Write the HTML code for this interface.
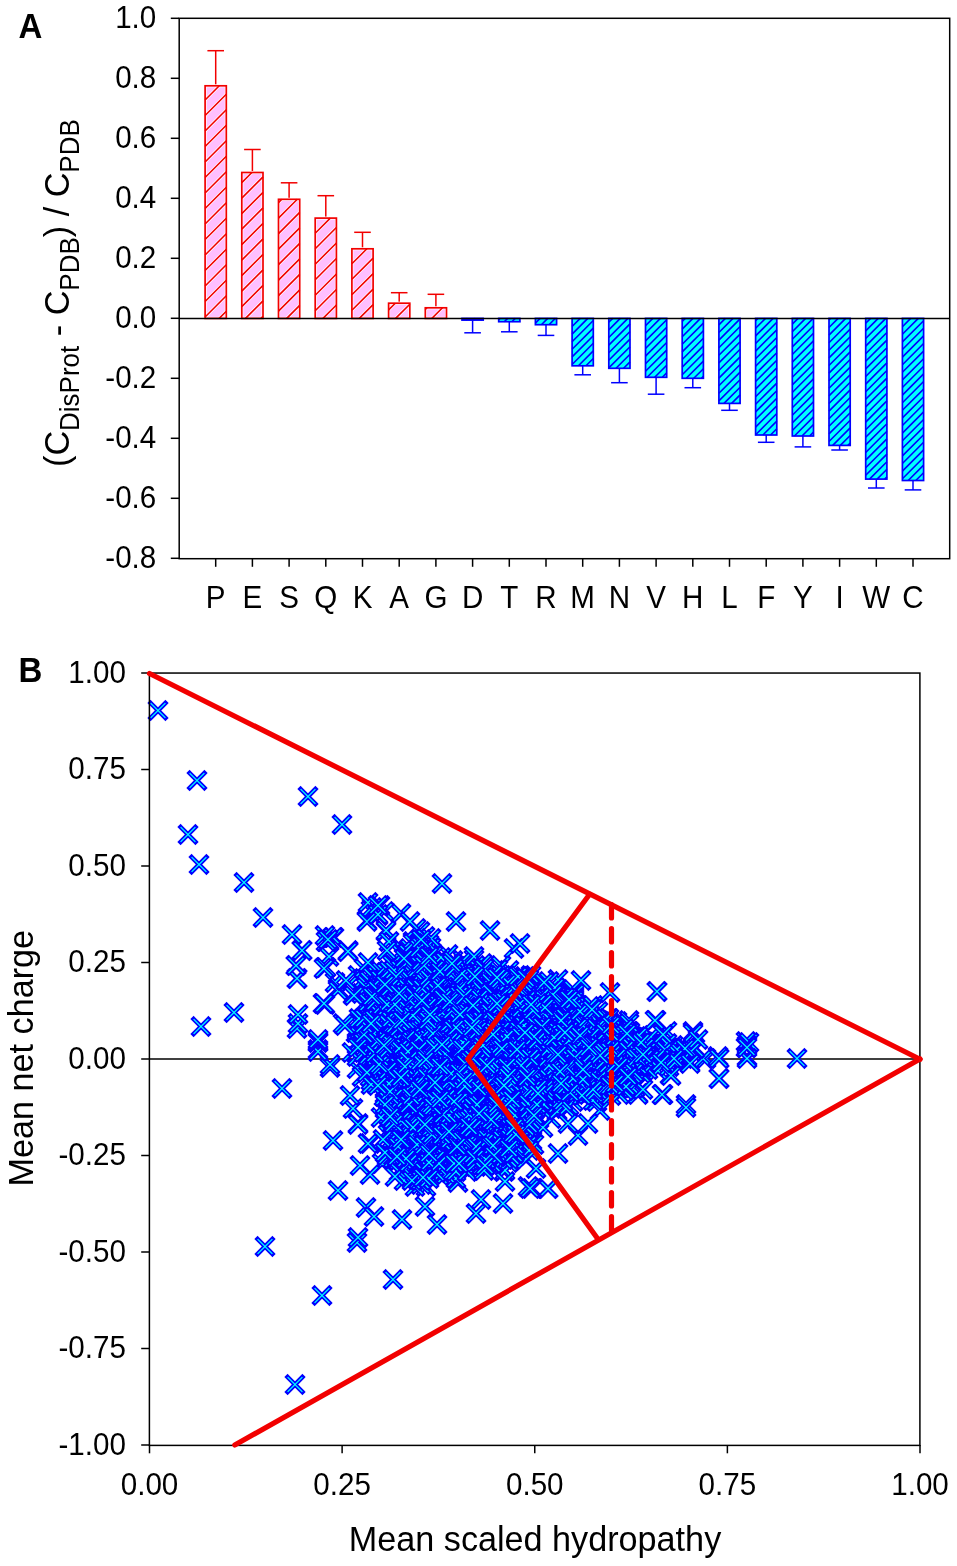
<!DOCTYPE html>
<html><head><meta charset="utf-8"><style>
html,body{margin:0;padding:0;background:#fff;}
body{width:957px;height:1566px;overflow:hidden;}
svg{display:block;will-change:transform;}
</style></head><body>
<svg width="957" height="1566" viewBox="0 0 957 1566">
<rect width="957" height="1566" fill="#fff"/>
<line x1="215.70" y1="85.80" x2="215.70" y2="50.70" stroke="#F20000" stroke-width="1.5"/>
<line x1="207.40" y1="50.70" x2="224.00" y2="50.70" stroke="#F20000" stroke-width="1.5"/>
<rect x="205.10" y="85.80" width="21.20" height="232.60" fill="#FFBFFF" stroke="#FFFFFF" stroke-width="3.0"/>
<path d="M205.10,100.00L219.30,85.80M205.10,115.50L226.30,94.30M205.10,131.00L226.30,109.80M205.10,146.50L226.30,125.30M205.10,162.00L226.30,140.80M205.10,177.50L226.30,156.30M205.10,193.00L226.30,171.80M205.10,208.50L226.30,187.30M205.10,224.00L226.30,202.80M205.10,239.50L226.30,218.30M205.10,255.00L226.30,233.80M205.10,270.50L226.30,249.30M205.10,286.00L226.30,264.80M205.10,301.50L226.30,280.30M205.10,317.00L226.30,295.80M219.20,318.40L226.30,311.30" stroke="#FFFFFF" stroke-width="3.0"/>
<path d="M205.10,100.00L219.30,85.80M205.10,115.50L226.30,94.30M205.10,131.00L226.30,109.80M205.10,146.50L226.30,125.30M205.10,162.00L226.30,140.80M205.10,177.50L226.30,156.30M205.10,193.00L226.30,171.80M205.10,208.50L226.30,187.30M205.10,224.00L226.30,202.80M205.10,239.50L226.30,218.30M205.10,255.00L226.30,233.80M205.10,270.50L226.30,249.30M205.10,286.00L226.30,264.80M205.10,301.50L226.30,280.30M205.10,317.00L226.30,295.80M219.20,318.40L226.30,311.30" stroke="#F20000" stroke-width="1.6"/>
<rect x="205.10" y="85.80" width="21.20" height="232.60" fill="none" stroke="#F20000" stroke-width="1.7"/>
<line x1="252.40" y1="172.50" x2="252.40" y2="149.50" stroke="#F20000" stroke-width="1.5"/>
<line x1="244.10" y1="149.50" x2="260.70" y2="149.50" stroke="#F20000" stroke-width="1.5"/>
<rect x="241.80" y="172.50" width="21.20" height="145.90" fill="#FFBFFF" stroke="#FFFFFF" stroke-width="3.0"/>
<path d="M241.80,182.60L251.90,172.50M241.80,198.10L263.00,176.90M241.80,213.60L263.00,192.40M241.80,229.10L263.00,207.90M241.80,244.60L263.00,223.40M241.80,260.10L263.00,238.90M241.80,275.60L263.00,254.40M241.80,291.10L263.00,269.90M241.80,306.60L263.00,285.40M245.50,318.40L263.00,300.90M261.00,318.40L263.00,316.40" stroke="#FFFFFF" stroke-width="3.0"/>
<path d="M241.80,182.60L251.90,172.50M241.80,198.10L263.00,176.90M241.80,213.60L263.00,192.40M241.80,229.10L263.00,207.90M241.80,244.60L263.00,223.40M241.80,260.10L263.00,238.90M241.80,275.60L263.00,254.40M241.80,291.10L263.00,269.90M241.80,306.60L263.00,285.40M245.50,318.40L263.00,300.90M261.00,318.40L263.00,316.40" stroke="#F20000" stroke-width="1.6"/>
<rect x="241.80" y="172.50" width="21.20" height="145.90" fill="none" stroke="#F20000" stroke-width="1.7"/>
<line x1="289.10" y1="199.30" x2="289.10" y2="182.80" stroke="#F20000" stroke-width="1.5"/>
<line x1="280.80" y1="182.80" x2="297.40" y2="182.80" stroke="#F20000" stroke-width="1.5"/>
<rect x="278.50" y="199.30" width="21.20" height="119.10" fill="#FFBFFF" stroke="#FFFFFF" stroke-width="3.0"/>
<path d="M278.50,202.60L281.80,199.30M278.50,218.10L297.30,199.30M278.50,233.60L299.70,212.40M278.50,249.10L299.70,227.90M278.50,264.60L299.70,243.40M278.50,280.10L299.70,258.90M278.50,295.60L299.70,274.40M278.50,311.10L299.70,289.90M286.70,318.40L299.70,305.40" stroke="#FFFFFF" stroke-width="3.0"/>
<path d="M278.50,202.60L281.80,199.30M278.50,218.10L297.30,199.30M278.50,233.60L299.70,212.40M278.50,249.10L299.70,227.90M278.50,264.60L299.70,243.40M278.50,280.10L299.70,258.90M278.50,295.60L299.70,274.40M278.50,311.10L299.70,289.90M286.70,318.40L299.70,305.40" stroke="#F20000" stroke-width="1.6"/>
<rect x="278.50" y="199.30" width="21.20" height="119.10" fill="none" stroke="#F20000" stroke-width="1.7"/>
<line x1="325.80" y1="218.10" x2="325.80" y2="195.70" stroke="#F20000" stroke-width="1.5"/>
<line x1="317.50" y1="195.70" x2="334.10" y2="195.70" stroke="#F20000" stroke-width="1.5"/>
<rect x="315.20" y="218.10" width="21.20" height="100.30" fill="#FFBFFF" stroke="#FFFFFF" stroke-width="3.0"/>
<path d="M315.20,233.20L330.30,218.10M315.20,248.70L336.40,227.50M315.20,264.20L336.40,243.00M315.20,279.70L336.40,258.50M315.20,295.20L336.40,274.00M315.20,310.70L336.40,289.50M323.00,318.40L336.40,305.00" stroke="#FFFFFF" stroke-width="3.0"/>
<path d="M315.20,233.20L330.30,218.10M315.20,248.70L336.40,227.50M315.20,264.20L336.40,243.00M315.20,279.70L336.40,258.50M315.20,295.20L336.40,274.00M315.20,310.70L336.40,289.50M323.00,318.40L336.40,305.00" stroke="#F20000" stroke-width="1.6"/>
<rect x="315.20" y="218.10" width="21.20" height="100.30" fill="none" stroke="#F20000" stroke-width="1.7"/>
<line x1="362.50" y1="248.80" x2="362.50" y2="232.30" stroke="#F20000" stroke-width="1.5"/>
<line x1="354.20" y1="232.30" x2="370.80" y2="232.30" stroke="#F20000" stroke-width="1.5"/>
<rect x="351.90" y="248.80" width="21.20" height="69.60" fill="#FFBFFF" stroke="#FFFFFF" stroke-width="3.0"/>
<path d="M351.90,263.80L366.90,248.80M351.90,279.30L373.10,258.10M351.90,294.80L373.10,273.60M351.90,310.30L373.10,289.10M359.30,318.40L373.10,304.60" stroke="#FFFFFF" stroke-width="3.0"/>
<path d="M351.90,263.80L366.90,248.80M351.90,279.30L373.10,258.10M351.90,294.80L373.10,273.60M351.90,310.30L373.10,289.10M359.30,318.40L373.10,304.60" stroke="#F20000" stroke-width="1.6"/>
<rect x="351.90" y="248.80" width="21.20" height="69.60" fill="none" stroke="#F20000" stroke-width="1.7"/>
<line x1="399.20" y1="303.20" x2="399.20" y2="292.70" stroke="#F20000" stroke-width="1.5"/>
<line x1="390.90" y1="292.70" x2="407.50" y2="292.70" stroke="#F20000" stroke-width="1.5"/>
<rect x="388.60" y="303.20" width="21.20" height="15.20" fill="#FFBFFF" stroke="#FFFFFF" stroke-width="3.0"/>
<path d="M388.60,309.90L395.30,303.20M395.60,318.40L409.80,304.20" stroke="#FFFFFF" stroke-width="3.0"/>
<path d="M388.60,309.90L395.30,303.20M395.60,318.40L409.80,304.20" stroke="#F20000" stroke-width="1.6"/>
<rect x="388.60" y="303.20" width="21.20" height="15.20" fill="none" stroke="#F20000" stroke-width="1.7"/>
<line x1="435.90" y1="307.80" x2="435.90" y2="294.30" stroke="#F20000" stroke-width="1.5"/>
<line x1="427.60" y1="294.30" x2="444.20" y2="294.30" stroke="#F20000" stroke-width="1.5"/>
<rect x="425.30" y="307.80" width="21.20" height="10.60" fill="#FFBFFF" stroke="#FFFFFF" stroke-width="3.0"/>
<path d="M425.30,309.50L427.00,307.80M431.90,318.40L442.50,307.80" stroke="#FFFFFF" stroke-width="3.0"/>
<path d="M425.30,309.50L427.00,307.80M431.90,318.40L442.50,307.80" stroke="#F20000" stroke-width="1.6"/>
<rect x="425.30" y="307.80" width="21.20" height="10.60" fill="none" stroke="#F20000" stroke-width="1.7"/>
<line x1="472.60" y1="320.10" x2="472.60" y2="332.80" stroke="#0000FF" stroke-width="1.5"/>
<line x1="464.30" y1="332.80" x2="480.90" y2="332.80" stroke="#0000FF" stroke-width="1.5"/>
<rect x="462.00" y="318.40" width="21.20" height="1.70" fill="#00FFFF"/>
<path d="M465.80,320.10L467.50,318.40M473.40,320.10L475.10,318.40M481.00,320.10L482.70,318.40" stroke="#0000FF" stroke-width="1.6"/>
<rect x="462.00" y="318.40" width="21.20" height="1.70" fill="none" stroke="#0000FF" stroke-width="1.7"/>
<line x1="509.30" y1="321.70" x2="509.30" y2="331.80" stroke="#0000FF" stroke-width="1.5"/>
<line x1="501.00" y1="331.80" x2="517.60" y2="331.80" stroke="#0000FF" stroke-width="1.5"/>
<rect x="498.70" y="318.40" width="21.20" height="3.30" fill="#00FFFF"/>
<path d="M498.70,319.70L500.00,318.40M504.30,321.70L507.60,318.40M511.90,321.70L515.20,318.40M519.50,321.70L519.90,321.30" stroke="#0000FF" stroke-width="1.6"/>
<rect x="498.70" y="318.40" width="21.20" height="3.30" fill="none" stroke="#0000FF" stroke-width="1.7"/>
<line x1="546.00" y1="324.70" x2="546.00" y2="335.40" stroke="#0000FF" stroke-width="1.5"/>
<line x1="537.70" y1="335.40" x2="554.30" y2="335.40" stroke="#0000FF" stroke-width="1.5"/>
<rect x="535.40" y="318.40" width="21.20" height="6.30" fill="#00FFFF"/>
<path d="M535.40,323.10L540.10,318.40M541.40,324.70L547.70,318.40M549.00,324.70L555.30,318.40" stroke="#0000FF" stroke-width="1.6"/>
<rect x="535.40" y="318.40" width="21.20" height="6.30" fill="none" stroke="#0000FF" stroke-width="1.7"/>
<line x1="582.70" y1="365.80" x2="582.70" y2="374.80" stroke="#0000FF" stroke-width="1.5"/>
<line x1="574.40" y1="374.80" x2="591.00" y2="374.80" stroke="#0000FF" stroke-width="1.5"/>
<rect x="572.10" y="318.40" width="21.20" height="47.40" fill="#00FFFF"/>
<path d="M572.10,318.90L572.60,318.40M572.10,326.50L580.20,318.40M572.10,334.10L587.80,318.40M572.10,341.70L593.30,320.50M572.10,349.30L593.30,328.10M572.10,356.90L593.30,335.70M572.10,364.50L593.30,343.30M578.40,365.80L593.30,350.90M586.00,365.80L593.30,358.50" stroke="#0000FF" stroke-width="1.6"/>
<rect x="572.10" y="318.40" width="21.20" height="47.40" fill="none" stroke="#0000FF" stroke-width="1.7"/>
<line x1="619.40" y1="368.30" x2="619.40" y2="382.70" stroke="#0000FF" stroke-width="1.5"/>
<line x1="611.10" y1="382.70" x2="627.70" y2="382.70" stroke="#0000FF" stroke-width="1.5"/>
<rect x="608.80" y="318.40" width="21.20" height="49.90" fill="#00FFFF"/>
<path d="M608.80,322.30L612.70,318.40M608.80,329.90L620.30,318.40M608.80,337.50L627.90,318.40M608.80,345.10L630.00,323.90M608.80,352.70L630.00,331.50M608.80,360.30L630.00,339.10M608.80,367.90L630.00,346.70M616.00,368.30L630.00,354.30M623.60,368.30L630.00,361.90" stroke="#0000FF" stroke-width="1.6"/>
<rect x="608.80" y="318.40" width="21.20" height="49.90" fill="none" stroke="#0000FF" stroke-width="1.7"/>
<line x1="656.10" y1="377.30" x2="656.10" y2="394.20" stroke="#0000FF" stroke-width="1.5"/>
<line x1="647.80" y1="394.20" x2="664.40" y2="394.20" stroke="#0000FF" stroke-width="1.5"/>
<rect x="645.50" y="318.40" width="21.20" height="58.90" fill="#00FFFF"/>
<path d="M645.50,325.70L652.80,318.40M645.50,333.30L660.40,318.40M645.50,340.90L666.70,319.70M645.50,348.50L666.70,327.30M645.50,356.10L666.70,334.90M645.50,363.70L666.70,342.50M645.50,371.30L666.70,350.10M647.10,377.30L666.70,357.70M654.70,377.30L666.70,365.30M662.30,377.30L666.70,372.90" stroke="#0000FF" stroke-width="1.6"/>
<rect x="645.50" y="318.40" width="21.20" height="58.90" fill="none" stroke="#0000FF" stroke-width="1.7"/>
<line x1="692.80" y1="378.30" x2="692.80" y2="387.70" stroke="#0000FF" stroke-width="1.5"/>
<line x1="684.50" y1="387.70" x2="701.10" y2="387.70" stroke="#0000FF" stroke-width="1.5"/>
<rect x="682.20" y="318.40" width="21.20" height="59.90" fill="#00FFFF"/>
<path d="M682.20,321.50L685.30,318.40M682.20,329.10L692.90,318.40M682.20,336.70L700.50,318.40M682.20,344.30L703.40,323.10M682.20,351.90L703.40,330.70M682.20,359.50L703.40,338.30M682.20,367.10L703.40,345.90M682.20,374.70L703.40,353.50M686.20,378.30L703.40,361.10M693.80,378.30L703.40,368.70M701.40,378.30L703.40,376.30" stroke="#0000FF" stroke-width="1.6"/>
<rect x="682.20" y="318.40" width="21.20" height="59.90" fill="none" stroke="#0000FF" stroke-width="1.7"/>
<line x1="729.50" y1="403.40" x2="729.50" y2="410.30" stroke="#0000FF" stroke-width="1.5"/>
<line x1="721.20" y1="410.30" x2="737.80" y2="410.30" stroke="#0000FF" stroke-width="1.5"/>
<rect x="718.90" y="318.40" width="21.20" height="85.00" fill="#00FFFF"/>
<path d="M718.90,324.90L725.40,318.40M718.90,332.50L733.00,318.40M718.90,340.10L740.10,318.90M718.90,347.70L740.10,326.50M718.90,355.30L740.10,334.10M718.90,362.90L740.10,341.70M718.90,370.50L740.10,349.30M718.90,378.10L740.10,356.90M718.90,385.70L740.10,364.50M718.90,393.30L740.10,372.10M718.90,400.90L740.10,379.70M724.00,403.40L740.10,387.30M731.60,403.40L740.10,394.90M739.20,403.40L740.10,402.50" stroke="#0000FF" stroke-width="1.6"/>
<rect x="718.90" y="318.40" width="21.20" height="85.00" fill="none" stroke="#0000FF" stroke-width="1.7"/>
<line x1="766.20" y1="435.00" x2="766.20" y2="442.30" stroke="#0000FF" stroke-width="1.5"/>
<line x1="757.90" y1="442.30" x2="774.50" y2="442.30" stroke="#0000FF" stroke-width="1.5"/>
<rect x="755.60" y="318.40" width="21.20" height="116.60" fill="#00FFFF"/>
<path d="M755.60,320.70L757.90,318.40M755.60,328.30L765.50,318.40M755.60,335.90L773.10,318.40M755.60,343.50L776.80,322.30M755.60,351.10L776.80,329.90M755.60,358.70L776.80,337.50M755.60,366.30L776.80,345.10M755.60,373.90L776.80,352.70M755.60,381.50L776.80,360.30M755.60,389.10L776.80,367.90M755.60,396.70L776.80,375.50M755.60,404.30L776.80,383.10M755.60,411.90L776.80,390.70M755.60,419.50L776.80,398.30M755.60,427.10L776.80,405.90M755.60,434.70L776.80,413.50M762.90,435.00L776.80,421.10M770.50,435.00L776.80,428.70" stroke="#0000FF" stroke-width="1.6"/>
<rect x="755.60" y="318.40" width="21.20" height="116.60" fill="none" stroke="#0000FF" stroke-width="1.7"/>
<line x1="802.90" y1="436.00" x2="802.90" y2="446.90" stroke="#0000FF" stroke-width="1.5"/>
<line x1="794.60" y1="446.90" x2="811.20" y2="446.90" stroke="#0000FF" stroke-width="1.5"/>
<rect x="792.30" y="318.40" width="21.20" height="117.60" fill="#00FFFF"/>
<path d="M792.30,324.10L798.00,318.40M792.30,331.70L805.60,318.40M792.30,339.30L813.20,318.40M792.30,346.90L813.50,325.70M792.30,354.50L813.50,333.30M792.30,362.10L813.50,340.90M792.30,369.70L813.50,348.50M792.30,377.30L813.50,356.10M792.30,384.90L813.50,363.70M792.30,392.50L813.50,371.30M792.30,400.10L813.50,378.90M792.30,407.70L813.50,386.50M792.30,415.30L813.50,394.10M792.30,422.90L813.50,401.70M792.30,430.50L813.50,409.30M794.40,436.00L813.50,416.90M802.00,436.00L813.50,424.50M809.60,436.00L813.50,432.10" stroke="#0000FF" stroke-width="1.6"/>
<rect x="792.30" y="318.40" width="21.20" height="117.60" fill="none" stroke="#0000FF" stroke-width="1.7"/>
<line x1="839.60" y1="445.40" x2="839.60" y2="450.00" stroke="#0000FF" stroke-width="1.5"/>
<line x1="831.30" y1="450.00" x2="847.90" y2="450.00" stroke="#0000FF" stroke-width="1.5"/>
<rect x="829.00" y="318.40" width="21.20" height="127.00" fill="#00FFFF"/>
<path d="M829.00,319.90L830.50,318.40M829.00,327.50L838.10,318.40M829.00,335.10L845.70,318.40M829.00,342.70L850.20,321.50M829.00,350.30L850.20,329.10M829.00,357.90L850.20,336.70M829.00,365.50L850.20,344.30M829.00,373.10L850.20,351.90M829.00,380.70L850.20,359.50M829.00,388.30L850.20,367.10M829.00,395.90L850.20,374.70M829.00,403.50L850.20,382.30M829.00,411.10L850.20,389.90M829.00,418.70L850.20,397.50M829.00,426.30L850.20,405.10M829.00,433.90L850.20,412.70M829.00,441.50L850.20,420.30M832.70,445.40L850.20,427.90M840.30,445.40L850.20,435.50M847.90,445.40L850.20,443.10" stroke="#0000FF" stroke-width="1.6"/>
<rect x="829.00" y="318.40" width="21.20" height="127.00" fill="none" stroke="#0000FF" stroke-width="1.7"/>
<line x1="876.30" y1="479.10" x2="876.30" y2="488.00" stroke="#0000FF" stroke-width="1.5"/>
<line x1="868.00" y1="488.00" x2="884.60" y2="488.00" stroke="#0000FF" stroke-width="1.5"/>
<rect x="865.70" y="318.40" width="21.20" height="160.70" fill="#00FFFF"/>
<path d="M865.70,323.30L870.60,318.40M865.70,330.90L878.20,318.40M865.70,338.50L885.80,318.40M865.70,346.10L886.90,324.90M865.70,353.70L886.90,332.50M865.70,361.30L886.90,340.10M865.70,368.90L886.90,347.70M865.70,376.50L886.90,355.30M865.70,384.10L886.90,362.90M865.70,391.70L886.90,370.50M865.70,399.30L886.90,378.10M865.70,406.90L886.90,385.70M865.70,414.50L886.90,393.30M865.70,422.10L886.90,400.90M865.70,429.70L886.90,408.50M865.70,437.30L886.90,416.10M865.70,444.90L886.90,423.70M865.70,452.50L886.90,431.30M865.70,460.10L886.90,438.90M865.70,467.70L886.90,446.50M865.70,475.30L886.90,454.10M869.50,479.10L886.90,461.70M877.10,479.10L886.90,469.30M884.70,479.10L886.90,476.90" stroke="#0000FF" stroke-width="1.6"/>
<rect x="865.70" y="318.40" width="21.20" height="160.70" fill="none" stroke="#0000FF" stroke-width="1.7"/>
<line x1="913.00" y1="480.50" x2="913.00" y2="489.90" stroke="#0000FF" stroke-width="1.5"/>
<line x1="904.70" y1="489.90" x2="921.30" y2="489.90" stroke="#0000FF" stroke-width="1.5"/>
<rect x="902.40" y="318.40" width="21.20" height="162.10" fill="#00FFFF"/>
<path d="M902.40,319.10L903.10,318.40M902.40,326.70L910.70,318.40M902.40,334.30L918.30,318.40M902.40,341.90L923.60,320.70M902.40,349.50L923.60,328.30M902.40,357.10L923.60,335.90M902.40,364.70L923.60,343.50M902.40,372.30L923.60,351.10M902.40,379.90L923.60,358.70M902.40,387.50L923.60,366.30M902.40,395.10L923.60,373.90M902.40,402.70L923.60,381.50M902.40,410.30L923.60,389.10M902.40,417.90L923.60,396.70M902.40,425.50L923.60,404.30M902.40,433.10L923.60,411.90M902.40,440.70L923.60,419.50M902.40,448.30L923.60,427.10M902.40,455.90L923.60,434.70M902.40,463.50L923.60,442.30M902.40,471.10L923.60,449.90M902.40,478.70L923.60,457.50M908.20,480.50L923.60,465.10M915.80,480.50L923.60,472.70M923.40,480.50L923.60,480.30" stroke="#0000FF" stroke-width="1.6"/>
<rect x="902.40" y="318.40" width="21.20" height="162.10" fill="none" stroke="#0000FF" stroke-width="1.7"/>
<line x1="179.0" y1="318.4" x2="949.7" y2="318.4" stroke="#000" stroke-width="1.5"/>
<rect x="179.2" y="18.3" width="770.5" height="540.4" fill="none" stroke="#000" stroke-width="1.5"/>
<line x1="170.8" y1="18.30" x2="179.0" y2="18.30" stroke="#000" stroke-width="1.5"/>
<text transform="translate(156.30,28.20) scale(1,1.075)" text-anchor="end" font-size="29.6" font-family='"Liberation Sans", sans-serif'>1.0</text>
<line x1="170.8" y1="78.30" x2="179.0" y2="78.30" stroke="#000" stroke-width="1.5"/>
<text transform="translate(156.30,88.20) scale(1,1.075)" text-anchor="end" font-size="29.6" font-family='"Liberation Sans", sans-serif'>0.8</text>
<line x1="170.8" y1="138.30" x2="179.0" y2="138.30" stroke="#000" stroke-width="1.5"/>
<text transform="translate(156.30,148.20) scale(1,1.075)" text-anchor="end" font-size="29.6" font-family='"Liberation Sans", sans-serif'>0.6</text>
<line x1="170.8" y1="198.30" x2="179.0" y2="198.30" stroke="#000" stroke-width="1.5"/>
<text transform="translate(156.30,208.20) scale(1,1.075)" text-anchor="end" font-size="29.6" font-family='"Liberation Sans", sans-serif'>0.4</text>
<line x1="170.8" y1="258.30" x2="179.0" y2="258.30" stroke="#000" stroke-width="1.5"/>
<text transform="translate(156.30,268.20) scale(1,1.075)" text-anchor="end" font-size="29.6" font-family='"Liberation Sans", sans-serif'>0.2</text>
<line x1="170.8" y1="318.30" x2="179.0" y2="318.30" stroke="#000" stroke-width="1.5"/>
<text transform="translate(156.30,328.20) scale(1,1.075)" text-anchor="end" font-size="29.6" font-family='"Liberation Sans", sans-serif'>0.0</text>
<line x1="170.8" y1="378.30" x2="179.0" y2="378.30" stroke="#000" stroke-width="1.5"/>
<text transform="translate(156.30,388.20) scale(1,1.075)" text-anchor="end" font-size="29.6" font-family='"Liberation Sans", sans-serif'>-0.2</text>
<line x1="170.8" y1="438.30" x2="179.0" y2="438.30" stroke="#000" stroke-width="1.5"/>
<text transform="translate(156.30,448.20) scale(1,1.075)" text-anchor="end" font-size="29.6" font-family='"Liberation Sans", sans-serif'>-0.4</text>
<line x1="170.8" y1="498.30" x2="179.0" y2="498.30" stroke="#000" stroke-width="1.5"/>
<text transform="translate(156.30,508.20) scale(1,1.075)" text-anchor="end" font-size="29.6" font-family='"Liberation Sans", sans-serif'>-0.6</text>
<line x1="170.8" y1="558.30" x2="179.0" y2="558.30" stroke="#000" stroke-width="1.5"/>
<text transform="translate(156.30,568.20) scale(1,1.075)" text-anchor="end" font-size="29.6" font-family='"Liberation Sans", sans-serif'>-0.8</text>
<line x1="215.70" y1="558.5" x2="215.70" y2="566.8" stroke="#000" stroke-width="1.5"/>
<text transform="translate(215.70,607.90) scale(1,1.075)" text-anchor="middle" font-size="29.6" font-family='"Liberation Sans", sans-serif'>P</text>
<line x1="252.40" y1="558.5" x2="252.40" y2="566.8" stroke="#000" stroke-width="1.5"/>
<text transform="translate(252.40,607.90) scale(1,1.075)" text-anchor="middle" font-size="29.6" font-family='"Liberation Sans", sans-serif'>E</text>
<line x1="289.10" y1="558.5" x2="289.10" y2="566.8" stroke="#000" stroke-width="1.5"/>
<text transform="translate(289.10,607.90) scale(1,1.075)" text-anchor="middle" font-size="29.6" font-family='"Liberation Sans", sans-serif'>S</text>
<line x1="325.80" y1="558.5" x2="325.80" y2="566.8" stroke="#000" stroke-width="1.5"/>
<text transform="translate(325.80,607.90) scale(1,1.075)" text-anchor="middle" font-size="29.6" font-family='"Liberation Sans", sans-serif'>Q</text>
<line x1="362.50" y1="558.5" x2="362.50" y2="566.8" stroke="#000" stroke-width="1.5"/>
<text transform="translate(362.50,607.90) scale(1,1.075)" text-anchor="middle" font-size="29.6" font-family='"Liberation Sans", sans-serif'>K</text>
<line x1="399.20" y1="558.5" x2="399.20" y2="566.8" stroke="#000" stroke-width="1.5"/>
<text transform="translate(399.20,607.90) scale(1,1.075)" text-anchor="middle" font-size="29.6" font-family='"Liberation Sans", sans-serif'>A</text>
<line x1="435.90" y1="558.5" x2="435.90" y2="566.8" stroke="#000" stroke-width="1.5"/>
<text transform="translate(435.90,607.90) scale(1,1.075)" text-anchor="middle" font-size="29.6" font-family='"Liberation Sans", sans-serif'>G</text>
<line x1="472.60" y1="558.5" x2="472.60" y2="566.8" stroke="#000" stroke-width="1.5"/>
<text transform="translate(472.60,607.90) scale(1,1.075)" text-anchor="middle" font-size="29.6" font-family='"Liberation Sans", sans-serif'>D</text>
<line x1="509.30" y1="558.5" x2="509.30" y2="566.8" stroke="#000" stroke-width="1.5"/>
<text transform="translate(509.30,607.90) scale(1,1.075)" text-anchor="middle" font-size="29.6" font-family='"Liberation Sans", sans-serif'>T</text>
<line x1="546.00" y1="558.5" x2="546.00" y2="566.8" stroke="#000" stroke-width="1.5"/>
<text transform="translate(546.00,607.90) scale(1,1.075)" text-anchor="middle" font-size="29.6" font-family='"Liberation Sans", sans-serif'>R</text>
<line x1="582.70" y1="558.5" x2="582.70" y2="566.8" stroke="#000" stroke-width="1.5"/>
<text transform="translate(582.70,607.90) scale(1,1.075)" text-anchor="middle" font-size="29.6" font-family='"Liberation Sans", sans-serif'>M</text>
<line x1="619.40" y1="558.5" x2="619.40" y2="566.8" stroke="#000" stroke-width="1.5"/>
<text transform="translate(619.40,607.90) scale(1,1.075)" text-anchor="middle" font-size="29.6" font-family='"Liberation Sans", sans-serif'>N</text>
<line x1="656.10" y1="558.5" x2="656.10" y2="566.8" stroke="#000" stroke-width="1.5"/>
<text transform="translate(656.10,607.90) scale(1,1.075)" text-anchor="middle" font-size="29.6" font-family='"Liberation Sans", sans-serif'>V</text>
<line x1="692.80" y1="558.5" x2="692.80" y2="566.8" stroke="#000" stroke-width="1.5"/>
<text transform="translate(692.80,607.90) scale(1,1.075)" text-anchor="middle" font-size="29.6" font-family='"Liberation Sans", sans-serif'>H</text>
<line x1="729.50" y1="558.5" x2="729.50" y2="566.8" stroke="#000" stroke-width="1.5"/>
<text transform="translate(729.50,607.90) scale(1,1.075)" text-anchor="middle" font-size="29.6" font-family='"Liberation Sans", sans-serif'>L</text>
<line x1="766.20" y1="558.5" x2="766.20" y2="566.8" stroke="#000" stroke-width="1.5"/>
<text transform="translate(766.20,607.90) scale(1,1.075)" text-anchor="middle" font-size="29.6" font-family='"Liberation Sans", sans-serif'>F</text>
<line x1="802.90" y1="558.5" x2="802.90" y2="566.8" stroke="#000" stroke-width="1.5"/>
<text transform="translate(802.90,607.90) scale(1,1.075)" text-anchor="middle" font-size="29.6" font-family='"Liberation Sans", sans-serif'>Y</text>
<line x1="839.60" y1="558.5" x2="839.60" y2="566.8" stroke="#000" stroke-width="1.5"/>
<text transform="translate(839.60,607.90) scale(1,1.075)" text-anchor="middle" font-size="29.6" font-family='"Liberation Sans", sans-serif'>I</text>
<line x1="876.30" y1="558.5" x2="876.30" y2="566.8" stroke="#000" stroke-width="1.5"/>
<text transform="translate(876.30,607.90) scale(1,1.075)" text-anchor="middle" font-size="29.6" font-family='"Liberation Sans", sans-serif'>W</text>
<line x1="913.00" y1="558.5" x2="913.00" y2="566.8" stroke="#000" stroke-width="1.5"/>
<text transform="translate(913.00,607.90) scale(1,1.075)" text-anchor="middle" font-size="29.6" font-family='"Liberation Sans", sans-serif'>C</text>
<text transform="translate(18.50,37.90) scale(1,1.04)" text-anchor="start" font-size="33" font-weight="bold" font-family='"Liberation Sans", sans-serif'>A</text>
<text transform="translate(69.30,467.00) rotate(-90) scale(1,1.05)" text-anchor="start" font-size="34.2" font-family='"Liberation Sans", sans-serif'>(C<tspan font-size="26" dy="9.3">DisProt</tspan><tspan dy="-9.3"> - C</tspan><tspan font-size="26" dy="9.3">PDB</tspan><tspan dy="-9.3">) / C</tspan><tspan font-size="26" dy="9.3">PDB</tspan></text>
<line x1="149.5" y1="1059.00" x2="920.0" y2="1059.00" stroke="#000" stroke-width="1.5"/>
<style>.b{stroke:#0000FF;stroke-width:4.6px;stroke-linecap:square;fill:none}.c{stroke:#00FFFF;stroke-width:1.3px;fill:none}</style>
<polygon points="364.0,989.0 375.5,974.9 391.8,963.8 401.2,950.5 413.5,943.1 428.9,943.6 443.6,956.8 458.7,959.2 478.3,962.7 497.6,967.0 516.7,972.9 532.1,974.5 545.9,978.0 564.1,989.8 587.6,1000.2 611.7,1013.5 631.4,1022.5 651.2,1031.7 671.1,1037.2 683.0,1042.8 695.0,1052.3 689.0,1064.7 671.0,1065.7 661.0,1069.4 641.1,1081.6 631.3,1095.5 611.5,1095.2 599.6,1094.9 587.0,1101.9 563.0,1107.3 547.4,1114.0 536.2,1128.8 525.9,1149.3 515.0,1163.1 496.6,1169.0 479.9,1171.2 458.4,1171.7 444.1,1174.0 429.5,1187.2 410.3,1187.7 396.2,1171.5 387.0,1154.3 385.6,1135.1 386.1,1116.1 378.6,1095.5 363.9,1076.9 359.0,1053.4 353.8,1026.9 364.5,1012.8 358.3,998.5" fill="#0000FF"/>
<path class="b" d="M500.6,974.1l14.8,14.8m0-14.8l-14.8,14.8"/><path class="c" d="M500.6,974.1l14.8,14.8m0-14.8l-14.8,14.8"/>
<path class="b" d="M738.6,1040.1l14.8,14.8m0-14.8l-14.8,14.8"/><path class="c" d="M738.6,1040.1l14.8,14.8m0-14.8l-14.8,14.8"/>
<path class="b" d="M468.6,1081.1l14.8,14.8m0-14.8l-14.8,14.8"/><path class="c" d="M468.6,1081.1l14.8,14.8m0-14.8l-14.8,14.8"/>
<path class="b" d="M410.6,1026.1l14.8,14.8m0-14.8l-14.8,14.8"/><path class="c" d="M410.6,1026.1l14.8,14.8m0-14.8l-14.8,14.8"/>
<path class="b" d="M545.6,1070.1l14.8,14.8m0-14.8l-14.8,14.8"/><path class="c" d="M545.6,1070.1l14.8,14.8m0-14.8l-14.8,14.8"/>
<path class="b" d="M576.6,1054.1l14.8,14.8m0-14.8l-14.8,14.8"/><path class="c" d="M576.6,1054.1l14.8,14.8m0-14.8l-14.8,14.8"/>
<path class="b" d="M536.6,1097.1l14.8,14.8m0-14.8l-14.8,14.8"/><path class="c" d="M536.6,1097.1l14.8,14.8m0-14.8l-14.8,14.8"/>
<path class="b" d="M475.6,1074.1l14.8,14.8m0-14.8l-14.8,14.8"/><path class="c" d="M475.6,1074.1l14.8,14.8m0-14.8l-14.8,14.8"/>
<path class="b" d="M447.6,960.1l14.8,14.8m0-14.8l-14.8,14.8"/><path class="c" d="M447.6,960.1l14.8,14.8m0-14.8l-14.8,14.8"/>
<path class="b" d="M340.6,944.1l14.8,14.8m0-14.8l-14.8,14.8"/><path class="c" d="M340.6,944.1l14.8,14.8m0-14.8l-14.8,14.8"/>
<path class="b" d="M561.6,1004.1l14.8,14.8m0-14.8l-14.8,14.8"/><path class="c" d="M561.6,1004.1l14.8,14.8m0-14.8l-14.8,14.8"/>
<path class="b" d="M502.6,1133.1l14.8,14.8m0-14.8l-14.8,14.8"/><path class="c" d="M502.6,1133.1l14.8,14.8m0-14.8l-14.8,14.8"/>
<path class="b" d="M327.6,975.1l14.8,14.8m0-14.8l-14.8,14.8"/><path class="c" d="M327.6,975.1l14.8,14.8m0-14.8l-14.8,14.8"/>
<path class="b" d="M467.6,994.1l14.8,14.8m0-14.8l-14.8,14.8"/><path class="c" d="M467.6,994.1l14.8,14.8m0-14.8l-14.8,14.8"/>
<path class="b" d="M515.6,991.1l14.8,14.8m0-14.8l-14.8,14.8"/><path class="c" d="M515.6,991.1l14.8,14.8m0-14.8l-14.8,14.8"/>
<path class="b" d="M433.6,953.1l14.8,14.8m0-14.8l-14.8,14.8"/><path class="c" d="M433.6,953.1l14.8,14.8m0-14.8l-14.8,14.8"/>
<path class="b" d="M529.6,981.1l14.8,14.8m0-14.8l-14.8,14.8"/><path class="c" d="M529.6,981.1l14.8,14.8m0-14.8l-14.8,14.8"/>
<path class="b" d="M436.6,1133.1l14.8,14.8m0-14.8l-14.8,14.8"/><path class="c" d="M436.6,1133.1l14.8,14.8m0-14.8l-14.8,14.8"/>
<path class="b" d="M451.6,1030.1l14.8,14.8m0-14.8l-14.8,14.8"/><path class="c" d="M451.6,1030.1l14.8,14.8m0-14.8l-14.8,14.8"/>
<path class="b" d="M633.6,1053.1l14.8,14.8m0-14.8l-14.8,14.8"/><path class="c" d="M633.6,1053.1l14.8,14.8m0-14.8l-14.8,14.8"/>
<path class="b" d="M601.6,1015.1l14.8,14.8m0-14.8l-14.8,14.8"/><path class="c" d="M601.6,1015.1l14.8,14.8m0-14.8l-14.8,14.8"/>
<path class="b" d="M468.6,1062.1l14.8,14.8m0-14.8l-14.8,14.8"/><path class="c" d="M468.6,1062.1l14.8,14.8m0-14.8l-14.8,14.8"/>
<path class="b" d="M193.6,1019.1l14.8,14.8m0-14.8l-14.8,14.8"/><path class="c" d="M193.6,1019.1l14.8,14.8m0-14.8l-14.8,14.8"/>
<path class="b" d="M523.6,1076.1l14.8,14.8m0-14.8l-14.8,14.8"/><path class="c" d="M523.6,1076.1l14.8,14.8m0-14.8l-14.8,14.8"/>
<path class="b" d="M506.6,941.1l14.8,14.8m0-14.8l-14.8,14.8"/><path class="c" d="M506.6,941.1l14.8,14.8m0-14.8l-14.8,14.8"/>
<path class="b" d="M510.6,1091.1l14.8,14.8m0-14.8l-14.8,14.8"/><path class="c" d="M510.6,1091.1l14.8,14.8m0-14.8l-14.8,14.8"/>
<path class="b" d="M464.6,995.1l14.8,14.8m0-14.8l-14.8,14.8"/><path class="c" d="M464.6,995.1l14.8,14.8m0-14.8l-14.8,14.8"/>
<path class="b" d="M402.6,1032.1l14.8,14.8m0-14.8l-14.8,14.8"/><path class="c" d="M402.6,1032.1l14.8,14.8m0-14.8l-14.8,14.8"/>
<path class="b" d="M454.6,1029.1l14.8,14.8m0-14.8l-14.8,14.8"/><path class="c" d="M454.6,1029.1l14.8,14.8m0-14.8l-14.8,14.8"/>
<path class="b" d="M390.6,973.1l14.8,14.8m0-14.8l-14.8,14.8"/><path class="c" d="M390.6,973.1l14.8,14.8m0-14.8l-14.8,14.8"/>
<path class="b" d="M662.6,1052.1l14.8,14.8m0-14.8l-14.8,14.8"/><path class="c" d="M662.6,1052.1l14.8,14.8m0-14.8l-14.8,14.8"/>
<path class="b" d="M450.6,998.1l14.8,14.8m0-14.8l-14.8,14.8"/><path class="c" d="M450.6,998.1l14.8,14.8m0-14.8l-14.8,14.8"/>
<path class="b" d="M523.6,984.1l14.8,14.8m0-14.8l-14.8,14.8"/><path class="c" d="M523.6,984.1l14.8,14.8m0-14.8l-14.8,14.8"/>
<path class="b" d="M485.6,1092.1l14.8,14.8m0-14.8l-14.8,14.8"/><path class="c" d="M485.6,1092.1l14.8,14.8m0-14.8l-14.8,14.8"/>
<path class="b" d="M500.6,1014.1l14.8,14.8m0-14.8l-14.8,14.8"/><path class="c" d="M500.6,1014.1l14.8,14.8m0-14.8l-14.8,14.8"/>
<path class="b" d="M519.6,1064.1l14.8,14.8m0-14.8l-14.8,14.8"/><path class="c" d="M519.6,1064.1l14.8,14.8m0-14.8l-14.8,14.8"/>
<path class="b" d="M385.6,1073.1l14.8,14.8m0-14.8l-14.8,14.8"/><path class="c" d="M385.6,1073.1l14.8,14.8m0-14.8l-14.8,14.8"/>
<path class="b" d="M605.6,1023.1l14.8,14.8m0-14.8l-14.8,14.8"/><path class="c" d="M605.6,1023.1l14.8,14.8m0-14.8l-14.8,14.8"/>
<path class="b" d="M621.6,1038.1l14.8,14.8m0-14.8l-14.8,14.8"/><path class="c" d="M621.6,1038.1l14.8,14.8m0-14.8l-14.8,14.8"/>
<path class="b" d="M370.6,1064.1l14.8,14.8m0-14.8l-14.8,14.8"/><path class="c" d="M370.6,1064.1l14.8,14.8m0-14.8l-14.8,14.8"/>
<path class="b" d="M538.6,1011.1l14.8,14.8m0-14.8l-14.8,14.8"/><path class="c" d="M538.6,1011.1l14.8,14.8m0-14.8l-14.8,14.8"/>
<path class="b" d="M415.6,1039.1l14.8,14.8m0-14.8l-14.8,14.8"/><path class="c" d="M415.6,1039.1l14.8,14.8m0-14.8l-14.8,14.8"/>
<path class="b" d="M479.6,1062.1l14.8,14.8m0-14.8l-14.8,14.8"/><path class="c" d="M479.6,1062.1l14.8,14.8m0-14.8l-14.8,14.8"/>
<path class="b" d="M386.6,953.1l14.8,14.8m0-14.8l-14.8,14.8"/><path class="c" d="M386.6,953.1l14.8,14.8m0-14.8l-14.8,14.8"/>
<path class="b" d="M599.6,1016.1l14.8,14.8m0-14.8l-14.8,14.8"/><path class="c" d="M599.6,1016.1l14.8,14.8m0-14.8l-14.8,14.8"/>
<path class="b" d="M392.6,1051.1l14.8,14.8m0-14.8l-14.8,14.8"/><path class="c" d="M392.6,1051.1l14.8,14.8m0-14.8l-14.8,14.8"/>
<path class="b" d="M394.6,1134.1l14.8,14.8m0-14.8l-14.8,14.8"/><path class="c" d="M394.6,1134.1l14.8,14.8m0-14.8l-14.8,14.8"/>
<path class="b" d="M503.6,1122.1l14.8,14.8m0-14.8l-14.8,14.8"/><path class="c" d="M503.6,1122.1l14.8,14.8m0-14.8l-14.8,14.8"/>
<path class="b" d="M407.6,1013.1l14.8,14.8m0-14.8l-14.8,14.8"/><path class="c" d="M407.6,1013.1l14.8,14.8m0-14.8l-14.8,14.8"/>
<path class="b" d="M364.6,1057.1l14.8,14.8m0-14.8l-14.8,14.8"/><path class="c" d="M364.6,1057.1l14.8,14.8m0-14.8l-14.8,14.8"/>
<path class="b" d="M517.6,1095.1l14.8,14.8m0-14.8l-14.8,14.8"/><path class="c" d="M517.6,1095.1l14.8,14.8m0-14.8l-14.8,14.8"/>
<path class="b" d="M392.6,993.1l14.8,14.8m0-14.8l-14.8,14.8"/><path class="c" d="M392.6,993.1l14.8,14.8m0-14.8l-14.8,14.8"/>
<path class="b" d="M350.6,1116.1l14.8,14.8m0-14.8l-14.8,14.8"/><path class="c" d="M350.6,1116.1l14.8,14.8m0-14.8l-14.8,14.8"/>
<path class="b" d="M363.6,903.1l14.8,14.8m0-14.8l-14.8,14.8"/><path class="c" d="M363.6,903.1l14.8,14.8m0-14.8l-14.8,14.8"/>
<path class="b" d="M510.6,1013.1l14.8,14.8m0-14.8l-14.8,14.8"/><path class="c" d="M510.6,1013.1l14.8,14.8m0-14.8l-14.8,14.8"/>
<path class="b" d="M371.6,1068.1l14.8,14.8m0-14.8l-14.8,14.8"/><path class="c" d="M371.6,1068.1l14.8,14.8m0-14.8l-14.8,14.8"/>
<path class="b" d="M598.6,1073.1l14.8,14.8m0-14.8l-14.8,14.8"/><path class="c" d="M598.6,1073.1l14.8,14.8m0-14.8l-14.8,14.8"/>
<path class="b" d="M711.6,1051.1l14.8,14.8m0-14.8l-14.8,14.8"/><path class="c" d="M711.6,1051.1l14.8,14.8m0-14.8l-14.8,14.8"/>
<path class="b" d="M412.6,980.1l14.8,14.8m0-14.8l-14.8,14.8"/><path class="c" d="M412.6,980.1l14.8,14.8m0-14.8l-14.8,14.8"/>
<path class="b" d="M496.6,1098.1l14.8,14.8m0-14.8l-14.8,14.8"/><path class="c" d="M496.6,1098.1l14.8,14.8m0-14.8l-14.8,14.8"/>
<path class="b" d="M513.6,1062.1l14.8,14.8m0-14.8l-14.8,14.8"/><path class="c" d="M513.6,1062.1l14.8,14.8m0-14.8l-14.8,14.8"/>
<path class="b" d="M487.6,1152.1l14.8,14.8m0-14.8l-14.8,14.8"/><path class="c" d="M487.6,1152.1l14.8,14.8m0-14.8l-14.8,14.8"/>
<path class="b" d="M477.6,994.1l14.8,14.8m0-14.8l-14.8,14.8"/><path class="c" d="M477.6,994.1l14.8,14.8m0-14.8l-14.8,14.8"/>
<path class="b" d="M330.6,1183.1l14.8,14.8m0-14.8l-14.8,14.8"/><path class="c" d="M330.6,1183.1l14.8,14.8m0-14.8l-14.8,14.8"/>
<path class="b" d="M443.6,1131.1l14.8,14.8m0-14.8l-14.8,14.8"/><path class="c" d="M443.6,1131.1l14.8,14.8m0-14.8l-14.8,14.8"/>
<path class="b" d="M373.6,964.1l14.8,14.8m0-14.8l-14.8,14.8"/><path class="c" d="M373.6,964.1l14.8,14.8m0-14.8l-14.8,14.8"/>
<path class="b" d="M531.6,1068.1l14.8,14.8m0-14.8l-14.8,14.8"/><path class="c" d="M531.6,1068.1l14.8,14.8m0-14.8l-14.8,14.8"/>
<path class="b" d="M566.6,989.1l14.8,14.8m0-14.8l-14.8,14.8"/><path class="c" d="M566.6,989.1l14.8,14.8m0-14.8l-14.8,14.8"/>
<path class="b" d="M399.6,944.1l14.8,14.8m0-14.8l-14.8,14.8"/><path class="c" d="M399.6,944.1l14.8,14.8m0-14.8l-14.8,14.8"/>
<path class="b" d="M510.6,980.1l14.8,14.8m0-14.8l-14.8,14.8"/><path class="c" d="M510.6,980.1l14.8,14.8m0-14.8l-14.8,14.8"/>
<path class="b" d="M451.6,970.1l14.8,14.8m0-14.8l-14.8,14.8"/><path class="c" d="M451.6,970.1l14.8,14.8m0-14.8l-14.8,14.8"/>
<path class="b" d="M498.6,991.1l14.8,14.8m0-14.8l-14.8,14.8"/><path class="c" d="M498.6,991.1l14.8,14.8m0-14.8l-14.8,14.8"/>
<path class="b" d="M546.6,1027.1l14.8,14.8m0-14.8l-14.8,14.8"/><path class="c" d="M546.6,1027.1l14.8,14.8m0-14.8l-14.8,14.8"/>
<path class="b" d="M468.6,1206.1l14.8,14.8m0-14.8l-14.8,14.8"/><path class="c" d="M468.6,1206.1l14.8,14.8m0-14.8l-14.8,14.8"/>
<path class="b" d="M519.6,984.1l14.8,14.8m0-14.8l-14.8,14.8"/><path class="c" d="M519.6,984.1l14.8,14.8m0-14.8l-14.8,14.8"/>
<path class="b" d="M546.6,984.1l14.8,14.8m0-14.8l-14.8,14.8"/><path class="c" d="M546.6,984.1l14.8,14.8m0-14.8l-14.8,14.8"/>
<path class="b" d="M599.6,1039.1l14.8,14.8m0-14.8l-14.8,14.8"/><path class="c" d="M599.6,1039.1l14.8,14.8m0-14.8l-14.8,14.8"/>
<path class="b" d="M590.6,1023.1l14.8,14.8m0-14.8l-14.8,14.8"/><path class="c" d="M590.6,1023.1l14.8,14.8m0-14.8l-14.8,14.8"/>
<path class="b" d="M340.6,943.1l14.8,14.8m0-14.8l-14.8,14.8"/><path class="c" d="M340.6,943.1l14.8,14.8m0-14.8l-14.8,14.8"/>
<path class="b" d="M413.6,948.1l14.8,14.8m0-14.8l-14.8,14.8"/><path class="c" d="M413.6,948.1l14.8,14.8m0-14.8l-14.8,14.8"/>
<path class="b" d="M457.6,1067.1l14.8,14.8m0-14.8l-14.8,14.8"/><path class="c" d="M457.6,1067.1l14.8,14.8m0-14.8l-14.8,14.8"/>
<path class="b" d="M431.6,1168.1l14.8,14.8m0-14.8l-14.8,14.8"/><path class="c" d="M431.6,1168.1l14.8,14.8m0-14.8l-14.8,14.8"/>
<path class="b" d="M481.6,999.1l14.8,14.8m0-14.8l-14.8,14.8"/><path class="c" d="M481.6,999.1l14.8,14.8m0-14.8l-14.8,14.8"/>
<path class="b" d="M494.6,1116.1l14.8,14.8m0-14.8l-14.8,14.8"/><path class="c" d="M494.6,1116.1l14.8,14.8m0-14.8l-14.8,14.8"/>
<path class="b" d="M511.6,1065.1l14.8,14.8m0-14.8l-14.8,14.8"/><path class="c" d="M511.6,1065.1l14.8,14.8m0-14.8l-14.8,14.8"/>
<path class="b" d="M512.6,936.1l14.8,14.8m0-14.8l-14.8,14.8"/><path class="c" d="M512.6,936.1l14.8,14.8m0-14.8l-14.8,14.8"/>
<path class="b" d="M454.6,1154.1l14.8,14.8m0-14.8l-14.8,14.8"/><path class="c" d="M454.6,1154.1l14.8,14.8m0-14.8l-14.8,14.8"/>
<path class="b" d="M383.6,1120.1l14.8,14.8m0-14.8l-14.8,14.8"/><path class="c" d="M383.6,1120.1l14.8,14.8m0-14.8l-14.8,14.8"/>
<path class="b" d="M385.6,1055.1l14.8,14.8m0-14.8l-14.8,14.8"/><path class="c" d="M385.6,1055.1l14.8,14.8m0-14.8l-14.8,14.8"/>
<path class="b" d="M528.6,1077.1l14.8,14.8m0-14.8l-14.8,14.8"/><path class="c" d="M528.6,1077.1l14.8,14.8m0-14.8l-14.8,14.8"/>
<path class="b" d="M416.6,1142.1l14.8,14.8m0-14.8l-14.8,14.8"/><path class="c" d="M416.6,1142.1l14.8,14.8m0-14.8l-14.8,14.8"/>
<path class="b" d="M596.6,1044.1l14.8,14.8m0-14.8l-14.8,14.8"/><path class="c" d="M596.6,1044.1l14.8,14.8m0-14.8l-14.8,14.8"/>
<path class="b" d="M438.6,986.1l14.8,14.8m0-14.8l-14.8,14.8"/><path class="c" d="M438.6,986.1l14.8,14.8m0-14.8l-14.8,14.8"/>
<path class="b" d="M662.6,1067.1l14.8,14.8m0-14.8l-14.8,14.8"/><path class="c" d="M662.6,1067.1l14.8,14.8m0-14.8l-14.8,14.8"/>
<path class="b" d="M399.6,1117.1l14.8,14.8m0-14.8l-14.8,14.8"/><path class="c" d="M399.6,1117.1l14.8,14.8m0-14.8l-14.8,14.8"/>
<path class="b" d="M388.6,1021.1l14.8,14.8m0-14.8l-14.8,14.8"/><path class="c" d="M388.6,1021.1l14.8,14.8m0-14.8l-14.8,14.8"/>
<path class="b" d="M554.6,1030.1l14.8,14.8m0-14.8l-14.8,14.8"/><path class="c" d="M554.6,1030.1l14.8,14.8m0-14.8l-14.8,14.8"/>
<path class="b" d="M413.6,1086.1l14.8,14.8m0-14.8l-14.8,14.8"/><path class="c" d="M413.6,1086.1l14.8,14.8m0-14.8l-14.8,14.8"/>
<path class="b" d="M403.6,1037.1l14.8,14.8m0-14.8l-14.8,14.8"/><path class="c" d="M403.6,1037.1l14.8,14.8m0-14.8l-14.8,14.8"/>
<path class="b" d="M514.6,1052.1l14.8,14.8m0-14.8l-14.8,14.8"/><path class="c" d="M514.6,1052.1l14.8,14.8m0-14.8l-14.8,14.8"/>
<path class="b" d="M413.6,1079.1l14.8,14.8m0-14.8l-14.8,14.8"/><path class="c" d="M413.6,1079.1l14.8,14.8m0-14.8l-14.8,14.8"/>
<path class="b" d="M380.6,1127.1l14.8,14.8m0-14.8l-14.8,14.8"/><path class="c" d="M380.6,1127.1l14.8,14.8m0-14.8l-14.8,14.8"/>
<path class="b" d="M487.6,1068.1l14.8,14.8m0-14.8l-14.8,14.8"/><path class="c" d="M487.6,1068.1l14.8,14.8m0-14.8l-14.8,14.8"/>
<path class="b" d="M618.6,1078.1l14.8,14.8m0-14.8l-14.8,14.8"/><path class="c" d="M618.6,1078.1l14.8,14.8m0-14.8l-14.8,14.8"/>
<path class="b" d="M466.6,952.1l14.8,14.8m0-14.8l-14.8,14.8"/><path class="c" d="M466.6,952.1l14.8,14.8m0-14.8l-14.8,14.8"/>
<path class="b" d="M424.6,1149.1l14.8,14.8m0-14.8l-14.8,14.8"/><path class="c" d="M424.6,1149.1l14.8,14.8m0-14.8l-14.8,14.8"/>
<path class="b" d="M406.6,989.1l14.8,14.8m0-14.8l-14.8,14.8"/><path class="c" d="M406.6,989.1l14.8,14.8m0-14.8l-14.8,14.8"/>
<path class="b" d="M510.6,989.1l14.8,14.8m0-14.8l-14.8,14.8"/><path class="c" d="M510.6,989.1l14.8,14.8m0-14.8l-14.8,14.8"/>
<path class="b" d="M432.6,1058.1l14.8,14.8m0-14.8l-14.8,14.8"/><path class="c" d="M432.6,1058.1l14.8,14.8m0-14.8l-14.8,14.8"/>
<path class="b" d="M590.6,1045.1l14.8,14.8m0-14.8l-14.8,14.8"/><path class="c" d="M590.6,1045.1l14.8,14.8m0-14.8l-14.8,14.8"/>
<path class="b" d="M550.6,972.1l14.8,14.8m0-14.8l-14.8,14.8"/><path class="c" d="M550.6,972.1l14.8,14.8m0-14.8l-14.8,14.8"/>
<path class="b" d="M648.6,1013.1l14.8,14.8m0-14.8l-14.8,14.8"/><path class="c" d="M648.6,1013.1l14.8,14.8m0-14.8l-14.8,14.8"/>
<path class="b" d="M583.6,1036.1l14.8,14.8m0-14.8l-14.8,14.8"/><path class="c" d="M583.6,1036.1l14.8,14.8m0-14.8l-14.8,14.8"/>
<path class="b" d="M384.6,1031.1l14.8,14.8m0-14.8l-14.8,14.8"/><path class="c" d="M384.6,1031.1l14.8,14.8m0-14.8l-14.8,14.8"/>
<path class="b" d="M289.6,971.1l14.8,14.8m0-14.8l-14.8,14.8"/><path class="c" d="M289.6,971.1l14.8,14.8m0-14.8l-14.8,14.8"/>
<path class="b" d="M352.6,1017.1l14.8,14.8m0-14.8l-14.8,14.8"/><path class="c" d="M352.6,1017.1l14.8,14.8m0-14.8l-14.8,14.8"/>
<path class="b" d="M511.6,971.1l14.8,14.8m0-14.8l-14.8,14.8"/><path class="c" d="M511.6,971.1l14.8,14.8m0-14.8l-14.8,14.8"/>
<path class="b" d="M489.6,1062.1l14.8,14.8m0-14.8l-14.8,14.8"/><path class="c" d="M489.6,1062.1l14.8,14.8m0-14.8l-14.8,14.8"/>
<path class="b" d="M526.6,986.1l14.8,14.8m0-14.8l-14.8,14.8"/><path class="c" d="M526.6,986.1l14.8,14.8m0-14.8l-14.8,14.8"/>
<path class="b" d="M483.6,1071.1l14.8,14.8m0-14.8l-14.8,14.8"/><path class="c" d="M483.6,1071.1l14.8,14.8m0-14.8l-14.8,14.8"/>
<path class="b" d="M435.6,1049.1l14.8,14.8m0-14.8l-14.8,14.8"/><path class="c" d="M435.6,1049.1l14.8,14.8m0-14.8l-14.8,14.8"/>
<path class="b" d="M362.6,1136.1l14.8,14.8m0-14.8l-14.8,14.8"/><path class="c" d="M362.6,1136.1l14.8,14.8m0-14.8l-14.8,14.8"/>
<path class="b" d="M594.6,1069.1l14.8,14.8m0-14.8l-14.8,14.8"/><path class="c" d="M594.6,1069.1l14.8,14.8m0-14.8l-14.8,14.8"/>
<path class="b" d="M442.6,1077.1l14.8,14.8m0-14.8l-14.8,14.8"/><path class="c" d="M442.6,1077.1l14.8,14.8m0-14.8l-14.8,14.8"/>
<path class="b" d="M542.6,1023.1l14.8,14.8m0-14.8l-14.8,14.8"/><path class="c" d="M542.6,1023.1l14.8,14.8m0-14.8l-14.8,14.8"/>
<path class="b" d="M405.6,934.1l14.8,14.8m0-14.8l-14.8,14.8"/><path class="c" d="M405.6,934.1l14.8,14.8m0-14.8l-14.8,14.8"/>
<path class="b" d="M501.6,963.1l14.8,14.8m0-14.8l-14.8,14.8"/><path class="c" d="M501.6,963.1l14.8,14.8m0-14.8l-14.8,14.8"/>
<path class="b" d="M402.6,1139.1l14.8,14.8m0-14.8l-14.8,14.8"/><path class="c" d="M402.6,1139.1l14.8,14.8m0-14.8l-14.8,14.8"/>
<path class="b" d="M514.6,1141.1l14.8,14.8m0-14.8l-14.8,14.8"/><path class="c" d="M514.6,1141.1l14.8,14.8m0-14.8l-14.8,14.8"/>
<path class="b" d="M422.6,1080.1l14.8,14.8m0-14.8l-14.8,14.8"/><path class="c" d="M422.6,1080.1l14.8,14.8m0-14.8l-14.8,14.8"/>
<path class="b" d="M334.6,817.1l14.8,14.8m0-14.8l-14.8,14.8"/><path class="c" d="M334.6,817.1l14.8,14.8m0-14.8l-14.8,14.8"/>
<path class="b" d="M613.6,1068.1l14.8,14.8m0-14.8l-14.8,14.8"/><path class="c" d="M613.6,1068.1l14.8,14.8m0-14.8l-14.8,14.8"/>
<path class="b" d="M655.6,1044.1l14.8,14.8m0-14.8l-14.8,14.8"/><path class="c" d="M655.6,1044.1l14.8,14.8m0-14.8l-14.8,14.8"/>
<path class="b" d="M380.6,973.1l14.8,14.8m0-14.8l-14.8,14.8"/><path class="c" d="M380.6,973.1l14.8,14.8m0-14.8l-14.8,14.8"/>
<path class="b" d="M520.6,1079.1l14.8,14.8m0-14.8l-14.8,14.8"/><path class="c" d="M520.6,1079.1l14.8,14.8m0-14.8l-14.8,14.8"/>
<path class="b" d="M569.6,1023.1l14.8,14.8m0-14.8l-14.8,14.8"/><path class="c" d="M569.6,1023.1l14.8,14.8m0-14.8l-14.8,14.8"/>
<path class="b" d="M630.6,1086.1l14.8,14.8m0-14.8l-14.8,14.8"/><path class="c" d="M630.6,1086.1l14.8,14.8m0-14.8l-14.8,14.8"/>
<path class="b" d="M508.6,1076.1l14.8,14.8m0-14.8l-14.8,14.8"/><path class="c" d="M508.6,1076.1l14.8,14.8m0-14.8l-14.8,14.8"/>
<path class="b" d="M551.6,1067.1l14.8,14.8m0-14.8l-14.8,14.8"/><path class="c" d="M551.6,1067.1l14.8,14.8m0-14.8l-14.8,14.8"/>
<path class="b" d="M396.6,1081.1l14.8,14.8m0-14.8l-14.8,14.8"/><path class="c" d="M396.6,1081.1l14.8,14.8m0-14.8l-14.8,14.8"/>
<path class="b" d="M649.6,984.1l14.8,14.8m0-14.8l-14.8,14.8"/><path class="c" d="M649.6,984.1l14.8,14.8m0-14.8l-14.8,14.8"/>
<path class="b" d="M462.6,1136.1l14.8,14.8m0-14.8l-14.8,14.8"/><path class="c" d="M462.6,1136.1l14.8,14.8m0-14.8l-14.8,14.8"/>
<path class="b" d="M401.6,1106.1l14.8,14.8m0-14.8l-14.8,14.8"/><path class="c" d="M401.6,1106.1l14.8,14.8m0-14.8l-14.8,14.8"/>
<path class="b" d="M392.6,1008.1l14.8,14.8m0-14.8l-14.8,14.8"/><path class="c" d="M392.6,1008.1l14.8,14.8m0-14.8l-14.8,14.8"/>
<path class="b" d="M493.6,958.1l14.8,14.8m0-14.8l-14.8,14.8"/><path class="c" d="M493.6,958.1l14.8,14.8m0-14.8l-14.8,14.8"/>
<path class="b" d="M409.6,991.1l14.8,14.8m0-14.8l-14.8,14.8"/><path class="c" d="M409.6,991.1l14.8,14.8m0-14.8l-14.8,14.8"/>
<path class="b" d="M461.6,1025.1l14.8,14.8m0-14.8l-14.8,14.8"/><path class="c" d="M461.6,1025.1l14.8,14.8m0-14.8l-14.8,14.8"/>
<path class="b" d="M565.6,1045.1l14.8,14.8m0-14.8l-14.8,14.8"/><path class="c" d="M565.6,1045.1l14.8,14.8m0-14.8l-14.8,14.8"/>
<path class="b" d="M423.6,945.1l14.8,14.8m0-14.8l-14.8,14.8"/><path class="c" d="M423.6,945.1l14.8,14.8m0-14.8l-14.8,14.8"/>
<path class="b" d="M317.6,960.1l14.8,14.8m0-14.8l-14.8,14.8"/><path class="c" d="M317.6,960.1l14.8,14.8m0-14.8l-14.8,14.8"/>
<path class="b" d="M393.6,1017.1l14.8,14.8m0-14.8l-14.8,14.8"/><path class="c" d="M393.6,1017.1l14.8,14.8m0-14.8l-14.8,14.8"/>
<path class="b" d="M466.6,1079.1l14.8,14.8m0-14.8l-14.8,14.8"/><path class="c" d="M466.6,1079.1l14.8,14.8m0-14.8l-14.8,14.8"/>
<path class="b" d="M354.6,986.1l14.8,14.8m0-14.8l-14.8,14.8"/><path class="c" d="M354.6,986.1l14.8,14.8m0-14.8l-14.8,14.8"/>
<path class="b" d="M402.6,1058.1l14.8,14.8m0-14.8l-14.8,14.8"/><path class="c" d="M402.6,1058.1l14.8,14.8m0-14.8l-14.8,14.8"/>
<path class="b" d="M523.6,979.1l14.8,14.8m0-14.8l-14.8,14.8"/><path class="c" d="M523.6,979.1l14.8,14.8m0-14.8l-14.8,14.8"/>
<path class="b" d="M662.6,1048.1l14.8,14.8m0-14.8l-14.8,14.8"/><path class="c" d="M662.6,1048.1l14.8,14.8m0-14.8l-14.8,14.8"/>
<path class="b" d="M326.6,930.1l14.8,14.8m0-14.8l-14.8,14.8"/><path class="c" d="M326.6,930.1l14.8,14.8m0-14.8l-14.8,14.8"/>
<path class="b" d="M613.6,1040.1l14.8,14.8m0-14.8l-14.8,14.8"/><path class="c" d="M613.6,1040.1l14.8,14.8m0-14.8l-14.8,14.8"/>
<path class="b" d="M469.6,1000.1l14.8,14.8m0-14.8l-14.8,14.8"/><path class="c" d="M469.6,1000.1l14.8,14.8m0-14.8l-14.8,14.8"/>
<path class="b" d="M524.6,1100.1l14.8,14.8m0-14.8l-14.8,14.8"/><path class="c" d="M524.6,1100.1l14.8,14.8m0-14.8l-14.8,14.8"/>
<path class="b" d="M515.6,1062.1l14.8,14.8m0-14.8l-14.8,14.8"/><path class="c" d="M515.6,1062.1l14.8,14.8m0-14.8l-14.8,14.8"/>
<path class="b" d="M500.6,1155.1l14.8,14.8m0-14.8l-14.8,14.8"/><path class="c" d="M500.6,1155.1l14.8,14.8m0-14.8l-14.8,14.8"/>
<path class="b" d="M370.6,908.1l14.8,14.8m0-14.8l-14.8,14.8"/><path class="c" d="M370.6,908.1l14.8,14.8m0-14.8l-14.8,14.8"/>
<path class="b" d="M415.6,1082.1l14.8,14.8m0-14.8l-14.8,14.8"/><path class="c" d="M415.6,1082.1l14.8,14.8m0-14.8l-14.8,14.8"/>
<path class="b" d="M586.6,1030.1l14.8,14.8m0-14.8l-14.8,14.8"/><path class="c" d="M586.6,1030.1l14.8,14.8m0-14.8l-14.8,14.8"/>
<path class="b" d="M408.6,1012.1l14.8,14.8m0-14.8l-14.8,14.8"/><path class="c" d="M408.6,1012.1l14.8,14.8m0-14.8l-14.8,14.8"/>
<path class="b" d="M516.6,1063.1l14.8,14.8m0-14.8l-14.8,14.8"/><path class="c" d="M516.6,1063.1l14.8,14.8m0-14.8l-14.8,14.8"/>
<path class="b" d="M508.6,1096.1l14.8,14.8m0-14.8l-14.8,14.8"/><path class="c" d="M508.6,1096.1l14.8,14.8m0-14.8l-14.8,14.8"/>
<path class="b" d="M456.6,1016.1l14.8,14.8m0-14.8l-14.8,14.8"/><path class="c" d="M456.6,1016.1l14.8,14.8m0-14.8l-14.8,14.8"/>
<path class="b" d="M479.6,1143.1l14.8,14.8m0-14.8l-14.8,14.8"/><path class="c" d="M479.6,1143.1l14.8,14.8m0-14.8l-14.8,14.8"/>
<path class="b" d="M387.6,982.1l14.8,14.8m0-14.8l-14.8,14.8"/><path class="c" d="M387.6,982.1l14.8,14.8m0-14.8l-14.8,14.8"/>
<path class="b" d="M565.6,1094.1l14.8,14.8m0-14.8l-14.8,14.8"/><path class="c" d="M565.6,1094.1l14.8,14.8m0-14.8l-14.8,14.8"/>
<path class="b" d="M581.6,1000.1l14.8,14.8m0-14.8l-14.8,14.8"/><path class="c" d="M581.6,1000.1l14.8,14.8m0-14.8l-14.8,14.8"/>
<path class="b" d="M553.6,1048.1l14.8,14.8m0-14.8l-14.8,14.8"/><path class="c" d="M553.6,1048.1l14.8,14.8m0-14.8l-14.8,14.8"/>
<path class="b" d="M462.6,1143.1l14.8,14.8m0-14.8l-14.8,14.8"/><path class="c" d="M462.6,1143.1l14.8,14.8m0-14.8l-14.8,14.8"/>
<path class="b" d="M408.6,1162.1l14.8,14.8m0-14.8l-14.8,14.8"/><path class="c" d="M408.6,1162.1l14.8,14.8m0-14.8l-14.8,14.8"/>
<path class="b" d="M451.6,1104.1l14.8,14.8m0-14.8l-14.8,14.8"/><path class="c" d="M451.6,1104.1l14.8,14.8m0-14.8l-14.8,14.8"/>
<path class="b" d="M540.6,1181.1l14.8,14.8m0-14.8l-14.8,14.8"/><path class="c" d="M540.6,1181.1l14.8,14.8m0-14.8l-14.8,14.8"/>
<path class="b" d="M474.6,956.1l14.8,14.8m0-14.8l-14.8,14.8"/><path class="c" d="M474.6,956.1l14.8,14.8m0-14.8l-14.8,14.8"/>
<path class="b" d="M524.6,1133.1l14.8,14.8m0-14.8l-14.8,14.8"/><path class="c" d="M524.6,1133.1l14.8,14.8m0-14.8l-14.8,14.8"/>
<path class="b" d="M494.6,984.1l14.8,14.8m0-14.8l-14.8,14.8"/><path class="c" d="M494.6,984.1l14.8,14.8m0-14.8l-14.8,14.8"/>
<path class="b" d="M509.6,1110.1l14.8,14.8m0-14.8l-14.8,14.8"/><path class="c" d="M509.6,1110.1l14.8,14.8m0-14.8l-14.8,14.8"/>
<path class="b" d="M577.6,1075.1l14.8,14.8m0-14.8l-14.8,14.8"/><path class="c" d="M577.6,1075.1l14.8,14.8m0-14.8l-14.8,14.8"/>
<path class="b" d="M478.6,1027.1l14.8,14.8m0-14.8l-14.8,14.8"/><path class="c" d="M478.6,1027.1l14.8,14.8m0-14.8l-14.8,14.8"/>
<path class="b" d="M600.6,1029.1l14.8,14.8m0-14.8l-14.8,14.8"/><path class="c" d="M600.6,1029.1l14.8,14.8m0-14.8l-14.8,14.8"/>
<path class="b" d="M476.6,1044.1l14.8,14.8m0-14.8l-14.8,14.8"/><path class="c" d="M476.6,1044.1l14.8,14.8m0-14.8l-14.8,14.8"/>
<path class="b" d="M411.6,1008.1l14.8,14.8m0-14.8l-14.8,14.8"/><path class="c" d="M411.6,1008.1l14.8,14.8m0-14.8l-14.8,14.8"/>
<path class="b" d="M400.6,1082.1l14.8,14.8m0-14.8l-14.8,14.8"/><path class="c" d="M400.6,1082.1l14.8,14.8m0-14.8l-14.8,14.8"/>
<path class="b" d="M581.6,1014.1l14.8,14.8m0-14.8l-14.8,14.8"/><path class="c" d="M581.6,1014.1l14.8,14.8m0-14.8l-14.8,14.8"/>
<path class="b" d="M494.6,971.1l14.8,14.8m0-14.8l-14.8,14.8"/><path class="c" d="M494.6,971.1l14.8,14.8m0-14.8l-14.8,14.8"/>
<path class="b" d="M424.6,954.1l14.8,14.8m0-14.8l-14.8,14.8"/><path class="c" d="M424.6,954.1l14.8,14.8m0-14.8l-14.8,14.8"/>
<path class="b" d="M517.6,1035.1l14.8,14.8m0-14.8l-14.8,14.8"/><path class="c" d="M517.6,1035.1l14.8,14.8m0-14.8l-14.8,14.8"/>
<path class="b" d="M510.6,1104.1l14.8,14.8m0-14.8l-14.8,14.8"/><path class="c" d="M510.6,1104.1l14.8,14.8m0-14.8l-14.8,14.8"/>
<path class="b" d="M502.6,1118.1l14.8,14.8m0-14.8l-14.8,14.8"/><path class="c" d="M502.6,1118.1l14.8,14.8m0-14.8l-14.8,14.8"/>
<path class="b" d="M435.6,971.1l14.8,14.8m0-14.8l-14.8,14.8"/><path class="c" d="M435.6,971.1l14.8,14.8m0-14.8l-14.8,14.8"/>
<path class="b" d="M321.6,933.1l14.8,14.8m0-14.8l-14.8,14.8"/><path class="c" d="M321.6,933.1l14.8,14.8m0-14.8l-14.8,14.8"/>
<path class="b" d="M287.6,1377.1l14.8,14.8m0-14.8l-14.8,14.8"/><path class="c" d="M287.6,1377.1l14.8,14.8m0-14.8l-14.8,14.8"/>
<path class="b" d="M617.6,1050.1l14.8,14.8m0-14.8l-14.8,14.8"/><path class="c" d="M617.6,1050.1l14.8,14.8m0-14.8l-14.8,14.8"/>
<path class="b" d="M388.6,1138.1l14.8,14.8m0-14.8l-14.8,14.8"/><path class="c" d="M388.6,1138.1l14.8,14.8m0-14.8l-14.8,14.8"/>
<path class="b" d="M573.6,1023.1l14.8,14.8m0-14.8l-14.8,14.8"/><path class="c" d="M573.6,1023.1l14.8,14.8m0-14.8l-14.8,14.8"/>
<path class="b" d="M549.6,1045.1l14.8,14.8m0-14.8l-14.8,14.8"/><path class="c" d="M549.6,1045.1l14.8,14.8m0-14.8l-14.8,14.8"/>
<path class="b" d="M541.6,1006.1l14.8,14.8m0-14.8l-14.8,14.8"/><path class="c" d="M541.6,1006.1l14.8,14.8m0-14.8l-14.8,14.8"/>
<path class="b" d="M441.6,1132.1l14.8,14.8m0-14.8l-14.8,14.8"/><path class="c" d="M441.6,1132.1l14.8,14.8m0-14.8l-14.8,14.8"/>
<path class="b" d="M363.6,1073.1l14.8,14.8m0-14.8l-14.8,14.8"/><path class="c" d="M363.6,1073.1l14.8,14.8m0-14.8l-14.8,14.8"/>
<path class="b" d="M535.6,1017.1l14.8,14.8m0-14.8l-14.8,14.8"/><path class="c" d="M535.6,1017.1l14.8,14.8m0-14.8l-14.8,14.8"/>
<path class="b" d="M586.6,1016.1l14.8,14.8m0-14.8l-14.8,14.8"/><path class="c" d="M586.6,1016.1l14.8,14.8m0-14.8l-14.8,14.8"/>
<path class="b" d="M535.6,1027.1l14.8,14.8m0-14.8l-14.8,14.8"/><path class="c" d="M535.6,1027.1l14.8,14.8m0-14.8l-14.8,14.8"/>
<path class="b" d="M438.6,1080.1l14.8,14.8m0-14.8l-14.8,14.8"/><path class="c" d="M438.6,1080.1l14.8,14.8m0-14.8l-14.8,14.8"/>
<path class="b" d="M458.6,1143.1l14.8,14.8m0-14.8l-14.8,14.8"/><path class="c" d="M458.6,1143.1l14.8,14.8m0-14.8l-14.8,14.8"/>
<path class="b" d="M355.6,997.1l14.8,14.8m0-14.8l-14.8,14.8"/><path class="c" d="M355.6,997.1l14.8,14.8m0-14.8l-14.8,14.8"/>
<path class="b" d="M402.6,1142.1l14.8,14.8m0-14.8l-14.8,14.8"/><path class="c" d="M402.6,1142.1l14.8,14.8m0-14.8l-14.8,14.8"/>
<path class="b" d="M325.6,930.1l14.8,14.8m0-14.8l-14.8,14.8"/><path class="c" d="M325.6,930.1l14.8,14.8m0-14.8l-14.8,14.8"/>
<path class="b" d="M405.6,947.1l14.8,14.8m0-14.8l-14.8,14.8"/><path class="c" d="M405.6,947.1l14.8,14.8m0-14.8l-14.8,14.8"/>
<path class="b" d="M481.6,984.1l14.8,14.8m0-14.8l-14.8,14.8"/><path class="c" d="M481.6,984.1l14.8,14.8m0-14.8l-14.8,14.8"/>
<path class="b" d="M503.6,1126.1l14.8,14.8m0-14.8l-14.8,14.8"/><path class="c" d="M503.6,1126.1l14.8,14.8m0-14.8l-14.8,14.8"/>
<path class="b" d="M525.6,1033.1l14.8,14.8m0-14.8l-14.8,14.8"/><path class="c" d="M525.6,1033.1l14.8,14.8m0-14.8l-14.8,14.8"/>
<path class="b" d="M650.6,1063.1l14.8,14.8m0-14.8l-14.8,14.8"/><path class="c" d="M650.6,1063.1l14.8,14.8m0-14.8l-14.8,14.8"/>
<path class="b" d="M541.6,1016.1l14.8,14.8m0-14.8l-14.8,14.8"/><path class="c" d="M541.6,1016.1l14.8,14.8m0-14.8l-14.8,14.8"/>
<path class="b" d="M489.6,1116.1l14.8,14.8m0-14.8l-14.8,14.8"/><path class="c" d="M489.6,1116.1l14.8,14.8m0-14.8l-14.8,14.8"/>
<path class="b" d="M607.6,1060.1l14.8,14.8m0-14.8l-14.8,14.8"/><path class="c" d="M607.6,1060.1l14.8,14.8m0-14.8l-14.8,14.8"/>
<path class="b" d="M404.6,971.1l14.8,14.8m0-14.8l-14.8,14.8"/><path class="c" d="M404.6,971.1l14.8,14.8m0-14.8l-14.8,14.8"/>
<path class="b" d="M370.6,1009.1l14.8,14.8m0-14.8l-14.8,14.8"/><path class="c" d="M370.6,1009.1l14.8,14.8m0-14.8l-14.8,14.8"/>
<path class="b" d="M434.6,1104.1l14.8,14.8m0-14.8l-14.8,14.8"/><path class="c" d="M434.6,1104.1l14.8,14.8m0-14.8l-14.8,14.8"/>
<path class="b" d="M481.6,1120.1l14.8,14.8m0-14.8l-14.8,14.8"/><path class="c" d="M481.6,1120.1l14.8,14.8m0-14.8l-14.8,14.8"/>
<path class="b" d="M386.6,995.1l14.8,14.8m0-14.8l-14.8,14.8"/><path class="c" d="M386.6,995.1l14.8,14.8m0-14.8l-14.8,14.8"/>
<path class="b" d="M505.6,1075.1l14.8,14.8m0-14.8l-14.8,14.8"/><path class="c" d="M505.6,1075.1l14.8,14.8m0-14.8l-14.8,14.8"/>
<path class="b" d="M393.6,1026.1l14.8,14.8m0-14.8l-14.8,14.8"/><path class="c" d="M393.6,1026.1l14.8,14.8m0-14.8l-14.8,14.8"/>
<path class="b" d="M375.6,1026.1l14.8,14.8m0-14.8l-14.8,14.8"/><path class="c" d="M375.6,1026.1l14.8,14.8m0-14.8l-14.8,14.8"/>
<path class="b" d="M606.6,1019.1l14.8,14.8m0-14.8l-14.8,14.8"/><path class="c" d="M606.6,1019.1l14.8,14.8m0-14.8l-14.8,14.8"/>
<path class="b" d="M459.6,1123.1l14.8,14.8m0-14.8l-14.8,14.8"/><path class="c" d="M459.6,1123.1l14.8,14.8m0-14.8l-14.8,14.8"/>
<path class="b" d="M410.6,943.1l14.8,14.8m0-14.8l-14.8,14.8"/><path class="c" d="M410.6,943.1l14.8,14.8m0-14.8l-14.8,14.8"/>
<path class="b" d="M388.6,1150.1l14.8,14.8m0-14.8l-14.8,14.8"/><path class="c" d="M388.6,1150.1l14.8,14.8m0-14.8l-14.8,14.8"/>
<path class="b" d="M487.6,989.1l14.8,14.8m0-14.8l-14.8,14.8"/><path class="c" d="M487.6,989.1l14.8,14.8m0-14.8l-14.8,14.8"/>
<path class="b" d="M471.6,1118.1l14.8,14.8m0-14.8l-14.8,14.8"/><path class="c" d="M471.6,1118.1l14.8,14.8m0-14.8l-14.8,14.8"/>
<path class="b" d="M460.6,1008.1l14.8,14.8m0-14.8l-14.8,14.8"/><path class="c" d="M460.6,1008.1l14.8,14.8m0-14.8l-14.8,14.8"/>
<path class="b" d="M288.6,958.1l14.8,14.8m0-14.8l-14.8,14.8"/><path class="c" d="M288.6,958.1l14.8,14.8m0-14.8l-14.8,14.8"/>
<path class="b" d="M394.6,1150.1l14.8,14.8m0-14.8l-14.8,14.8"/><path class="c" d="M394.6,1150.1l14.8,14.8m0-14.8l-14.8,14.8"/>
<path class="b" d="M615.6,1032.1l14.8,14.8m0-14.8l-14.8,14.8"/><path class="c" d="M615.6,1032.1l14.8,14.8m0-14.8l-14.8,14.8"/>
<path class="b" d="M445.6,1077.1l14.8,14.8m0-14.8l-14.8,14.8"/><path class="c" d="M445.6,1077.1l14.8,14.8m0-14.8l-14.8,14.8"/>
<path class="b" d="M499.6,1145.1l14.8,14.8m0-14.8l-14.8,14.8"/><path class="c" d="M499.6,1145.1l14.8,14.8m0-14.8l-14.8,14.8"/>
<path class="b" d="M315.6,996.1l14.8,14.8m0-14.8l-14.8,14.8"/><path class="c" d="M315.6,996.1l14.8,14.8m0-14.8l-14.8,14.8"/>
<path class="b" d="M627.6,1080.1l14.8,14.8m0-14.8l-14.8,14.8"/><path class="c" d="M627.6,1080.1l14.8,14.8m0-14.8l-14.8,14.8"/>
<path class="b" d="M602.6,985.1l14.8,14.8m0-14.8l-14.8,14.8"/><path class="c" d="M602.6,985.1l14.8,14.8m0-14.8l-14.8,14.8"/>
<path class="b" d="M444.6,1122.1l14.8,14.8m0-14.8l-14.8,14.8"/><path class="c" d="M444.6,1122.1l14.8,14.8m0-14.8l-14.8,14.8"/>
<path class="b" d="M589.6,1063.1l14.8,14.8m0-14.8l-14.8,14.8"/><path class="c" d="M589.6,1063.1l14.8,14.8m0-14.8l-14.8,14.8"/>
<path class="b" d="M395.6,961.1l14.8,14.8m0-14.8l-14.8,14.8"/><path class="c" d="M395.6,961.1l14.8,14.8m0-14.8l-14.8,14.8"/>
<path class="b" d="M469.6,1104.1l14.8,14.8m0-14.8l-14.8,14.8"/><path class="c" d="M469.6,1104.1l14.8,14.8m0-14.8l-14.8,14.8"/>
<path class="b" d="M564.6,997.1l14.8,14.8m0-14.8l-14.8,14.8"/><path class="c" d="M564.6,997.1l14.8,14.8m0-14.8l-14.8,14.8"/>
<path class="b" d="M521.6,1070.1l14.8,14.8m0-14.8l-14.8,14.8"/><path class="c" d="M521.6,1070.1l14.8,14.8m0-14.8l-14.8,14.8"/>
<path class="b" d="M383.6,1066.1l14.8,14.8m0-14.8l-14.8,14.8"/><path class="c" d="M383.6,1066.1l14.8,14.8m0-14.8l-14.8,14.8"/>
<path class="b" d="M411.6,1103.1l14.8,14.8m0-14.8l-14.8,14.8"/><path class="c" d="M411.6,1103.1l14.8,14.8m0-14.8l-14.8,14.8"/>
<path class="b" d="M447.6,1060.1l14.8,14.8m0-14.8l-14.8,14.8"/><path class="c" d="M447.6,1060.1l14.8,14.8m0-14.8l-14.8,14.8"/>
<path class="b" d="M473.6,1073.1l14.8,14.8m0-14.8l-14.8,14.8"/><path class="c" d="M473.6,1073.1l14.8,14.8m0-14.8l-14.8,14.8"/>
<path class="b" d="M423.6,984.1l14.8,14.8m0-14.8l-14.8,14.8"/><path class="c" d="M423.6,984.1l14.8,14.8m0-14.8l-14.8,14.8"/>
<path class="b" d="M448.6,1130.1l14.8,14.8m0-14.8l-14.8,14.8"/><path class="c" d="M448.6,1130.1l14.8,14.8m0-14.8l-14.8,14.8"/>
<path class="b" d="M446.6,1073.1l14.8,14.8m0-14.8l-14.8,14.8"/><path class="c" d="M446.6,1073.1l14.8,14.8m0-14.8l-14.8,14.8"/>
<path class="b" d="M490.6,962.1l14.8,14.8m0-14.8l-14.8,14.8"/><path class="c" d="M490.6,962.1l14.8,14.8m0-14.8l-14.8,14.8"/>
<path class="b" d="M381.6,1065.1l14.8,14.8m0-14.8l-14.8,14.8"/><path class="c" d="M381.6,1065.1l14.8,14.8m0-14.8l-14.8,14.8"/>
<path class="b" d="M685.6,1024.1l14.8,14.8m0-14.8l-14.8,14.8"/><path class="c" d="M685.6,1024.1l14.8,14.8m0-14.8l-14.8,14.8"/>
<path class="b" d="M516.6,1096.1l14.8,14.8m0-14.8l-14.8,14.8"/><path class="c" d="M516.6,1096.1l14.8,14.8m0-14.8l-14.8,14.8"/>
<path class="b" d="M468.6,1131.1l14.8,14.8m0-14.8l-14.8,14.8"/><path class="c" d="M468.6,1131.1l14.8,14.8m0-14.8l-14.8,14.8"/>
<path class="b" d="M738.6,1034.1l14.8,14.8m0-14.8l-14.8,14.8"/><path class="c" d="M738.6,1034.1l14.8,14.8m0-14.8l-14.8,14.8"/>
<path class="b" d="M474.6,1158.1l14.8,14.8m0-14.8l-14.8,14.8"/><path class="c" d="M474.6,1158.1l14.8,14.8m0-14.8l-14.8,14.8"/>
<path class="b" d="M478.6,1140.1l14.8,14.8m0-14.8l-14.8,14.8"/><path class="c" d="M478.6,1140.1l14.8,14.8m0-14.8l-14.8,14.8"/>
<path class="b" d="M349.6,1061.1l14.8,14.8m0-14.8l-14.8,14.8"/><path class="c" d="M349.6,1061.1l14.8,14.8m0-14.8l-14.8,14.8"/>
<path class="b" d="M547.6,1085.1l14.8,14.8m0-14.8l-14.8,14.8"/><path class="c" d="M547.6,1085.1l14.8,14.8m0-14.8l-14.8,14.8"/>
<path class="b" d="M459.6,1144.1l14.8,14.8m0-14.8l-14.8,14.8"/><path class="c" d="M459.6,1144.1l14.8,14.8m0-14.8l-14.8,14.8"/>
<path class="b" d="M491.6,1076.1l14.8,14.8m0-14.8l-14.8,14.8"/><path class="c" d="M491.6,1076.1l14.8,14.8m0-14.8l-14.8,14.8"/>
<path class="b" d="M359.6,1050.1l14.8,14.8m0-14.8l-14.8,14.8"/><path class="c" d="M359.6,1050.1l14.8,14.8m0-14.8l-14.8,14.8"/>
<path class="b" d="M500.6,1151.1l14.8,14.8m0-14.8l-14.8,14.8"/><path class="c" d="M500.6,1151.1l14.8,14.8m0-14.8l-14.8,14.8"/>
<path class="b" d="M536.6,1010.1l14.8,14.8m0-14.8l-14.8,14.8"/><path class="c" d="M536.6,1010.1l14.8,14.8m0-14.8l-14.8,14.8"/>
<path class="b" d="M390.6,964.1l14.8,14.8m0-14.8l-14.8,14.8"/><path class="c" d="M390.6,964.1l14.8,14.8m0-14.8l-14.8,14.8"/>
<path class="b" d="M789.6,1051.1l14.8,14.8m0-14.8l-14.8,14.8"/><path class="c" d="M789.6,1051.1l14.8,14.8m0-14.8l-14.8,14.8"/>
<path class="b" d="M476.6,1101.1l14.8,14.8m0-14.8l-14.8,14.8"/><path class="c" d="M476.6,1101.1l14.8,14.8m0-14.8l-14.8,14.8"/>
<path class="b" d="M486.6,1060.1l14.8,14.8m0-14.8l-14.8,14.8"/><path class="c" d="M486.6,1060.1l14.8,14.8m0-14.8l-14.8,14.8"/>
<path class="b" d="M388.6,1039.1l14.8,14.8m0-14.8l-14.8,14.8"/><path class="c" d="M388.6,1039.1l14.8,14.8m0-14.8l-14.8,14.8"/>
<path class="b" d="M405.6,1148.1l14.8,14.8m0-14.8l-14.8,14.8"/><path class="c" d="M405.6,1148.1l14.8,14.8m0-14.8l-14.8,14.8"/>
<path class="b" d="M530.6,1083.1l14.8,14.8m0-14.8l-14.8,14.8"/><path class="c" d="M530.6,1083.1l14.8,14.8m0-14.8l-14.8,14.8"/>
<path class="b" d="M450.6,1099.1l14.8,14.8m0-14.8l-14.8,14.8"/><path class="c" d="M450.6,1099.1l14.8,14.8m0-14.8l-14.8,14.8"/>
<path class="b" d="M549.6,985.1l14.8,14.8m0-14.8l-14.8,14.8"/><path class="c" d="M549.6,985.1l14.8,14.8m0-14.8l-14.8,14.8"/>
<path class="b" d="M507.6,1148.1l14.8,14.8m0-14.8l-14.8,14.8"/><path class="c" d="M507.6,1148.1l14.8,14.8m0-14.8l-14.8,14.8"/>
<path class="b" d="M502.6,978.1l14.8,14.8m0-14.8l-14.8,14.8"/><path class="c" d="M502.6,978.1l14.8,14.8m0-14.8l-14.8,14.8"/>
<path class="b" d="M380.6,974.1l14.8,14.8m0-14.8l-14.8,14.8"/><path class="c" d="M380.6,974.1l14.8,14.8m0-14.8l-14.8,14.8"/>
<path class="b" d="M487.6,1083.1l14.8,14.8m0-14.8l-14.8,14.8"/><path class="c" d="M487.6,1083.1l14.8,14.8m0-14.8l-14.8,14.8"/>
<path class="b" d="M531.6,1083.1l14.8,14.8m0-14.8l-14.8,14.8"/><path class="c" d="M531.6,1083.1l14.8,14.8m0-14.8l-14.8,14.8"/>
<path class="b" d="M558.6,1002.1l14.8,14.8m0-14.8l-14.8,14.8"/><path class="c" d="M558.6,1002.1l14.8,14.8m0-14.8l-14.8,14.8"/>
<path class="b" d="M407.6,955.1l14.8,14.8m0-14.8l-14.8,14.8"/><path class="c" d="M407.6,955.1l14.8,14.8m0-14.8l-14.8,14.8"/>
<path class="b" d="M521.6,1083.1l14.8,14.8m0-14.8l-14.8,14.8"/><path class="c" d="M521.6,1083.1l14.8,14.8m0-14.8l-14.8,14.8"/>
<path class="b" d="M419.6,1028.1l14.8,14.8m0-14.8l-14.8,14.8"/><path class="c" d="M419.6,1028.1l14.8,14.8m0-14.8l-14.8,14.8"/>
<path class="b" d="M604.6,1055.1l14.8,14.8m0-14.8l-14.8,14.8"/><path class="c" d="M604.6,1055.1l14.8,14.8m0-14.8l-14.8,14.8"/>
<path class="b" d="M349.6,1035.1l14.8,14.8m0-14.8l-14.8,14.8"/><path class="c" d="M349.6,1035.1l14.8,14.8m0-14.8l-14.8,14.8"/>
<path class="b" d="M383.6,1079.1l14.8,14.8m0-14.8l-14.8,14.8"/><path class="c" d="M383.6,1079.1l14.8,14.8m0-14.8l-14.8,14.8"/>
<path class="b" d="M491.6,1097.1l14.8,14.8m0-14.8l-14.8,14.8"/><path class="c" d="M491.6,1097.1l14.8,14.8m0-14.8l-14.8,14.8"/>
<path class="b" d="M422.6,1056.1l14.8,14.8m0-14.8l-14.8,14.8"/><path class="c" d="M422.6,1056.1l14.8,14.8m0-14.8l-14.8,14.8"/>
<path class="b" d="M374.6,1057.1l14.8,14.8m0-14.8l-14.8,14.8"/><path class="c" d="M374.6,1057.1l14.8,14.8m0-14.8l-14.8,14.8"/>
<path class="b" d="M409.6,1032.1l14.8,14.8m0-14.8l-14.8,14.8"/><path class="c" d="M409.6,1032.1l14.8,14.8m0-14.8l-14.8,14.8"/>
<path class="b" d="M555.6,1016.1l14.8,14.8m0-14.8l-14.8,14.8"/><path class="c" d="M555.6,1016.1l14.8,14.8m0-14.8l-14.8,14.8"/>
<path class="b" d="M377.6,1080.1l14.8,14.8m0-14.8l-14.8,14.8"/><path class="c" d="M377.6,1080.1l14.8,14.8m0-14.8l-14.8,14.8"/>
<path class="b" d="M627.6,1053.1l14.8,14.8m0-14.8l-14.8,14.8"/><path class="c" d="M627.6,1053.1l14.8,14.8m0-14.8l-14.8,14.8"/>
<path class="b" d="M630.6,1087.1l14.8,14.8m0-14.8l-14.8,14.8"/><path class="c" d="M630.6,1087.1l14.8,14.8m0-14.8l-14.8,14.8"/>
<path class="b" d="M512.6,1146.1l14.8,14.8m0-14.8l-14.8,14.8"/><path class="c" d="M512.6,1146.1l14.8,14.8m0-14.8l-14.8,14.8"/>
<path class="b" d="M478.6,1072.1l14.8,14.8m0-14.8l-14.8,14.8"/><path class="c" d="M478.6,1072.1l14.8,14.8m0-14.8l-14.8,14.8"/>
<path class="b" d="M428.6,1108.1l14.8,14.8m0-14.8l-14.8,14.8"/><path class="c" d="M428.6,1108.1l14.8,14.8m0-14.8l-14.8,14.8"/>
<path class="b" d="M414.6,1013.1l14.8,14.8m0-14.8l-14.8,14.8"/><path class="c" d="M414.6,1013.1l14.8,14.8m0-14.8l-14.8,14.8"/>
<path class="b" d="M524.6,1046.1l14.8,14.8m0-14.8l-14.8,14.8"/><path class="c" d="M524.6,1046.1l14.8,14.8m0-14.8l-14.8,14.8"/>
<path class="b" d="M605.6,1073.1l14.8,14.8m0-14.8l-14.8,14.8"/><path class="c" d="M605.6,1073.1l14.8,14.8m0-14.8l-14.8,14.8"/>
<path class="b" d="M600.6,1011.1l14.8,14.8m0-14.8l-14.8,14.8"/><path class="c" d="M600.6,1011.1l14.8,14.8m0-14.8l-14.8,14.8"/>
<path class="b" d="M509.6,1034.1l14.8,14.8m0-14.8l-14.8,14.8"/><path class="c" d="M509.6,1034.1l14.8,14.8m0-14.8l-14.8,14.8"/>
<path class="b" d="M643.6,1029.1l14.8,14.8m0-14.8l-14.8,14.8"/><path class="c" d="M643.6,1029.1l14.8,14.8m0-14.8l-14.8,14.8"/>
<path class="b" d="M514.6,1130.1l14.8,14.8m0-14.8l-14.8,14.8"/><path class="c" d="M514.6,1130.1l14.8,14.8m0-14.8l-14.8,14.8"/>
<path class="b" d="M400.6,1094.1l14.8,14.8m0-14.8l-14.8,14.8"/><path class="c" d="M400.6,1094.1l14.8,14.8m0-14.8l-14.8,14.8"/>
<path class="b" d="M496.6,1164.1l14.8,14.8m0-14.8l-14.8,14.8"/><path class="c" d="M496.6,1164.1l14.8,14.8m0-14.8l-14.8,14.8"/>
<path class="b" d="M356.6,971.1l14.8,14.8m0-14.8l-14.8,14.8"/><path class="c" d="M356.6,971.1l14.8,14.8m0-14.8l-14.8,14.8"/>
<path class="b" d="M497.6,1129.1l14.8,14.8m0-14.8l-14.8,14.8"/><path class="c" d="M497.6,1129.1l14.8,14.8m0-14.8l-14.8,14.8"/>
<path class="b" d="M413.6,1116.1l14.8,14.8m0-14.8l-14.8,14.8"/><path class="c" d="M413.6,1116.1l14.8,14.8m0-14.8l-14.8,14.8"/>
<path class="b" d="M598.6,1067.1l14.8,14.8m0-14.8l-14.8,14.8"/><path class="c" d="M598.6,1067.1l14.8,14.8m0-14.8l-14.8,14.8"/>
<path class="b" d="M559.6,996.1l14.8,14.8m0-14.8l-14.8,14.8"/><path class="c" d="M559.6,996.1l14.8,14.8m0-14.8l-14.8,14.8"/>
<path class="b" d="M418.6,1047.1l14.8,14.8m0-14.8l-14.8,14.8"/><path class="c" d="M418.6,1047.1l14.8,14.8m0-14.8l-14.8,14.8"/>
<path class="b" d="M567.6,986.1l14.8,14.8m0-14.8l-14.8,14.8"/><path class="c" d="M567.6,986.1l14.8,14.8m0-14.8l-14.8,14.8"/>
<path class="b" d="M379.6,1062.1l14.8,14.8m0-14.8l-14.8,14.8"/><path class="c" d="M379.6,1062.1l14.8,14.8m0-14.8l-14.8,14.8"/>
<path class="b" d="M444.6,1157.1l14.8,14.8m0-14.8l-14.8,14.8"/><path class="c" d="M444.6,1157.1l14.8,14.8m0-14.8l-14.8,14.8"/>
<path class="b" d="M407.6,1018.1l14.8,14.8m0-14.8l-14.8,14.8"/><path class="c" d="M407.6,1018.1l14.8,14.8m0-14.8l-14.8,14.8"/>
<path class="b" d="M536.6,1032.1l14.8,14.8m0-14.8l-14.8,14.8"/><path class="c" d="M536.6,1032.1l14.8,14.8m0-14.8l-14.8,14.8"/>
<path class="b" d="M355.6,1036.1l14.8,14.8m0-14.8l-14.8,14.8"/><path class="c" d="M355.6,1036.1l14.8,14.8m0-14.8l-14.8,14.8"/>
<path class="b" d="M540.6,1017.1l14.8,14.8m0-14.8l-14.8,14.8"/><path class="c" d="M540.6,1017.1l14.8,14.8m0-14.8l-14.8,14.8"/>
<path class="b" d="M568.6,1019.1l14.8,14.8m0-14.8l-14.8,14.8"/><path class="c" d="M568.6,1019.1l14.8,14.8m0-14.8l-14.8,14.8"/>
<path class="b" d="M406.6,1138.1l14.8,14.8m0-14.8l-14.8,14.8"/><path class="c" d="M406.6,1138.1l14.8,14.8m0-14.8l-14.8,14.8"/>
<path class="b" d="M502.6,974.1l14.8,14.8m0-14.8l-14.8,14.8"/><path class="c" d="M502.6,974.1l14.8,14.8m0-14.8l-14.8,14.8"/>
<path class="b" d="M620.6,1061.1l14.8,14.8m0-14.8l-14.8,14.8"/><path class="c" d="M620.6,1061.1l14.8,14.8m0-14.8l-14.8,14.8"/>
<path class="b" d="M520.6,1179.1l14.8,14.8m0-14.8l-14.8,14.8"/><path class="c" d="M520.6,1179.1l14.8,14.8m0-14.8l-14.8,14.8"/>
<path class="b" d="M566.6,1024.1l14.8,14.8m0-14.8l-14.8,14.8"/><path class="c" d="M566.6,1024.1l14.8,14.8m0-14.8l-14.8,14.8"/>
<path class="b" d="M433.6,978.1l14.8,14.8m0-14.8l-14.8,14.8"/><path class="c" d="M433.6,978.1l14.8,14.8m0-14.8l-14.8,14.8"/>
<path class="b" d="M482.6,923.1l14.8,14.8m0-14.8l-14.8,14.8"/><path class="c" d="M482.6,923.1l14.8,14.8m0-14.8l-14.8,14.8"/>
<path class="b" d="M449.6,1104.1l14.8,14.8m0-14.8l-14.8,14.8"/><path class="c" d="M449.6,1104.1l14.8,14.8m0-14.8l-14.8,14.8"/>
<path class="b" d="M393.6,906.1l14.8,14.8m0-14.8l-14.8,14.8"/><path class="c" d="M393.6,906.1l14.8,14.8m0-14.8l-14.8,14.8"/>
<path class="b" d="M418.6,1126.1l14.8,14.8m0-14.8l-14.8,14.8"/><path class="c" d="M418.6,1126.1l14.8,14.8m0-14.8l-14.8,14.8"/>
<path class="b" d="M368.6,1056.1l14.8,14.8m0-14.8l-14.8,14.8"/><path class="c" d="M368.6,1056.1l14.8,14.8m0-14.8l-14.8,14.8"/>
<path class="b" d="M609.6,1014.1l14.8,14.8m0-14.8l-14.8,14.8"/><path class="c" d="M609.6,1014.1l14.8,14.8m0-14.8l-14.8,14.8"/>
<path class="b" d="M590.6,1004.1l14.8,14.8m0-14.8l-14.8,14.8"/><path class="c" d="M590.6,1004.1l14.8,14.8m0-14.8l-14.8,14.8"/>
<path class="b" d="M456.6,1011.1l14.8,14.8m0-14.8l-14.8,14.8"/><path class="c" d="M456.6,1011.1l14.8,14.8m0-14.8l-14.8,14.8"/>
<path class="b" d="M407.6,1093.1l14.8,14.8m0-14.8l-14.8,14.8"/><path class="c" d="M407.6,1093.1l14.8,14.8m0-14.8l-14.8,14.8"/>
<path class="b" d="M540.6,1181.1l14.8,14.8m0-14.8l-14.8,14.8"/><path class="c" d="M540.6,1181.1l14.8,14.8m0-14.8l-14.8,14.8"/>
<path class="b" d="M424.6,1156.1l14.8,14.8m0-14.8l-14.8,14.8"/><path class="c" d="M424.6,1156.1l14.8,14.8m0-14.8l-14.8,14.8"/>
<path class="b" d="M381.6,1087.1l14.8,14.8m0-14.8l-14.8,14.8"/><path class="c" d="M381.6,1087.1l14.8,14.8m0-14.8l-14.8,14.8"/>
<path class="b" d="M379.6,1050.1l14.8,14.8m0-14.8l-14.8,14.8"/><path class="c" d="M379.6,1050.1l14.8,14.8m0-14.8l-14.8,14.8"/>
<path class="b" d="M350.6,968.1l14.8,14.8m0-14.8l-14.8,14.8"/><path class="c" d="M350.6,968.1l14.8,14.8m0-14.8l-14.8,14.8"/>
<path class="b" d="M321.6,949.1l14.8,14.8m0-14.8l-14.8,14.8"/><path class="c" d="M321.6,949.1l14.8,14.8m0-14.8l-14.8,14.8"/>
<path class="b" d="M480.6,1155.1l14.8,14.8m0-14.8l-14.8,14.8"/><path class="c" d="M480.6,1155.1l14.8,14.8m0-14.8l-14.8,14.8"/>
<path class="b" d="M424.6,975.1l14.8,14.8m0-14.8l-14.8,14.8"/><path class="c" d="M424.6,975.1l14.8,14.8m0-14.8l-14.8,14.8"/>
<path class="b" d="M583.6,1001.1l14.8,14.8m0-14.8l-14.8,14.8"/><path class="c" d="M583.6,1001.1l14.8,14.8m0-14.8l-14.8,14.8"/>
<path class="b" d="M424.6,1086.1l14.8,14.8m0-14.8l-14.8,14.8"/><path class="c" d="M424.6,1086.1l14.8,14.8m0-14.8l-14.8,14.8"/>
<path class="b" d="M397.6,1070.1l14.8,14.8m0-14.8l-14.8,14.8"/><path class="c" d="M397.6,1070.1l14.8,14.8m0-14.8l-14.8,14.8"/>
<path class="b" d="M509.6,997.1l14.8,14.8m0-14.8l-14.8,14.8"/><path class="c" d="M509.6,997.1l14.8,14.8m0-14.8l-14.8,14.8"/>
<path class="b" d="M395.6,1134.1l14.8,14.8m0-14.8l-14.8,14.8"/><path class="c" d="M395.6,1134.1l14.8,14.8m0-14.8l-14.8,14.8"/>
<path class="b" d="M549.6,1096.1l14.8,14.8m0-14.8l-14.8,14.8"/><path class="c" d="M549.6,1096.1l14.8,14.8m0-14.8l-14.8,14.8"/>
<path class="b" d="M410.6,1030.1l14.8,14.8m0-14.8l-14.8,14.8"/><path class="c" d="M410.6,1030.1l14.8,14.8m0-14.8l-14.8,14.8"/>
<path class="b" d="M485.6,1053.1l14.8,14.8m0-14.8l-14.8,14.8"/><path class="c" d="M485.6,1053.1l14.8,14.8m0-14.8l-14.8,14.8"/>
<path class="b" d="M400.6,1116.1l14.8,14.8m0-14.8l-14.8,14.8"/><path class="c" d="M400.6,1116.1l14.8,14.8m0-14.8l-14.8,14.8"/>
<path class="b" d="M488.6,1150.1l14.8,14.8m0-14.8l-14.8,14.8"/><path class="c" d="M488.6,1150.1l14.8,14.8m0-14.8l-14.8,14.8"/>
<path class="b" d="M425.6,961.1l14.8,14.8m0-14.8l-14.8,14.8"/><path class="c" d="M425.6,961.1l14.8,14.8m0-14.8l-14.8,14.8"/>
<path class="b" d="M335.6,1016.1l14.8,14.8m0-14.8l-14.8,14.8"/><path class="c" d="M335.6,1016.1l14.8,14.8m0-14.8l-14.8,14.8"/>
<path class="b" d="M593.6,1063.1l14.8,14.8m0-14.8l-14.8,14.8"/><path class="c" d="M593.6,1063.1l14.8,14.8m0-14.8l-14.8,14.8"/>
<path class="b" d="M438.6,975.1l14.8,14.8m0-14.8l-14.8,14.8"/><path class="c" d="M438.6,975.1l14.8,14.8m0-14.8l-14.8,14.8"/>
<path class="b" d="M372.6,990.1l14.8,14.8m0-14.8l-14.8,14.8"/><path class="c" d="M372.6,990.1l14.8,14.8m0-14.8l-14.8,14.8"/>
<path class="b" d="M340.6,944.1l14.8,14.8m0-14.8l-14.8,14.8"/><path class="c" d="M340.6,944.1l14.8,14.8m0-14.8l-14.8,14.8"/>
<path class="b" d="M518.6,1079.1l14.8,14.8m0-14.8l-14.8,14.8"/><path class="c" d="M518.6,1079.1l14.8,14.8m0-14.8l-14.8,14.8"/>
<path class="b" d="M375.6,975.1l14.8,14.8m0-14.8l-14.8,14.8"/><path class="c" d="M375.6,975.1l14.8,14.8m0-14.8l-14.8,14.8"/>
<path class="b" d="M522.6,1043.1l14.8,14.8m0-14.8l-14.8,14.8"/><path class="c" d="M522.6,1043.1l14.8,14.8m0-14.8l-14.8,14.8"/>
<path class="b" d="M563.6,1062.1l14.8,14.8m0-14.8l-14.8,14.8"/><path class="c" d="M563.6,1062.1l14.8,14.8m0-14.8l-14.8,14.8"/>
<path class="b" d="M560.6,1076.1l14.8,14.8m0-14.8l-14.8,14.8"/><path class="c" d="M560.6,1076.1l14.8,14.8m0-14.8l-14.8,14.8"/>
<path class="b" d="M616.6,1051.1l14.8,14.8m0-14.8l-14.8,14.8"/><path class="c" d="M616.6,1051.1l14.8,14.8m0-14.8l-14.8,14.8"/>
<path class="b" d="M383.6,1088.1l14.8,14.8m0-14.8l-14.8,14.8"/><path class="c" d="M383.6,1088.1l14.8,14.8m0-14.8l-14.8,14.8"/>
<path class="b" d="M523.6,968.1l14.8,14.8m0-14.8l-14.8,14.8"/><path class="c" d="M523.6,968.1l14.8,14.8m0-14.8l-14.8,14.8"/>
<path class="b" d="M388.6,1125.1l14.8,14.8m0-14.8l-14.8,14.8"/><path class="c" d="M388.6,1125.1l14.8,14.8m0-14.8l-14.8,14.8"/>
<path class="b" d="M450.6,961.1l14.8,14.8m0-14.8l-14.8,14.8"/><path class="c" d="M450.6,961.1l14.8,14.8m0-14.8l-14.8,14.8"/>
<path class="b" d="M360.6,987.1l14.8,14.8m0-14.8l-14.8,14.8"/><path class="c" d="M360.6,987.1l14.8,14.8m0-14.8l-14.8,14.8"/>
<path class="b" d="M371.6,1047.1l14.8,14.8m0-14.8l-14.8,14.8"/><path class="c" d="M371.6,1047.1l14.8,14.8m0-14.8l-14.8,14.8"/>
<path class="b" d="M330.6,981.1l14.8,14.8m0-14.8l-14.8,14.8"/><path class="c" d="M330.6,981.1l14.8,14.8m0-14.8l-14.8,14.8"/>
<path class="b" d="M445.6,989.1l14.8,14.8m0-14.8l-14.8,14.8"/><path class="c" d="M445.6,989.1l14.8,14.8m0-14.8l-14.8,14.8"/>
<path class="b" d="M416.6,1127.1l14.8,14.8m0-14.8l-14.8,14.8"/><path class="c" d="M416.6,1127.1l14.8,14.8m0-14.8l-14.8,14.8"/>
<path class="b" d="M402.6,941.1l14.8,14.8m0-14.8l-14.8,14.8"/><path class="c" d="M402.6,941.1l14.8,14.8m0-14.8l-14.8,14.8"/>
<path class="b" d="M619.6,1069.1l14.8,14.8m0-14.8l-14.8,14.8"/><path class="c" d="M619.6,1069.1l14.8,14.8m0-14.8l-14.8,14.8"/>
<path class="b" d="M330.6,983.1l14.8,14.8m0-14.8l-14.8,14.8"/><path class="c" d="M330.6,983.1l14.8,14.8m0-14.8l-14.8,14.8"/>
<path class="b" d="M426.6,1006.1l14.8,14.8m0-14.8l-14.8,14.8"/><path class="c" d="M426.6,1006.1l14.8,14.8m0-14.8l-14.8,14.8"/>
<path class="b" d="M566.6,1087.1l14.8,14.8m0-14.8l-14.8,14.8"/><path class="c" d="M566.6,1087.1l14.8,14.8m0-14.8l-14.8,14.8"/>
<path class="b" d="M405.6,992.1l14.8,14.8m0-14.8l-14.8,14.8"/><path class="c" d="M405.6,992.1l14.8,14.8m0-14.8l-14.8,14.8"/>
<path class="b" d="M458.6,1040.1l14.8,14.8m0-14.8l-14.8,14.8"/><path class="c" d="M458.6,1040.1l14.8,14.8m0-14.8l-14.8,14.8"/>
<path class="b" d="M384.6,1059.1l14.8,14.8m0-14.8l-14.8,14.8"/><path class="c" d="M384.6,1059.1l14.8,14.8m0-14.8l-14.8,14.8"/>
<path class="b" d="M476.6,1128.1l14.8,14.8m0-14.8l-14.8,14.8"/><path class="c" d="M476.6,1128.1l14.8,14.8m0-14.8l-14.8,14.8"/>
<path class="b" d="M621.6,1024.1l14.8,14.8m0-14.8l-14.8,14.8"/><path class="c" d="M621.6,1024.1l14.8,14.8m0-14.8l-14.8,14.8"/>
<path class="b" d="M422.6,1097.1l14.8,14.8m0-14.8l-14.8,14.8"/><path class="c" d="M422.6,1097.1l14.8,14.8m0-14.8l-14.8,14.8"/>
<path class="b" d="M384.6,968.1l14.8,14.8m0-14.8l-14.8,14.8"/><path class="c" d="M384.6,968.1l14.8,14.8m0-14.8l-14.8,14.8"/>
<path class="b" d="M396.6,964.1l14.8,14.8m0-14.8l-14.8,14.8"/><path class="c" d="M396.6,964.1l14.8,14.8m0-14.8l-14.8,14.8"/>
<path class="b" d="M555.6,1005.1l14.8,14.8m0-14.8l-14.8,14.8"/><path class="c" d="M555.6,1005.1l14.8,14.8m0-14.8l-14.8,14.8"/>
<path class="b" d="M389.6,1113.1l14.8,14.8m0-14.8l-14.8,14.8"/><path class="c" d="M389.6,1113.1l14.8,14.8m0-14.8l-14.8,14.8"/>
<path class="b" d="M493.6,1045.1l14.8,14.8m0-14.8l-14.8,14.8"/><path class="c" d="M493.6,1045.1l14.8,14.8m0-14.8l-14.8,14.8"/>
<path class="b" d="M443.6,1036.1l14.8,14.8m0-14.8l-14.8,14.8"/><path class="c" d="M443.6,1036.1l14.8,14.8m0-14.8l-14.8,14.8"/>
<path class="b" d="M349.6,1235.1l14.8,14.8m0-14.8l-14.8,14.8"/><path class="c" d="M349.6,1235.1l14.8,14.8m0-14.8l-14.8,14.8"/>
<path class="b" d="M425.6,977.1l14.8,14.8m0-14.8l-14.8,14.8"/><path class="c" d="M425.6,977.1l14.8,14.8m0-14.8l-14.8,14.8"/>
<path class="b" d="M417.6,1074.1l14.8,14.8m0-14.8l-14.8,14.8"/><path class="c" d="M417.6,1074.1l14.8,14.8m0-14.8l-14.8,14.8"/>
<path class="b" d="M310.6,1042.1l14.8,14.8m0-14.8l-14.8,14.8"/><path class="c" d="M310.6,1042.1l14.8,14.8m0-14.8l-14.8,14.8"/>
<path class="b" d="M407.6,960.1l14.8,14.8m0-14.8l-14.8,14.8"/><path class="c" d="M407.6,960.1l14.8,14.8m0-14.8l-14.8,14.8"/>
<path class="b" d="M408.6,993.1l14.8,14.8m0-14.8l-14.8,14.8"/><path class="c" d="M408.6,993.1l14.8,14.8m0-14.8l-14.8,14.8"/>
<path class="b" d="M580.6,1080.1l14.8,14.8m0-14.8l-14.8,14.8"/><path class="c" d="M580.6,1080.1l14.8,14.8m0-14.8l-14.8,14.8"/>
<path class="b" d="M419.6,945.1l14.8,14.8m0-14.8l-14.8,14.8"/><path class="c" d="M419.6,945.1l14.8,14.8m0-14.8l-14.8,14.8"/>
<path class="b" d="M411.6,941.1l14.8,14.8m0-14.8l-14.8,14.8"/><path class="c" d="M411.6,941.1l14.8,14.8m0-14.8l-14.8,14.8"/>
<path class="b" d="M519.6,1132.1l14.8,14.8m0-14.8l-14.8,14.8"/><path class="c" d="M519.6,1132.1l14.8,14.8m0-14.8l-14.8,14.8"/>
<path class="b" d="M613.6,1056.1l14.8,14.8m0-14.8l-14.8,14.8"/><path class="c" d="M613.6,1056.1l14.8,14.8m0-14.8l-14.8,14.8"/>
<path class="b" d="M371.6,1008.1l14.8,14.8m0-14.8l-14.8,14.8"/><path class="c" d="M371.6,1008.1l14.8,14.8m0-14.8l-14.8,14.8"/>
<path class="b" d="M524.6,1181.1l14.8,14.8m0-14.8l-14.8,14.8"/><path class="c" d="M524.6,1181.1l14.8,14.8m0-14.8l-14.8,14.8"/>
<path class="b" d="M453.6,965.1l14.8,14.8m0-14.8l-14.8,14.8"/><path class="c" d="M453.6,965.1l14.8,14.8m0-14.8l-14.8,14.8"/>
<path class="b" d="M566.6,991.1l14.8,14.8m0-14.8l-14.8,14.8"/><path class="c" d="M566.6,991.1l14.8,14.8m0-14.8l-14.8,14.8"/>
<path class="b" d="M474.6,1020.1l14.8,14.8m0-14.8l-14.8,14.8"/><path class="c" d="M474.6,1020.1l14.8,14.8m0-14.8l-14.8,14.8"/>
<path class="b" d="M493.6,968.1l14.8,14.8m0-14.8l-14.8,14.8"/><path class="c" d="M493.6,968.1l14.8,14.8m0-14.8l-14.8,14.8"/>
<path class="b" d="M438.6,1080.1l14.8,14.8m0-14.8l-14.8,14.8"/><path class="c" d="M438.6,1080.1l14.8,14.8m0-14.8l-14.8,14.8"/>
<path class="b" d="M444.6,1108.1l14.8,14.8m0-14.8l-14.8,14.8"/><path class="c" d="M444.6,1108.1l14.8,14.8m0-14.8l-14.8,14.8"/>
<path class="b" d="M375.6,1059.1l14.8,14.8m0-14.8l-14.8,14.8"/><path class="c" d="M375.6,1059.1l14.8,14.8m0-14.8l-14.8,14.8"/>
<path class="b" d="M450.6,986.1l14.8,14.8m0-14.8l-14.8,14.8"/><path class="c" d="M450.6,986.1l14.8,14.8m0-14.8l-14.8,14.8"/>
<path class="b" d="M430.6,1062.1l14.8,14.8m0-14.8l-14.8,14.8"/><path class="c" d="M430.6,1062.1l14.8,14.8m0-14.8l-14.8,14.8"/>
<path class="b" d="M542.6,1006.1l14.8,14.8m0-14.8l-14.8,14.8"/><path class="c" d="M542.6,1006.1l14.8,14.8m0-14.8l-14.8,14.8"/>
<path class="b" d="M377.6,1089.1l14.8,14.8m0-14.8l-14.8,14.8"/><path class="c" d="M377.6,1089.1l14.8,14.8m0-14.8l-14.8,14.8"/>
<path class="b" d="M621.6,1053.1l14.8,14.8m0-14.8l-14.8,14.8"/><path class="c" d="M621.6,1053.1l14.8,14.8m0-14.8l-14.8,14.8"/>
<path class="b" d="M375.6,1026.1l14.8,14.8m0-14.8l-14.8,14.8"/><path class="c" d="M375.6,1026.1l14.8,14.8m0-14.8l-14.8,14.8"/>
<path class="b" d="M441.6,958.1l14.8,14.8m0-14.8l-14.8,14.8"/><path class="c" d="M441.6,958.1l14.8,14.8m0-14.8l-14.8,14.8"/>
<path class="b" d="M427.6,1106.1l14.8,14.8m0-14.8l-14.8,14.8"/><path class="c" d="M427.6,1106.1l14.8,14.8m0-14.8l-14.8,14.8"/>
<path class="b" d="M523.6,1018.1l14.8,14.8m0-14.8l-14.8,14.8"/><path class="c" d="M523.6,1018.1l14.8,14.8m0-14.8l-14.8,14.8"/>
<path class="b" d="M375.6,1037.1l14.8,14.8m0-14.8l-14.8,14.8"/><path class="c" d="M375.6,1037.1l14.8,14.8m0-14.8l-14.8,14.8"/>
<path class="b" d="M450.6,1175.1l14.8,14.8m0-14.8l-14.8,14.8"/><path class="c" d="M450.6,1175.1l14.8,14.8m0-14.8l-14.8,14.8"/>
<path class="b" d="M522.6,1052.1l14.8,14.8m0-14.8l-14.8,14.8"/><path class="c" d="M522.6,1052.1l14.8,14.8m0-14.8l-14.8,14.8"/>
<path class="b" d="M505.6,1120.1l14.8,14.8m0-14.8l-14.8,14.8"/><path class="c" d="M505.6,1120.1l14.8,14.8m0-14.8l-14.8,14.8"/>
<path class="b" d="M505.6,1140.1l14.8,14.8m0-14.8l-14.8,14.8"/><path class="c" d="M505.6,1140.1l14.8,14.8m0-14.8l-14.8,14.8"/>
<path class="b" d="M531.6,1013.1l14.8,14.8m0-14.8l-14.8,14.8"/><path class="c" d="M531.6,1013.1l14.8,14.8m0-14.8l-14.8,14.8"/>
<path class="b" d="M450.6,1007.1l14.8,14.8m0-14.8l-14.8,14.8"/><path class="c" d="M450.6,1007.1l14.8,14.8m0-14.8l-14.8,14.8"/>
<path class="b" d="M486.6,1070.1l14.8,14.8m0-14.8l-14.8,14.8"/><path class="c" d="M486.6,1070.1l14.8,14.8m0-14.8l-14.8,14.8"/>
<path class="b" d="M675.6,1051.1l14.8,14.8m0-14.8l-14.8,14.8"/><path class="c" d="M675.6,1051.1l14.8,14.8m0-14.8l-14.8,14.8"/>
<path class="b" d="M440.6,1089.1l14.8,14.8m0-14.8l-14.8,14.8"/><path class="c" d="M440.6,1089.1l14.8,14.8m0-14.8l-14.8,14.8"/>
<path class="b" d="M440.6,1117.1l14.8,14.8m0-14.8l-14.8,14.8"/><path class="c" d="M440.6,1117.1l14.8,14.8m0-14.8l-14.8,14.8"/>
<path class="b" d="M449.6,992.1l14.8,14.8m0-14.8l-14.8,14.8"/><path class="c" d="M449.6,992.1l14.8,14.8m0-14.8l-14.8,14.8"/>
<path class="b" d="M294.6,943.1l14.8,14.8m0-14.8l-14.8,14.8"/><path class="c" d="M294.6,943.1l14.8,14.8m0-14.8l-14.8,14.8"/>
<path class="b" d="M370.6,1000.1l14.8,14.8m0-14.8l-14.8,14.8"/><path class="c" d="M370.6,1000.1l14.8,14.8m0-14.8l-14.8,14.8"/>
<path class="b" d="M349.6,1049.1l14.8,14.8m0-14.8l-14.8,14.8"/><path class="c" d="M349.6,1049.1l14.8,14.8m0-14.8l-14.8,14.8"/>
<path class="b" d="M552.6,1081.1l14.8,14.8m0-14.8l-14.8,14.8"/><path class="c" d="M552.6,1081.1l14.8,14.8m0-14.8l-14.8,14.8"/>
<path class="b" d="M191.6,857.1l14.8,14.8m0-14.8l-14.8,14.8"/><path class="c" d="M191.6,857.1l14.8,14.8m0-14.8l-14.8,14.8"/>
<path class="b" d="M551.6,1070.1l14.8,14.8m0-14.8l-14.8,14.8"/><path class="c" d="M551.6,1070.1l14.8,14.8m0-14.8l-14.8,14.8"/>
<path class="b" d="M374.6,1075.1l14.8,14.8m0-14.8l-14.8,14.8"/><path class="c" d="M374.6,1075.1l14.8,14.8m0-14.8l-14.8,14.8"/>
<path class="b" d="M356.6,961.1l14.8,14.8m0-14.8l-14.8,14.8"/><path class="c" d="M356.6,961.1l14.8,14.8m0-14.8l-14.8,14.8"/>
<path class="b" d="M437.6,1016.1l14.8,14.8m0-14.8l-14.8,14.8"/><path class="c" d="M437.6,1016.1l14.8,14.8m0-14.8l-14.8,14.8"/>
<path class="b" d="M389.6,1023.1l14.8,14.8m0-14.8l-14.8,14.8"/><path class="c" d="M389.6,1023.1l14.8,14.8m0-14.8l-14.8,14.8"/>
<path class="b" d="M659.6,1024.1l14.8,14.8m0-14.8l-14.8,14.8"/><path class="c" d="M659.6,1024.1l14.8,14.8m0-14.8l-14.8,14.8"/>
<path class="b" d="M569.6,1015.1l14.8,14.8m0-14.8l-14.8,14.8"/><path class="c" d="M569.6,1015.1l14.8,14.8m0-14.8l-14.8,14.8"/>
<path class="b" d="M621.6,1013.1l14.8,14.8m0-14.8l-14.8,14.8"/><path class="c" d="M621.6,1013.1l14.8,14.8m0-14.8l-14.8,14.8"/>
<path class="b" d="M545.6,1066.1l14.8,14.8m0-14.8l-14.8,14.8"/><path class="c" d="M545.6,1066.1l14.8,14.8m0-14.8l-14.8,14.8"/>
<path class="b" d="M429.6,1089.1l14.8,14.8m0-14.8l-14.8,14.8"/><path class="c" d="M429.6,1089.1l14.8,14.8m0-14.8l-14.8,14.8"/>
<path class="b" d="M401.6,1124.1l14.8,14.8m0-14.8l-14.8,14.8"/><path class="c" d="M401.6,1124.1l14.8,14.8m0-14.8l-14.8,14.8"/>
<path class="b" d="M398.6,968.1l14.8,14.8m0-14.8l-14.8,14.8"/><path class="c" d="M398.6,968.1l14.8,14.8m0-14.8l-14.8,14.8"/>
<path class="b" d="M537.6,1032.1l14.8,14.8m0-14.8l-14.8,14.8"/><path class="c" d="M537.6,1032.1l14.8,14.8m0-14.8l-14.8,14.8"/>
<path class="b" d="M535.6,1090.1l14.8,14.8m0-14.8l-14.8,14.8"/><path class="c" d="M535.6,1090.1l14.8,14.8m0-14.8l-14.8,14.8"/>
<path class="b" d="M504.6,1001.1l14.8,14.8m0-14.8l-14.8,14.8"/><path class="c" d="M504.6,1001.1l14.8,14.8m0-14.8l-14.8,14.8"/>
<path class="b" d="M426.6,1078.1l14.8,14.8m0-14.8l-14.8,14.8"/><path class="c" d="M426.6,1078.1l14.8,14.8m0-14.8l-14.8,14.8"/>
<path class="b" d="M661.6,1059.1l14.8,14.8m0-14.8l-14.8,14.8"/><path class="c" d="M661.6,1059.1l14.8,14.8m0-14.8l-14.8,14.8"/>
<path class="b" d="M424.6,965.1l14.8,14.8m0-14.8l-14.8,14.8"/><path class="c" d="M424.6,965.1l14.8,14.8m0-14.8l-14.8,14.8"/>
<path class="b" d="M625.6,1081.1l14.8,14.8m0-14.8l-14.8,14.8"/><path class="c" d="M625.6,1081.1l14.8,14.8m0-14.8l-14.8,14.8"/>
<path class="b" d="M486.6,1088.1l14.8,14.8m0-14.8l-14.8,14.8"/><path class="c" d="M486.6,1088.1l14.8,14.8m0-14.8l-14.8,14.8"/>
<path class="b" d="M599.6,1069.1l14.8,14.8m0-14.8l-14.8,14.8"/><path class="c" d="M599.6,1069.1l14.8,14.8m0-14.8l-14.8,14.8"/>
<path class="b" d="M513.6,1047.1l14.8,14.8m0-14.8l-14.8,14.8"/><path class="c" d="M513.6,1047.1l14.8,14.8m0-14.8l-14.8,14.8"/>
<path class="b" d="M570.6,1128.1l14.8,14.8m0-14.8l-14.8,14.8"/><path class="c" d="M570.6,1128.1l14.8,14.8m0-14.8l-14.8,14.8"/>
<path class="b" d="M441.6,1066.1l14.8,14.8m0-14.8l-14.8,14.8"/><path class="c" d="M441.6,1066.1l14.8,14.8m0-14.8l-14.8,14.8"/>
<path class="b" d="M441.6,1122.1l14.8,14.8m0-14.8l-14.8,14.8"/><path class="c" d="M441.6,1122.1l14.8,14.8m0-14.8l-14.8,14.8"/>
<path class="b" d="M348.6,1025.1l14.8,14.8m0-14.8l-14.8,14.8"/><path class="c" d="M348.6,1025.1l14.8,14.8m0-14.8l-14.8,14.8"/>
<path class="b" d="M481.6,1108.1l14.8,14.8m0-14.8l-14.8,14.8"/><path class="c" d="M481.6,1108.1l14.8,14.8m0-14.8l-14.8,14.8"/>
<path class="b" d="M414.6,1120.1l14.8,14.8m0-14.8l-14.8,14.8"/><path class="c" d="M414.6,1120.1l14.8,14.8m0-14.8l-14.8,14.8"/>
<path class="b" d="M349.6,1037.1l14.8,14.8m0-14.8l-14.8,14.8"/><path class="c" d="M349.6,1037.1l14.8,14.8m0-14.8l-14.8,14.8"/>
<path class="b" d="M458.6,1137.1l14.8,14.8m0-14.8l-14.8,14.8"/><path class="c" d="M458.6,1137.1l14.8,14.8m0-14.8l-14.8,14.8"/>
<path class="b" d="M540.6,990.1l14.8,14.8m0-14.8l-14.8,14.8"/><path class="c" d="M540.6,990.1l14.8,14.8m0-14.8l-14.8,14.8"/>
<path class="b" d="M545.6,1009.1l14.8,14.8m0-14.8l-14.8,14.8"/><path class="c" d="M545.6,1009.1l14.8,14.8m0-14.8l-14.8,14.8"/>
<path class="b" d="M451.6,1011.1l14.8,14.8m0-14.8l-14.8,14.8"/><path class="c" d="M451.6,1011.1l14.8,14.8m0-14.8l-14.8,14.8"/>
<path class="b" d="M386.6,1119.1l14.8,14.8m0-14.8l-14.8,14.8"/><path class="c" d="M386.6,1119.1l14.8,14.8m0-14.8l-14.8,14.8"/>
<path class="b" d="M363.6,1043.1l14.8,14.8m0-14.8l-14.8,14.8"/><path class="c" d="M363.6,1043.1l14.8,14.8m0-14.8l-14.8,14.8"/>
<path class="b" d="M408.6,1003.1l14.8,14.8m0-14.8l-14.8,14.8"/><path class="c" d="M408.6,1003.1l14.8,14.8m0-14.8l-14.8,14.8"/>
<path class="b" d="M289.6,1021.1l14.8,14.8m0-14.8l-14.8,14.8"/><path class="c" d="M289.6,1021.1l14.8,14.8m0-14.8l-14.8,14.8"/>
<path class="b" d="M465.6,1122.1l14.8,14.8m0-14.8l-14.8,14.8"/><path class="c" d="M465.6,1122.1l14.8,14.8m0-14.8l-14.8,14.8"/>
<path class="b" d="M389.6,1116.1l14.8,14.8m0-14.8l-14.8,14.8"/><path class="c" d="M389.6,1116.1l14.8,14.8m0-14.8l-14.8,14.8"/>
<path class="b" d="M392.6,1148.1l14.8,14.8m0-14.8l-14.8,14.8"/><path class="c" d="M392.6,1148.1l14.8,14.8m0-14.8l-14.8,14.8"/>
<path class="b" d="M441.6,1011.1l14.8,14.8m0-14.8l-14.8,14.8"/><path class="c" d="M441.6,1011.1l14.8,14.8m0-14.8l-14.8,14.8"/>
<path class="b" d="M494.6,1093.1l14.8,14.8m0-14.8l-14.8,14.8"/><path class="c" d="M494.6,1093.1l14.8,14.8m0-14.8l-14.8,14.8"/>
<path class="b" d="M495.6,1021.1l14.8,14.8m0-14.8l-14.8,14.8"/><path class="c" d="M495.6,1021.1l14.8,14.8m0-14.8l-14.8,14.8"/>
<path class="b" d="M548.6,1055.1l14.8,14.8m0-14.8l-14.8,14.8"/><path class="c" d="M548.6,1055.1l14.8,14.8m0-14.8l-14.8,14.8"/>
<path class="b" d="M456.6,1085.1l14.8,14.8m0-14.8l-14.8,14.8"/><path class="c" d="M456.6,1085.1l14.8,14.8m0-14.8l-14.8,14.8"/>
<path class="b" d="M412.6,970.1l14.8,14.8m0-14.8l-14.8,14.8"/><path class="c" d="M412.6,970.1l14.8,14.8m0-14.8l-14.8,14.8"/>
<path class="b" d="M391.6,1105.1l14.8,14.8m0-14.8l-14.8,14.8"/><path class="c" d="M391.6,1105.1l14.8,14.8m0-14.8l-14.8,14.8"/>
<path class="b" d="M667.6,1055.1l14.8,14.8m0-14.8l-14.8,14.8"/><path class="c" d="M667.6,1055.1l14.8,14.8m0-14.8l-14.8,14.8"/>
<path class="b" d="M630.6,1047.1l14.8,14.8m0-14.8l-14.8,14.8"/><path class="c" d="M630.6,1047.1l14.8,14.8m0-14.8l-14.8,14.8"/>
<path class="b" d="M631.6,1028.1l14.8,14.8m0-14.8l-14.8,14.8"/><path class="c" d="M631.6,1028.1l14.8,14.8m0-14.8l-14.8,14.8"/>
<path class="b" d="M522.6,1181.1l14.8,14.8m0-14.8l-14.8,14.8"/><path class="c" d="M522.6,1181.1l14.8,14.8m0-14.8l-14.8,14.8"/>
<path class="b" d="M380.6,1107.1l14.8,14.8m0-14.8l-14.8,14.8"/><path class="c" d="M380.6,1107.1l14.8,14.8m0-14.8l-14.8,14.8"/>
<path class="b" d="M423.6,1016.1l14.8,14.8m0-14.8l-14.8,14.8"/><path class="c" d="M423.6,1016.1l14.8,14.8m0-14.8l-14.8,14.8"/>
<path class="b" d="M620.6,1024.1l14.8,14.8m0-14.8l-14.8,14.8"/><path class="c" d="M620.6,1024.1l14.8,14.8m0-14.8l-14.8,14.8"/>
<path class="b" d="M501.6,996.1l14.8,14.8m0-14.8l-14.8,14.8"/><path class="c" d="M501.6,996.1l14.8,14.8m0-14.8l-14.8,14.8"/>
<path class="b" d="M426.6,1092.1l14.8,14.8m0-14.8l-14.8,14.8"/><path class="c" d="M426.6,1092.1l14.8,14.8m0-14.8l-14.8,14.8"/>
<path class="b" d="M501.6,1121.1l14.8,14.8m0-14.8l-14.8,14.8"/><path class="c" d="M501.6,1121.1l14.8,14.8m0-14.8l-14.8,14.8"/>
<path class="b" d="M540.6,1020.1l14.8,14.8m0-14.8l-14.8,14.8"/><path class="c" d="M540.6,1020.1l14.8,14.8m0-14.8l-14.8,14.8"/>
<path class="b" d="M549.6,1025.1l14.8,14.8m0-14.8l-14.8,14.8"/><path class="c" d="M549.6,1025.1l14.8,14.8m0-14.8l-14.8,14.8"/>
<path class="b" d="M570.6,1079.1l14.8,14.8m0-14.8l-14.8,14.8"/><path class="c" d="M570.6,1079.1l14.8,14.8m0-14.8l-14.8,14.8"/>
<path class="b" d="M527.6,1001.1l14.8,14.8m0-14.8l-14.8,14.8"/><path class="c" d="M527.6,1001.1l14.8,14.8m0-14.8l-14.8,14.8"/>
<path class="b" d="M553.6,1073.1l14.8,14.8m0-14.8l-14.8,14.8"/><path class="c" d="M553.6,1073.1l14.8,14.8m0-14.8l-14.8,14.8"/>
<path class="b" d="M389.6,1095.1l14.8,14.8m0-14.8l-14.8,14.8"/><path class="c" d="M389.6,1095.1l14.8,14.8m0-14.8l-14.8,14.8"/>
<path class="b" d="M362.6,1049.1l14.8,14.8m0-14.8l-14.8,14.8"/><path class="c" d="M362.6,1049.1l14.8,14.8m0-14.8l-14.8,14.8"/>
<path class="b" d="M577.6,1065.1l14.8,14.8m0-14.8l-14.8,14.8"/><path class="c" d="M577.6,1065.1l14.8,14.8m0-14.8l-14.8,14.8"/>
<path class="b" d="M393.6,1019.1l14.8,14.8m0-14.8l-14.8,14.8"/><path class="c" d="M393.6,1019.1l14.8,14.8m0-14.8l-14.8,14.8"/>
<path class="b" d="M445.6,987.1l14.8,14.8m0-14.8l-14.8,14.8"/><path class="c" d="M445.6,987.1l14.8,14.8m0-14.8l-14.8,14.8"/>
<path class="b" d="M516.6,1043.1l14.8,14.8m0-14.8l-14.8,14.8"/><path class="c" d="M516.6,1043.1l14.8,14.8m0-14.8l-14.8,14.8"/>
<path class="b" d="M418.6,990.1l14.8,14.8m0-14.8l-14.8,14.8"/><path class="c" d="M418.6,990.1l14.8,14.8m0-14.8l-14.8,14.8"/>
<path class="b" d="M437.6,1023.1l14.8,14.8m0-14.8l-14.8,14.8"/><path class="c" d="M437.6,1023.1l14.8,14.8m0-14.8l-14.8,14.8"/>
<path class="b" d="M564.6,1012.1l14.8,14.8m0-14.8l-14.8,14.8"/><path class="c" d="M564.6,1012.1l14.8,14.8m0-14.8l-14.8,14.8"/>
<path class="b" d="M395.6,942.1l14.8,14.8m0-14.8l-14.8,14.8"/><path class="c" d="M395.6,942.1l14.8,14.8m0-14.8l-14.8,14.8"/>
<path class="b" d="M429.6,1022.1l14.8,14.8m0-14.8l-14.8,14.8"/><path class="c" d="M429.6,1022.1l14.8,14.8m0-14.8l-14.8,14.8"/>
<path class="b" d="M513.6,1045.1l14.8,14.8m0-14.8l-14.8,14.8"/><path class="c" d="M513.6,1045.1l14.8,14.8m0-14.8l-14.8,14.8"/>
<path class="b" d="M430.6,995.1l14.8,14.8m0-14.8l-14.8,14.8"/><path class="c" d="M430.6,995.1l14.8,14.8m0-14.8l-14.8,14.8"/>
<path class="b" d="M407.6,949.1l14.8,14.8m0-14.8l-14.8,14.8"/><path class="c" d="M407.6,949.1l14.8,14.8m0-14.8l-14.8,14.8"/>
<path class="b" d="M319.6,934.1l14.8,14.8m0-14.8l-14.8,14.8"/><path class="c" d="M319.6,934.1l14.8,14.8m0-14.8l-14.8,14.8"/>
<path class="b" d="M419.6,1103.1l14.8,14.8m0-14.8l-14.8,14.8"/><path class="c" d="M419.6,1103.1l14.8,14.8m0-14.8l-14.8,14.8"/>
<path class="b" d="M589.6,1094.1l14.8,14.8m0-14.8l-14.8,14.8"/><path class="c" d="M589.6,1094.1l14.8,14.8m0-14.8l-14.8,14.8"/>
<path class="b" d="M360.6,955.1l14.8,14.8m0-14.8l-14.8,14.8"/><path class="c" d="M360.6,955.1l14.8,14.8m0-14.8l-14.8,14.8"/>
<path class="b" d="M609.6,1023.1l14.8,14.8m0-14.8l-14.8,14.8"/><path class="c" d="M609.6,1023.1l14.8,14.8m0-14.8l-14.8,14.8"/>
<path class="b" d="M475.6,1025.1l14.8,14.8m0-14.8l-14.8,14.8"/><path class="c" d="M475.6,1025.1l14.8,14.8m0-14.8l-14.8,14.8"/>
<path class="b" d="M437.6,1117.1l14.8,14.8m0-14.8l-14.8,14.8"/><path class="c" d="M437.6,1117.1l14.8,14.8m0-14.8l-14.8,14.8"/>
<path class="b" d="M434.6,987.1l14.8,14.8m0-14.8l-14.8,14.8"/><path class="c" d="M434.6,987.1l14.8,14.8m0-14.8l-14.8,14.8"/>
<path class="b" d="M393.6,1054.1l14.8,14.8m0-14.8l-14.8,14.8"/><path class="c" d="M393.6,1054.1l14.8,14.8m0-14.8l-14.8,14.8"/>
<path class="b" d="M391.6,986.1l14.8,14.8m0-14.8l-14.8,14.8"/><path class="c" d="M391.6,986.1l14.8,14.8m0-14.8l-14.8,14.8"/>
<path class="b" d="M448.6,1171.1l14.8,14.8m0-14.8l-14.8,14.8"/><path class="c" d="M448.6,1171.1l14.8,14.8m0-14.8l-14.8,14.8"/>
<path class="b" d="M479.6,1108.1l14.8,14.8m0-14.8l-14.8,14.8"/><path class="c" d="M479.6,1108.1l14.8,14.8m0-14.8l-14.8,14.8"/>
<path class="b" d="M420.6,1003.1l14.8,14.8m0-14.8l-14.8,14.8"/><path class="c" d="M420.6,1003.1l14.8,14.8m0-14.8l-14.8,14.8"/>
<path class="b" d="M488.6,1024.1l14.8,14.8m0-14.8l-14.8,14.8"/><path class="c" d="M488.6,1024.1l14.8,14.8m0-14.8l-14.8,14.8"/>
<path class="b" d="M519.6,1007.1l14.8,14.8m0-14.8l-14.8,14.8"/><path class="c" d="M519.6,1007.1l14.8,14.8m0-14.8l-14.8,14.8"/>
<path class="b" d="M599.6,1061.1l14.8,14.8m0-14.8l-14.8,14.8"/><path class="c" d="M599.6,1061.1l14.8,14.8m0-14.8l-14.8,14.8"/>
<path class="b" d="M415.6,974.1l14.8,14.8m0-14.8l-14.8,14.8"/><path class="c" d="M415.6,974.1l14.8,14.8m0-14.8l-14.8,14.8"/>
<path class="b" d="M466.6,1157.1l14.8,14.8m0-14.8l-14.8,14.8"/><path class="c" d="M466.6,1157.1l14.8,14.8m0-14.8l-14.8,14.8"/>
<path class="b" d="M362.6,1021.1l14.8,14.8m0-14.8l-14.8,14.8"/><path class="c" d="M362.6,1021.1l14.8,14.8m0-14.8l-14.8,14.8"/>
<path class="b" d="M475.6,1019.1l14.8,14.8m0-14.8l-14.8,14.8"/><path class="c" d="M475.6,1019.1l14.8,14.8m0-14.8l-14.8,14.8"/>
<path class="b" d="M397.6,1057.1l14.8,14.8m0-14.8l-14.8,14.8"/><path class="c" d="M397.6,1057.1l14.8,14.8m0-14.8l-14.8,14.8"/>
<path class="b" d="M384.6,969.1l14.8,14.8m0-14.8l-14.8,14.8"/><path class="c" d="M384.6,969.1l14.8,14.8m0-14.8l-14.8,14.8"/>
<path class="b" d="M557.6,991.1l14.8,14.8m0-14.8l-14.8,14.8"/><path class="c" d="M557.6,991.1l14.8,14.8m0-14.8l-14.8,14.8"/>
<path class="b" d="M527.6,1018.1l14.8,14.8m0-14.8l-14.8,14.8"/><path class="c" d="M527.6,1018.1l14.8,14.8m0-14.8l-14.8,14.8"/>
<path class="b" d="M379.6,1084.1l14.8,14.8m0-14.8l-14.8,14.8"/><path class="c" d="M379.6,1084.1l14.8,14.8m0-14.8l-14.8,14.8"/>
<path class="b" d="M487.6,1096.1l14.8,14.8m0-14.8l-14.8,14.8"/><path class="c" d="M487.6,1096.1l14.8,14.8m0-14.8l-14.8,14.8"/>
<path class="b" d="M372.6,982.1l14.8,14.8m0-14.8l-14.8,14.8"/><path class="c" d="M372.6,982.1l14.8,14.8m0-14.8l-14.8,14.8"/>
<path class="b" d="M520.6,1069.1l14.8,14.8m0-14.8l-14.8,14.8"/><path class="c" d="M520.6,1069.1l14.8,14.8m0-14.8l-14.8,14.8"/>
<path class="b" d="M452.6,986.1l14.8,14.8m0-14.8l-14.8,14.8"/><path class="c" d="M452.6,986.1l14.8,14.8m0-14.8l-14.8,14.8"/>
<path class="b" d="M415.6,971.1l14.8,14.8m0-14.8l-14.8,14.8"/><path class="c" d="M415.6,971.1l14.8,14.8m0-14.8l-14.8,14.8"/>
<path class="b" d="M522.6,999.1l14.8,14.8m0-14.8l-14.8,14.8"/><path class="c" d="M522.6,999.1l14.8,14.8m0-14.8l-14.8,14.8"/>
<path class="b" d="M598.6,1050.1l14.8,14.8m0-14.8l-14.8,14.8"/><path class="c" d="M598.6,1050.1l14.8,14.8m0-14.8l-14.8,14.8"/>
<path class="b" d="M665.6,1038.1l14.8,14.8m0-14.8l-14.8,14.8"/><path class="c" d="M665.6,1038.1l14.8,14.8m0-14.8l-14.8,14.8"/>
<path class="b" d="M470.6,986.1l14.8,14.8m0-14.8l-14.8,14.8"/><path class="c" d="M470.6,986.1l14.8,14.8m0-14.8l-14.8,14.8"/>
<path class="b" d="M638.6,1049.1l14.8,14.8m0-14.8l-14.8,14.8"/><path class="c" d="M638.6,1049.1l14.8,14.8m0-14.8l-14.8,14.8"/>
<path class="b" d="M473.6,1146.1l14.8,14.8m0-14.8l-14.8,14.8"/><path class="c" d="M473.6,1146.1l14.8,14.8m0-14.8l-14.8,14.8"/>
<path class="b" d="M361.6,973.1l14.8,14.8m0-14.8l-14.8,14.8"/><path class="c" d="M361.6,973.1l14.8,14.8m0-14.8l-14.8,14.8"/>
<path class="b" d="M550.6,1067.1l14.8,14.8m0-14.8l-14.8,14.8"/><path class="c" d="M550.6,1067.1l14.8,14.8m0-14.8l-14.8,14.8"/>
<path class="b" d="M560.6,1040.1l14.8,14.8m0-14.8l-14.8,14.8"/><path class="c" d="M560.6,1040.1l14.8,14.8m0-14.8l-14.8,14.8"/>
<path class="b" d="M422.6,986.1l14.8,14.8m0-14.8l-14.8,14.8"/><path class="c" d="M422.6,986.1l14.8,14.8m0-14.8l-14.8,14.8"/>
<path class="b" d="M391.6,1061.1l14.8,14.8m0-14.8l-14.8,14.8"/><path class="c" d="M391.6,1061.1l14.8,14.8m0-14.8l-14.8,14.8"/>
<path class="b" d="M402.6,1004.1l14.8,14.8m0-14.8l-14.8,14.8"/><path class="c" d="M402.6,1004.1l14.8,14.8m0-14.8l-14.8,14.8"/>
<path class="b" d="M359.6,913.1l14.8,14.8m0-14.8l-14.8,14.8"/><path class="c" d="M359.6,913.1l14.8,14.8m0-14.8l-14.8,14.8"/>
<path class="b" d="M440.6,947.1l14.8,14.8m0-14.8l-14.8,14.8"/><path class="c" d="M440.6,947.1l14.8,14.8m0-14.8l-14.8,14.8"/>
<path class="b" d="M476.6,1142.1l14.8,14.8m0-14.8l-14.8,14.8"/><path class="c" d="M476.6,1142.1l14.8,14.8m0-14.8l-14.8,14.8"/>
<path class="b" d="M318.6,934.1l14.8,14.8m0-14.8l-14.8,14.8"/><path class="c" d="M318.6,934.1l14.8,14.8m0-14.8l-14.8,14.8"/>
<path class="b" d="M531.6,1033.1l14.8,14.8m0-14.8l-14.8,14.8"/><path class="c" d="M531.6,1033.1l14.8,14.8m0-14.8l-14.8,14.8"/>
<path class="b" d="M507.6,1148.1l14.8,14.8m0-14.8l-14.8,14.8"/><path class="c" d="M507.6,1148.1l14.8,14.8m0-14.8l-14.8,14.8"/>
<path class="b" d="M417.6,929.1l14.8,14.8m0-14.8l-14.8,14.8"/><path class="c" d="M417.6,929.1l14.8,14.8m0-14.8l-14.8,14.8"/>
<path class="b" d="M419.6,1139.1l14.8,14.8m0-14.8l-14.8,14.8"/><path class="c" d="M419.6,1139.1l14.8,14.8m0-14.8l-14.8,14.8"/>
<path class="b" d="M397.6,950.1l14.8,14.8m0-14.8l-14.8,14.8"/><path class="c" d="M397.6,950.1l14.8,14.8m0-14.8l-14.8,14.8"/>
<path class="b" d="M491.6,1088.1l14.8,14.8m0-14.8l-14.8,14.8"/><path class="c" d="M491.6,1088.1l14.8,14.8m0-14.8l-14.8,14.8"/>
<path class="b" d="M345.6,1101.1l14.8,14.8m0-14.8l-14.8,14.8"/><path class="c" d="M345.6,1101.1l14.8,14.8m0-14.8l-14.8,14.8"/>
<path class="b" d="M374.6,1036.1l14.8,14.8m0-14.8l-14.8,14.8"/><path class="c" d="M374.6,1036.1l14.8,14.8m0-14.8l-14.8,14.8"/>
<path class="b" d="M318.6,960.1l14.8,14.8m0-14.8l-14.8,14.8"/><path class="c" d="M318.6,960.1l14.8,14.8m0-14.8l-14.8,14.8"/>
<path class="b" d="M614.6,1025.1l14.8,14.8m0-14.8l-14.8,14.8"/><path class="c" d="M614.6,1025.1l14.8,14.8m0-14.8l-14.8,14.8"/>
<path class="b" d="M380.6,993.1l14.8,14.8m0-14.8l-14.8,14.8"/><path class="c" d="M380.6,993.1l14.8,14.8m0-14.8l-14.8,14.8"/>
<path class="b" d="M549.6,1103.1l14.8,14.8m0-14.8l-14.8,14.8"/><path class="c" d="M549.6,1103.1l14.8,14.8m0-14.8l-14.8,14.8"/>
<path class="b" d="M407.6,1110.1l14.8,14.8m0-14.8l-14.8,14.8"/><path class="c" d="M407.6,1110.1l14.8,14.8m0-14.8l-14.8,14.8"/>
<path class="b" d="M534.6,987.1l14.8,14.8m0-14.8l-14.8,14.8"/><path class="c" d="M534.6,987.1l14.8,14.8m0-14.8l-14.8,14.8"/>
<path class="b" d="M479.6,1037.1l14.8,14.8m0-14.8l-14.8,14.8"/><path class="c" d="M479.6,1037.1l14.8,14.8m0-14.8l-14.8,14.8"/>
<path class="b" d="M540.6,1035.1l14.8,14.8m0-14.8l-14.8,14.8"/><path class="c" d="M540.6,1035.1l14.8,14.8m0-14.8l-14.8,14.8"/>
<path class="b" d="M389.6,1095.1l14.8,14.8m0-14.8l-14.8,14.8"/><path class="c" d="M389.6,1095.1l14.8,14.8m0-14.8l-14.8,14.8"/>
<path class="b" d="M496.6,1122.1l14.8,14.8m0-14.8l-14.8,14.8"/><path class="c" d="M496.6,1122.1l14.8,14.8m0-14.8l-14.8,14.8"/>
<path class="b" d="M398.6,1072.1l14.8,14.8m0-14.8l-14.8,14.8"/><path class="c" d="M398.6,1072.1l14.8,14.8m0-14.8l-14.8,14.8"/>
<path class="b" d="M376.6,999.1l14.8,14.8m0-14.8l-14.8,14.8"/><path class="c" d="M376.6,999.1l14.8,14.8m0-14.8l-14.8,14.8"/>
<path class="b" d="M289.6,971.1l14.8,14.8m0-14.8l-14.8,14.8"/><path class="c" d="M289.6,971.1l14.8,14.8m0-14.8l-14.8,14.8"/>
<path class="b" d="M426.6,1041.1l14.8,14.8m0-14.8l-14.8,14.8"/><path class="c" d="M426.6,1041.1l14.8,14.8m0-14.8l-14.8,14.8"/>
<path class="b" d="M601.6,1011.1l14.8,14.8m0-14.8l-14.8,14.8"/><path class="c" d="M601.6,1011.1l14.8,14.8m0-14.8l-14.8,14.8"/>
<path class="b" d="M395.6,1119.1l14.8,14.8m0-14.8l-14.8,14.8"/><path class="c" d="M395.6,1119.1l14.8,14.8m0-14.8l-14.8,14.8"/>
<path class="b" d="M413.6,1161.1l14.8,14.8m0-14.8l-14.8,14.8"/><path class="c" d="M413.6,1161.1l14.8,14.8m0-14.8l-14.8,14.8"/>
<path class="b" d="M487.6,1074.1l14.8,14.8m0-14.8l-14.8,14.8"/><path class="c" d="M487.6,1074.1l14.8,14.8m0-14.8l-14.8,14.8"/>
<path class="b" d="M427.6,992.1l14.8,14.8m0-14.8l-14.8,14.8"/><path class="c" d="M427.6,992.1l14.8,14.8m0-14.8l-14.8,14.8"/>
<path class="b" d="M448.6,1039.1l14.8,14.8m0-14.8l-14.8,14.8"/><path class="c" d="M448.6,1039.1l14.8,14.8m0-14.8l-14.8,14.8"/>
<path class="b" d="M498.6,1033.1l14.8,14.8m0-14.8l-14.8,14.8"/><path class="c" d="M498.6,1033.1l14.8,14.8m0-14.8l-14.8,14.8"/>
<path class="b" d="M463.6,1114.1l14.8,14.8m0-14.8l-14.8,14.8"/><path class="c" d="M463.6,1114.1l14.8,14.8m0-14.8l-14.8,14.8"/>
<path class="b" d="M375.6,1051.1l14.8,14.8m0-14.8l-14.8,14.8"/><path class="c" d="M375.6,1051.1l14.8,14.8m0-14.8l-14.8,14.8"/>
<path class="b" d="M423.6,1060.1l14.8,14.8m0-14.8l-14.8,14.8"/><path class="c" d="M423.6,1060.1l14.8,14.8m0-14.8l-14.8,14.8"/>
<path class="b" d="M387.6,958.1l14.8,14.8m0-14.8l-14.8,14.8"/><path class="c" d="M387.6,958.1l14.8,14.8m0-14.8l-14.8,14.8"/>
<path class="b" d="M425.6,1003.1l14.8,14.8m0-14.8l-14.8,14.8"/><path class="c" d="M425.6,1003.1l14.8,14.8m0-14.8l-14.8,14.8"/>
<path class="b" d="M637.6,1040.1l14.8,14.8m0-14.8l-14.8,14.8"/><path class="c" d="M637.6,1040.1l14.8,14.8m0-14.8l-14.8,14.8"/>
<path class="b" d="M411.6,1117.1l14.8,14.8m0-14.8l-14.8,14.8"/><path class="c" d="M411.6,1117.1l14.8,14.8m0-14.8l-14.8,14.8"/>
<path class="b" d="M428.6,1021.1l14.8,14.8m0-14.8l-14.8,14.8"/><path class="c" d="M428.6,1021.1l14.8,14.8m0-14.8l-14.8,14.8"/>
<path class="b" d="M554.6,991.1l14.8,14.8m0-14.8l-14.8,14.8"/><path class="c" d="M554.6,991.1l14.8,14.8m0-14.8l-14.8,14.8"/>
<path class="b" d="M433.6,1016.1l14.8,14.8m0-14.8l-14.8,14.8"/><path class="c" d="M433.6,1016.1l14.8,14.8m0-14.8l-14.8,14.8"/>
<path class="b" d="M398.6,1069.1l14.8,14.8m0-14.8l-14.8,14.8"/><path class="c" d="M398.6,1069.1l14.8,14.8m0-14.8l-14.8,14.8"/>
<path class="b" d="M501.6,1148.1l14.8,14.8m0-14.8l-14.8,14.8"/><path class="c" d="M501.6,1148.1l14.8,14.8m0-14.8l-14.8,14.8"/>
<path class="b" d="M590.6,1083.1l14.8,14.8m0-14.8l-14.8,14.8"/><path class="c" d="M590.6,1083.1l14.8,14.8m0-14.8l-14.8,14.8"/>
<path class="b" d="M533.6,1024.1l14.8,14.8m0-14.8l-14.8,14.8"/><path class="c" d="M533.6,1024.1l14.8,14.8m0-14.8l-14.8,14.8"/>
<path class="b" d="M493.6,974.1l14.8,14.8m0-14.8l-14.8,14.8"/><path class="c" d="M493.6,974.1l14.8,14.8m0-14.8l-14.8,14.8"/>
<path class="b" d="M597.6,1044.1l14.8,14.8m0-14.8l-14.8,14.8"/><path class="c" d="M597.6,1044.1l14.8,14.8m0-14.8l-14.8,14.8"/>
<path class="b" d="M448.6,1022.1l14.8,14.8m0-14.8l-14.8,14.8"/><path class="c" d="M448.6,1022.1l14.8,14.8m0-14.8l-14.8,14.8"/>
<path class="b" d="M425.6,961.1l14.8,14.8m0-14.8l-14.8,14.8"/><path class="c" d="M425.6,961.1l14.8,14.8m0-14.8l-14.8,14.8"/>
<path class="b" d="M425.6,996.1l14.8,14.8m0-14.8l-14.8,14.8"/><path class="c" d="M425.6,996.1l14.8,14.8m0-14.8l-14.8,14.8"/>
<path class="b" d="M422.6,988.1l14.8,14.8m0-14.8l-14.8,14.8"/><path class="c" d="M422.6,988.1l14.8,14.8m0-14.8l-14.8,14.8"/>
<path class="b" d="M459.6,1045.1l14.8,14.8m0-14.8l-14.8,14.8"/><path class="c" d="M459.6,1045.1l14.8,14.8m0-14.8l-14.8,14.8"/>
<path class="b" d="M398.6,981.1l14.8,14.8m0-14.8l-14.8,14.8"/><path class="c" d="M398.6,981.1l14.8,14.8m0-14.8l-14.8,14.8"/>
<path class="b" d="M415.6,1054.1l14.8,14.8m0-14.8l-14.8,14.8"/><path class="c" d="M415.6,1054.1l14.8,14.8m0-14.8l-14.8,14.8"/>
<path class="b" d="M488.6,1103.1l14.8,14.8m0-14.8l-14.8,14.8"/><path class="c" d="M488.6,1103.1l14.8,14.8m0-14.8l-14.8,14.8"/>
<path class="b" d="M427.6,1140.1l14.8,14.8m0-14.8l-14.8,14.8"/><path class="c" d="M427.6,1140.1l14.8,14.8m0-14.8l-14.8,14.8"/>
<path class="b" d="M453.6,1044.1l14.8,14.8m0-14.8l-14.8,14.8"/><path class="c" d="M453.6,1044.1l14.8,14.8m0-14.8l-14.8,14.8"/>
<path class="b" d="M448.6,1075.1l14.8,14.8m0-14.8l-14.8,14.8"/><path class="c" d="M448.6,1075.1l14.8,14.8m0-14.8l-14.8,14.8"/>
<path class="b" d="M317.6,928.1l14.8,14.8m0-14.8l-14.8,14.8"/><path class="c" d="M317.6,928.1l14.8,14.8m0-14.8l-14.8,14.8"/>
<path class="b" d="M412.6,924.1l14.8,14.8m0-14.8l-14.8,14.8"/><path class="c" d="M412.6,924.1l14.8,14.8m0-14.8l-14.8,14.8"/>
<path class="b" d="M415.6,1086.1l14.8,14.8m0-14.8l-14.8,14.8"/><path class="c" d="M415.6,1086.1l14.8,14.8m0-14.8l-14.8,14.8"/>
<path class="b" d="M388.6,1122.1l14.8,14.8m0-14.8l-14.8,14.8"/><path class="c" d="M388.6,1122.1l14.8,14.8m0-14.8l-14.8,14.8"/>
<path class="b" d="M434.6,1049.1l14.8,14.8m0-14.8l-14.8,14.8"/><path class="c" d="M434.6,1049.1l14.8,14.8m0-14.8l-14.8,14.8"/>
<path class="b" d="M536.6,1032.1l14.8,14.8m0-14.8l-14.8,14.8"/><path class="c" d="M536.6,1032.1l14.8,14.8m0-14.8l-14.8,14.8"/>
<path class="b" d="M476.6,1030.1l14.8,14.8m0-14.8l-14.8,14.8"/><path class="c" d="M476.6,1030.1l14.8,14.8m0-14.8l-14.8,14.8"/>
<path class="b" d="M465.6,981.1l14.8,14.8m0-14.8l-14.8,14.8"/><path class="c" d="M465.6,981.1l14.8,14.8m0-14.8l-14.8,14.8"/>
<path class="b" d="M464.6,1031.1l14.8,14.8m0-14.8l-14.8,14.8"/><path class="c" d="M464.6,1031.1l14.8,14.8m0-14.8l-14.8,14.8"/>
<path class="b" d="M377.6,1101.1l14.8,14.8m0-14.8l-14.8,14.8"/><path class="c" d="M377.6,1101.1l14.8,14.8m0-14.8l-14.8,14.8"/>
<path class="b" d="M513.6,985.1l14.8,14.8m0-14.8l-14.8,14.8"/><path class="c" d="M513.6,985.1l14.8,14.8m0-14.8l-14.8,14.8"/>
<path class="b" d="M508.6,981.1l14.8,14.8m0-14.8l-14.8,14.8"/><path class="c" d="M508.6,981.1l14.8,14.8m0-14.8l-14.8,14.8"/>
<path class="b" d="M431.6,1137.1l14.8,14.8m0-14.8l-14.8,14.8"/><path class="c" d="M431.6,1137.1l14.8,14.8m0-14.8l-14.8,14.8"/>
<path class="b" d="M435.6,979.1l14.8,14.8m0-14.8l-14.8,14.8"/><path class="c" d="M435.6,979.1l14.8,14.8m0-14.8l-14.8,14.8"/>
<path class="b" d="M461.6,974.1l14.8,14.8m0-14.8l-14.8,14.8"/><path class="c" d="M461.6,974.1l14.8,14.8m0-14.8l-14.8,14.8"/>
<path class="b" d="M391.6,1153.1l14.8,14.8m0-14.8l-14.8,14.8"/><path class="c" d="M391.6,1153.1l14.8,14.8m0-14.8l-14.8,14.8"/>
<path class="b" d="M542.6,996.1l14.8,14.8m0-14.8l-14.8,14.8"/><path class="c" d="M542.6,996.1l14.8,14.8m0-14.8l-14.8,14.8"/>
<path class="b" d="M375.6,986.1l14.8,14.8m0-14.8l-14.8,14.8"/><path class="c" d="M375.6,986.1l14.8,14.8m0-14.8l-14.8,14.8"/>
<path class="b" d="M566.6,1006.1l14.8,14.8m0-14.8l-14.8,14.8"/><path class="c" d="M566.6,1006.1l14.8,14.8m0-14.8l-14.8,14.8"/>
<path class="b" d="M384.6,1131.1l14.8,14.8m0-14.8l-14.8,14.8"/><path class="c" d="M384.6,1131.1l14.8,14.8m0-14.8l-14.8,14.8"/>
<path class="b" d="M290.6,1016.1l14.8,14.8m0-14.8l-14.8,14.8"/><path class="c" d="M290.6,1016.1l14.8,14.8m0-14.8l-14.8,14.8"/>
<path class="b" d="M428.6,1139.1l14.8,14.8m0-14.8l-14.8,14.8"/><path class="c" d="M428.6,1139.1l14.8,14.8m0-14.8l-14.8,14.8"/>
<path class="b" d="M464.6,1088.1l14.8,14.8m0-14.8l-14.8,14.8"/><path class="c" d="M464.6,1088.1l14.8,14.8m0-14.8l-14.8,14.8"/>
<path class="b" d="M461.6,966.1l14.8,14.8m0-14.8l-14.8,14.8"/><path class="c" d="M461.6,966.1l14.8,14.8m0-14.8l-14.8,14.8"/>
<path class="b" d="M564.6,1013.1l14.8,14.8m0-14.8l-14.8,14.8"/><path class="c" d="M564.6,1013.1l14.8,14.8m0-14.8l-14.8,14.8"/>
<path class="b" d="M418.6,1179.1l14.8,14.8m0-14.8l-14.8,14.8"/><path class="c" d="M418.6,1179.1l14.8,14.8m0-14.8l-14.8,14.8"/>
<path class="b" d="M452.6,971.1l14.8,14.8m0-14.8l-14.8,14.8"/><path class="c" d="M452.6,971.1l14.8,14.8m0-14.8l-14.8,14.8"/>
<path class="b" d="M575.6,1029.1l14.8,14.8m0-14.8l-14.8,14.8"/><path class="c" d="M575.6,1029.1l14.8,14.8m0-14.8l-14.8,14.8"/>
<path class="b" d="M578.6,1077.1l14.8,14.8m0-14.8l-14.8,14.8"/><path class="c" d="M578.6,1077.1l14.8,14.8m0-14.8l-14.8,14.8"/>
<path class="b" d="M423.6,1038.1l14.8,14.8m0-14.8l-14.8,14.8"/><path class="c" d="M423.6,1038.1l14.8,14.8m0-14.8l-14.8,14.8"/>
<path class="b" d="M402.6,964.1l14.8,14.8m0-14.8l-14.8,14.8"/><path class="c" d="M402.6,964.1l14.8,14.8m0-14.8l-14.8,14.8"/>
<path class="b" d="M434.6,876.1l14.8,14.8m0-14.8l-14.8,14.8"/><path class="c" d="M434.6,876.1l14.8,14.8m0-14.8l-14.8,14.8"/>
<path class="b" d="M413.6,1177.1l14.8,14.8m0-14.8l-14.8,14.8"/><path class="c" d="M413.6,1177.1l14.8,14.8m0-14.8l-14.8,14.8"/>
<path class="b" d="M389.6,1031.1l14.8,14.8m0-14.8l-14.8,14.8"/><path class="c" d="M389.6,1031.1l14.8,14.8m0-14.8l-14.8,14.8"/>
<path class="b" d="M423.6,1151.1l14.8,14.8m0-14.8l-14.8,14.8"/><path class="c" d="M423.6,1151.1l14.8,14.8m0-14.8l-14.8,14.8"/>
<path class="b" d="M443.6,1071.1l14.8,14.8m0-14.8l-14.8,14.8"/><path class="c" d="M443.6,1071.1l14.8,14.8m0-14.8l-14.8,14.8"/>
<path class="b" d="M549.6,1097.1l14.8,14.8m0-14.8l-14.8,14.8"/><path class="c" d="M549.6,1097.1l14.8,14.8m0-14.8l-14.8,14.8"/>
<path class="b" d="M435.6,1027.1l14.8,14.8m0-14.8l-14.8,14.8"/><path class="c" d="M435.6,1027.1l14.8,14.8m0-14.8l-14.8,14.8"/>
<path class="b" d="M523.6,1026.1l14.8,14.8m0-14.8l-14.8,14.8"/><path class="c" d="M523.6,1026.1l14.8,14.8m0-14.8l-14.8,14.8"/>
<path class="b" d="M503.6,977.1l14.8,14.8m0-14.8l-14.8,14.8"/><path class="c" d="M503.6,977.1l14.8,14.8m0-14.8l-14.8,14.8"/>
<path class="b" d="M468.6,1098.1l14.8,14.8m0-14.8l-14.8,14.8"/><path class="c" d="M468.6,1098.1l14.8,14.8m0-14.8l-14.8,14.8"/>
<path class="b" d="M516.6,1023.1l14.8,14.8m0-14.8l-14.8,14.8"/><path class="c" d="M516.6,1023.1l14.8,14.8m0-14.8l-14.8,14.8"/>
<path class="b" d="M497.6,1163.1l14.8,14.8m0-14.8l-14.8,14.8"/><path class="c" d="M497.6,1163.1l14.8,14.8m0-14.8l-14.8,14.8"/>
<path class="b" d="M591.6,1016.1l14.8,14.8m0-14.8l-14.8,14.8"/><path class="c" d="M591.6,1016.1l14.8,14.8m0-14.8l-14.8,14.8"/>
<path class="b" d="M454.6,1065.1l14.8,14.8m0-14.8l-14.8,14.8"/><path class="c" d="M454.6,1065.1l14.8,14.8m0-14.8l-14.8,14.8"/>
<path class="b" d="M404.6,1131.1l14.8,14.8m0-14.8l-14.8,14.8"/><path class="c" d="M404.6,1131.1l14.8,14.8m0-14.8l-14.8,14.8"/>
<path class="b" d="M563.6,1034.1l14.8,14.8m0-14.8l-14.8,14.8"/><path class="c" d="M563.6,1034.1l14.8,14.8m0-14.8l-14.8,14.8"/>
<path class="b" d="M601.6,1017.1l14.8,14.8m0-14.8l-14.8,14.8"/><path class="c" d="M601.6,1017.1l14.8,14.8m0-14.8l-14.8,14.8"/>
<path class="b" d="M500.6,982.1l14.8,14.8m0-14.8l-14.8,14.8"/><path class="c" d="M500.6,982.1l14.8,14.8m0-14.8l-14.8,14.8"/>
<path class="b" d="M439.6,971.1l14.8,14.8m0-14.8l-14.8,14.8"/><path class="c" d="M439.6,971.1l14.8,14.8m0-14.8l-14.8,14.8"/>
<path class="b" d="M378.6,965.1l14.8,14.8m0-14.8l-14.8,14.8"/><path class="c" d="M378.6,965.1l14.8,14.8m0-14.8l-14.8,14.8"/>
<path class="b" d="M526.6,1024.1l14.8,14.8m0-14.8l-14.8,14.8"/><path class="c" d="M526.6,1024.1l14.8,14.8m0-14.8l-14.8,14.8"/>
<path class="b" d="M509.6,1021.1l14.8,14.8m0-14.8l-14.8,14.8"/><path class="c" d="M509.6,1021.1l14.8,14.8m0-14.8l-14.8,14.8"/>
<path class="b" d="M739.6,1049.1l14.8,14.8m0-14.8l-14.8,14.8"/><path class="c" d="M739.6,1049.1l14.8,14.8m0-14.8l-14.8,14.8"/>
<path class="b" d="M528.6,1027.1l14.8,14.8m0-14.8l-14.8,14.8"/><path class="c" d="M528.6,1027.1l14.8,14.8m0-14.8l-14.8,14.8"/>
<path class="b" d="M404.6,1158.1l14.8,14.8m0-14.8l-14.8,14.8"/><path class="c" d="M404.6,1158.1l14.8,14.8m0-14.8l-14.8,14.8"/>
<path class="b" d="M380.6,1003.1l14.8,14.8m0-14.8l-14.8,14.8"/><path class="c" d="M380.6,1003.1l14.8,14.8m0-14.8l-14.8,14.8"/>
<path class="b" d="M523.6,1049.1l14.8,14.8m0-14.8l-14.8,14.8"/><path class="c" d="M523.6,1049.1l14.8,14.8m0-14.8l-14.8,14.8"/>
<path class="b" d="M402.6,1124.1l14.8,14.8m0-14.8l-14.8,14.8"/><path class="c" d="M402.6,1124.1l14.8,14.8m0-14.8l-14.8,14.8"/>
<path class="b" d="M513.6,1056.1l14.8,14.8m0-14.8l-14.8,14.8"/><path class="c" d="M513.6,1056.1l14.8,14.8m0-14.8l-14.8,14.8"/>
<path class="b" d="M495.6,1103.1l14.8,14.8m0-14.8l-14.8,14.8"/><path class="c" d="M495.6,1103.1l14.8,14.8m0-14.8l-14.8,14.8"/>
<path class="b" d="M741.6,1035.1l14.8,14.8m0-14.8l-14.8,14.8"/><path class="c" d="M741.6,1035.1l14.8,14.8m0-14.8l-14.8,14.8"/>
<path class="b" d="M573.6,1037.1l14.8,14.8m0-14.8l-14.8,14.8"/><path class="c" d="M573.6,1037.1l14.8,14.8m0-14.8l-14.8,14.8"/>
<path class="b" d="M698.6,1051.1l14.8,14.8m0-14.8l-14.8,14.8"/><path class="c" d="M698.6,1051.1l14.8,14.8m0-14.8l-14.8,14.8"/>
<path class="b" d="M523.6,1063.1l14.8,14.8m0-14.8l-14.8,14.8"/><path class="c" d="M523.6,1063.1l14.8,14.8m0-14.8l-14.8,14.8"/>
<path class="b" d="M458.6,1064.1l14.8,14.8m0-14.8l-14.8,14.8"/><path class="c" d="M458.6,1064.1l14.8,14.8m0-14.8l-14.8,14.8"/>
<path class="b" d="M424.6,985.1l14.8,14.8m0-14.8l-14.8,14.8"/><path class="c" d="M424.6,985.1l14.8,14.8m0-14.8l-14.8,14.8"/>
<path class="b" d="M481.6,1065.1l14.8,14.8m0-14.8l-14.8,14.8"/><path class="c" d="M481.6,1065.1l14.8,14.8m0-14.8l-14.8,14.8"/>
<path class="b" d="M600.6,1057.1l14.8,14.8m0-14.8l-14.8,14.8"/><path class="c" d="M600.6,1057.1l14.8,14.8m0-14.8l-14.8,14.8"/>
<path class="b" d="M508.6,978.1l14.8,14.8m0-14.8l-14.8,14.8"/><path class="c" d="M508.6,978.1l14.8,14.8m0-14.8l-14.8,14.8"/>
<path class="b" d="M425.6,1036.1l14.8,14.8m0-14.8l-14.8,14.8"/><path class="c" d="M425.6,1036.1l14.8,14.8m0-14.8l-14.8,14.8"/>
<path class="b" d="M405.6,1061.1l14.8,14.8m0-14.8l-14.8,14.8"/><path class="c" d="M405.6,1061.1l14.8,14.8m0-14.8l-14.8,14.8"/>
<path class="b" d="M416.6,966.1l14.8,14.8m0-14.8l-14.8,14.8"/><path class="c" d="M416.6,966.1l14.8,14.8m0-14.8l-14.8,14.8"/>
<path class="b" d="M450.6,1035.1l14.8,14.8m0-14.8l-14.8,14.8"/><path class="c" d="M450.6,1035.1l14.8,14.8m0-14.8l-14.8,14.8"/>
<path class="b" d="M320.6,932.1l14.8,14.8m0-14.8l-14.8,14.8"/><path class="c" d="M320.6,932.1l14.8,14.8m0-14.8l-14.8,14.8"/>
<path class="b" d="M472.6,995.1l14.8,14.8m0-14.8l-14.8,14.8"/><path class="c" d="M472.6,995.1l14.8,14.8m0-14.8l-14.8,14.8"/>
<path class="b" d="M639.6,1052.1l14.8,14.8m0-14.8l-14.8,14.8"/><path class="c" d="M639.6,1052.1l14.8,14.8m0-14.8l-14.8,14.8"/>
<path class="b" d="M422.6,1003.1l14.8,14.8m0-14.8l-14.8,14.8"/><path class="c" d="M422.6,1003.1l14.8,14.8m0-14.8l-14.8,14.8"/>
<path class="b" d="M622.6,1025.1l14.8,14.8m0-14.8l-14.8,14.8"/><path class="c" d="M622.6,1025.1l14.8,14.8m0-14.8l-14.8,14.8"/>
<path class="b" d="M678.6,1040.1l14.8,14.8m0-14.8l-14.8,14.8"/><path class="c" d="M678.6,1040.1l14.8,14.8m0-14.8l-14.8,14.8"/>
<path class="b" d="M396.6,971.1l14.8,14.8m0-14.8l-14.8,14.8"/><path class="c" d="M396.6,971.1l14.8,14.8m0-14.8l-14.8,14.8"/>
<path class="b" d="M360.6,1011.1l14.8,14.8m0-14.8l-14.8,14.8"/><path class="c" d="M360.6,1011.1l14.8,14.8m0-14.8l-14.8,14.8"/>
<path class="b" d="M397.6,1162.1l14.8,14.8m0-14.8l-14.8,14.8"/><path class="c" d="M397.6,1162.1l14.8,14.8m0-14.8l-14.8,14.8"/>
<path class="b" d="M466.6,1003.1l14.8,14.8m0-14.8l-14.8,14.8"/><path class="c" d="M466.6,1003.1l14.8,14.8m0-14.8l-14.8,14.8"/>
<path class="b" d="M510.6,1103.1l14.8,14.8m0-14.8l-14.8,14.8"/><path class="c" d="M510.6,1103.1l14.8,14.8m0-14.8l-14.8,14.8"/>
<path class="b" d="M407.6,999.1l14.8,14.8m0-14.8l-14.8,14.8"/><path class="c" d="M407.6,999.1l14.8,14.8m0-14.8l-14.8,14.8"/>
<path class="b" d="M444.6,1037.1l14.8,14.8m0-14.8l-14.8,14.8"/><path class="c" d="M444.6,1037.1l14.8,14.8m0-14.8l-14.8,14.8"/>
<path class="b" d="M411.6,1042.1l14.8,14.8m0-14.8l-14.8,14.8"/><path class="c" d="M411.6,1042.1l14.8,14.8m0-14.8l-14.8,14.8"/>
<path class="b" d="M325.6,1133.1l14.8,14.8m0-14.8l-14.8,14.8"/><path class="c" d="M325.6,1133.1l14.8,14.8m0-14.8l-14.8,14.8"/>
<path class="b" d="M447.6,976.1l14.8,14.8m0-14.8l-14.8,14.8"/><path class="c" d="M447.6,976.1l14.8,14.8m0-14.8l-14.8,14.8"/>
<path class="b" d="M438.6,1167.1l14.8,14.8m0-14.8l-14.8,14.8"/><path class="c" d="M438.6,1167.1l14.8,14.8m0-14.8l-14.8,14.8"/>
<path class="b" d="M378.6,1046.1l14.8,14.8m0-14.8l-14.8,14.8"/><path class="c" d="M378.6,1046.1l14.8,14.8m0-14.8l-14.8,14.8"/>
<path class="b" d="M460.6,1003.1l14.8,14.8m0-14.8l-14.8,14.8"/><path class="c" d="M460.6,1003.1l14.8,14.8m0-14.8l-14.8,14.8"/>
<path class="b" d="M581.6,1034.1l14.8,14.8m0-14.8l-14.8,14.8"/><path class="c" d="M581.6,1034.1l14.8,14.8m0-14.8l-14.8,14.8"/>
<path class="b" d="M402.6,1115.1l14.8,14.8m0-14.8l-14.8,14.8"/><path class="c" d="M402.6,1115.1l14.8,14.8m0-14.8l-14.8,14.8"/>
<path class="b" d="M366.6,1015.1l14.8,14.8m0-14.8l-14.8,14.8"/><path class="c" d="M366.6,1015.1l14.8,14.8m0-14.8l-14.8,14.8"/>
<path class="b" d="M374.6,1156.1l14.8,14.8m0-14.8l-14.8,14.8"/><path class="c" d="M374.6,1156.1l14.8,14.8m0-14.8l-14.8,14.8"/>
<path class="b" d="M414.6,1100.1l14.8,14.8m0-14.8l-14.8,14.8"/><path class="c" d="M414.6,1100.1l14.8,14.8m0-14.8l-14.8,14.8"/>
<path class="b" d="M483.6,1128.1l14.8,14.8m0-14.8l-14.8,14.8"/><path class="c" d="M483.6,1128.1l14.8,14.8m0-14.8l-14.8,14.8"/>
<path class="b" d="M512.6,1133.1l14.8,14.8m0-14.8l-14.8,14.8"/><path class="c" d="M512.6,1133.1l14.8,14.8m0-14.8l-14.8,14.8"/>
<path class="b" d="M525.6,982.1l14.8,14.8m0-14.8l-14.8,14.8"/><path class="c" d="M525.6,982.1l14.8,14.8m0-14.8l-14.8,14.8"/>
<path class="b" d="M445.6,1127.1l14.8,14.8m0-14.8l-14.8,14.8"/><path class="c" d="M445.6,1127.1l14.8,14.8m0-14.8l-14.8,14.8"/>
<path class="b" d="M408.6,981.1l14.8,14.8m0-14.8l-14.8,14.8"/><path class="c" d="M408.6,981.1l14.8,14.8m0-14.8l-14.8,14.8"/>
<path class="b" d="M377.6,996.1l14.8,14.8m0-14.8l-14.8,14.8"/><path class="c" d="M377.6,996.1l14.8,14.8m0-14.8l-14.8,14.8"/>
<path class="b" d="M551.6,1039.1l14.8,14.8m0-14.8l-14.8,14.8"/><path class="c" d="M551.6,1039.1l14.8,14.8m0-14.8l-14.8,14.8"/>
<path class="b" d="M432.6,991.1l14.8,14.8m0-14.8l-14.8,14.8"/><path class="c" d="M432.6,991.1l14.8,14.8m0-14.8l-14.8,14.8"/>
<path class="b" d="M422.6,1157.1l14.8,14.8m0-14.8l-14.8,14.8"/><path class="c" d="M422.6,1157.1l14.8,14.8m0-14.8l-14.8,14.8"/>
<path class="b" d="M386.6,1000.1l14.8,14.8m0-14.8l-14.8,14.8"/><path class="c" d="M386.6,1000.1l14.8,14.8m0-14.8l-14.8,14.8"/>
<path class="b" d="M421.6,1110.1l14.8,14.8m0-14.8l-14.8,14.8"/><path class="c" d="M421.6,1110.1l14.8,14.8m0-14.8l-14.8,14.8"/>
<path class="b" d="M463.6,1110.1l14.8,14.8m0-14.8l-14.8,14.8"/><path class="c" d="M463.6,1110.1l14.8,14.8m0-14.8l-14.8,14.8"/>
<path class="b" d="M524.6,985.1l14.8,14.8m0-14.8l-14.8,14.8"/><path class="c" d="M524.6,985.1l14.8,14.8m0-14.8l-14.8,14.8"/>
<path class="b" d="M386.6,1119.1l14.8,14.8m0-14.8l-14.8,14.8"/><path class="c" d="M386.6,1119.1l14.8,14.8m0-14.8l-14.8,14.8"/>
<path class="b" d="M455.6,1030.1l14.8,14.8m0-14.8l-14.8,14.8"/><path class="c" d="M455.6,1030.1l14.8,14.8m0-14.8l-14.8,14.8"/>
<path class="b" d="M528.6,1100.1l14.8,14.8m0-14.8l-14.8,14.8"/><path class="c" d="M528.6,1100.1l14.8,14.8m0-14.8l-14.8,14.8"/>
<path class="b" d="M404.6,1141.1l14.8,14.8m0-14.8l-14.8,14.8"/><path class="c" d="M404.6,1141.1l14.8,14.8m0-14.8l-14.8,14.8"/>
<path class="b" d="M414.6,1028.1l14.8,14.8m0-14.8l-14.8,14.8"/><path class="c" d="M414.6,1028.1l14.8,14.8m0-14.8l-14.8,14.8"/>
<path class="b" d="M561.6,1098.1l14.8,14.8m0-14.8l-14.8,14.8"/><path class="c" d="M561.6,1098.1l14.8,14.8m0-14.8l-14.8,14.8"/>
<path class="b" d="M365.6,1020.1l14.8,14.8m0-14.8l-14.8,14.8"/><path class="c" d="M365.6,1020.1l14.8,14.8m0-14.8l-14.8,14.8"/>
<path class="b" d="M486.6,1049.1l14.8,14.8m0-14.8l-14.8,14.8"/><path class="c" d="M486.6,1049.1l14.8,14.8m0-14.8l-14.8,14.8"/>
<path class="b" d="M411.6,1101.1l14.8,14.8m0-14.8l-14.8,14.8"/><path class="c" d="M411.6,1101.1l14.8,14.8m0-14.8l-14.8,14.8"/>
<path class="b" d="M490.6,1108.1l14.8,14.8m0-14.8l-14.8,14.8"/><path class="c" d="M490.6,1108.1l14.8,14.8m0-14.8l-14.8,14.8"/>
<path class="b" d="M355.6,1035.1l14.8,14.8m0-14.8l-14.8,14.8"/><path class="c" d="M355.6,1035.1l14.8,14.8m0-14.8l-14.8,14.8"/>
<path class="b" d="M522.6,990.1l14.8,14.8m0-14.8l-14.8,14.8"/><path class="c" d="M522.6,990.1l14.8,14.8m0-14.8l-14.8,14.8"/>
<path class="b" d="M502.6,1153.1l14.8,14.8m0-14.8l-14.8,14.8"/><path class="c" d="M502.6,1153.1l14.8,14.8m0-14.8l-14.8,14.8"/>
<path class="b" d="M376.6,988.1l14.8,14.8m0-14.8l-14.8,14.8"/><path class="c" d="M376.6,988.1l14.8,14.8m0-14.8l-14.8,14.8"/>
<path class="b" d="M428.6,1165.1l14.8,14.8m0-14.8l-14.8,14.8"/><path class="c" d="M428.6,1165.1l14.8,14.8m0-14.8l-14.8,14.8"/>
<path class="b" d="M411.6,1005.1l14.8,14.8m0-14.8l-14.8,14.8"/><path class="c" d="M411.6,1005.1l14.8,14.8m0-14.8l-14.8,14.8"/>
<path class="b" d="M384.6,1109.1l14.8,14.8m0-14.8l-14.8,14.8"/><path class="c" d="M384.6,1109.1l14.8,14.8m0-14.8l-14.8,14.8"/>
<path class="b" d="M370.6,1010.1l14.8,14.8m0-14.8l-14.8,14.8"/><path class="c" d="M370.6,1010.1l14.8,14.8m0-14.8l-14.8,14.8"/>
<path class="b" d="M393.6,1099.1l14.8,14.8m0-14.8l-14.8,14.8"/><path class="c" d="M393.6,1099.1l14.8,14.8m0-14.8l-14.8,14.8"/>
<path class="b" d="M236.6,875.1l14.8,14.8m0-14.8l-14.8,14.8"/><path class="c" d="M236.6,875.1l14.8,14.8m0-14.8l-14.8,14.8"/>
<path class="b" d="M405.6,1027.1l14.8,14.8m0-14.8l-14.8,14.8"/><path class="c" d="M405.6,1027.1l14.8,14.8m0-14.8l-14.8,14.8"/>
<path class="b" d="M531.6,1111.1l14.8,14.8m0-14.8l-14.8,14.8"/><path class="c" d="M531.6,1111.1l14.8,14.8m0-14.8l-14.8,14.8"/>
<path class="b" d="M379.6,1146.1l14.8,14.8m0-14.8l-14.8,14.8"/><path class="c" d="M379.6,1146.1l14.8,14.8m0-14.8l-14.8,14.8"/>
<path class="b" d="M570.6,1051.1l14.8,14.8m0-14.8l-14.8,14.8"/><path class="c" d="M570.6,1051.1l14.8,14.8m0-14.8l-14.8,14.8"/>
<path class="b" d="M472.6,1101.1l14.8,14.8m0-14.8l-14.8,14.8"/><path class="c" d="M472.6,1101.1l14.8,14.8m0-14.8l-14.8,14.8"/>
<path class="b" d="M463.6,1004.1l14.8,14.8m0-14.8l-14.8,14.8"/><path class="c" d="M463.6,1004.1l14.8,14.8m0-14.8l-14.8,14.8"/>
<path class="b" d="M365.6,1059.1l14.8,14.8m0-14.8l-14.8,14.8"/><path class="c" d="M365.6,1059.1l14.8,14.8m0-14.8l-14.8,14.8"/>
<path class="b" d="M423.6,945.1l14.8,14.8m0-14.8l-14.8,14.8"/><path class="c" d="M423.6,945.1l14.8,14.8m0-14.8l-14.8,14.8"/>
<path class="b" d="M437.6,1030.1l14.8,14.8m0-14.8l-14.8,14.8"/><path class="c" d="M437.6,1030.1l14.8,14.8m0-14.8l-14.8,14.8"/>
<path class="b" d="M454.6,983.1l14.8,14.8m0-14.8l-14.8,14.8"/><path class="c" d="M454.6,983.1l14.8,14.8m0-14.8l-14.8,14.8"/>
<path class="b" d="M317.6,997.1l14.8,14.8m0-14.8l-14.8,14.8"/><path class="c" d="M317.6,997.1l14.8,14.8m0-14.8l-14.8,14.8"/>
<path class="b" d="M520.6,1089.1l14.8,14.8m0-14.8l-14.8,14.8"/><path class="c" d="M520.6,1089.1l14.8,14.8m0-14.8l-14.8,14.8"/>
<path class="b" d="M450.6,1141.1l14.8,14.8m0-14.8l-14.8,14.8"/><path class="c" d="M450.6,1141.1l14.8,14.8m0-14.8l-14.8,14.8"/>
<path class="b" d="M695.6,1051.1l14.8,14.8m0-14.8l-14.8,14.8"/><path class="c" d="M695.6,1051.1l14.8,14.8m0-14.8l-14.8,14.8"/>
<path class="b" d="M468.6,1060.1l14.8,14.8m0-14.8l-14.8,14.8"/><path class="c" d="M468.6,1060.1l14.8,14.8m0-14.8l-14.8,14.8"/>
<path class="b" d="M466.6,988.1l14.8,14.8m0-14.8l-14.8,14.8"/><path class="c" d="M466.6,988.1l14.8,14.8m0-14.8l-14.8,14.8"/>
<path class="b" d="M553.6,990.1l14.8,14.8m0-14.8l-14.8,14.8"/><path class="c" d="M553.6,990.1l14.8,14.8m0-14.8l-14.8,14.8"/>
<path class="b" d="M533.6,1018.1l14.8,14.8m0-14.8l-14.8,14.8"/><path class="c" d="M533.6,1018.1l14.8,14.8m0-14.8l-14.8,14.8"/>
<path class="b" d="M538.6,1010.1l14.8,14.8m0-14.8l-14.8,14.8"/><path class="c" d="M538.6,1010.1l14.8,14.8m0-14.8l-14.8,14.8"/>
<path class="b" d="M457.6,1088.1l14.8,14.8m0-14.8l-14.8,14.8"/><path class="c" d="M457.6,1088.1l14.8,14.8m0-14.8l-14.8,14.8"/>
<path class="b" d="M476.6,1144.1l14.8,14.8m0-14.8l-14.8,14.8"/><path class="c" d="M476.6,1144.1l14.8,14.8m0-14.8l-14.8,14.8"/>
<path class="b" d="M442.6,959.1l14.8,14.8m0-14.8l-14.8,14.8"/><path class="c" d="M442.6,959.1l14.8,14.8m0-14.8l-14.8,14.8"/>
<path class="b" d="M362.6,1167.1l14.8,14.8m0-14.8l-14.8,14.8"/><path class="c" d="M362.6,1167.1l14.8,14.8m0-14.8l-14.8,14.8"/>
<path class="b" d="M456.6,1025.1l14.8,14.8m0-14.8l-14.8,14.8"/><path class="c" d="M456.6,1025.1l14.8,14.8m0-14.8l-14.8,14.8"/>
<path class="b" d="M368.6,982.1l14.8,14.8m0-14.8l-14.8,14.8"/><path class="c" d="M368.6,982.1l14.8,14.8m0-14.8l-14.8,14.8"/>
<path class="b" d="M558.6,1066.1l14.8,14.8m0-14.8l-14.8,14.8"/><path class="c" d="M558.6,1066.1l14.8,14.8m0-14.8l-14.8,14.8"/>
<path class="b" d="M385.6,989.1l14.8,14.8m0-14.8l-14.8,14.8"/><path class="c" d="M385.6,989.1l14.8,14.8m0-14.8l-14.8,14.8"/>
<path class="b" d="M539.6,1043.1l14.8,14.8m0-14.8l-14.8,14.8"/><path class="c" d="M539.6,1043.1l14.8,14.8m0-14.8l-14.8,14.8"/>
<path class="b" d="M547.6,1043.1l14.8,14.8m0-14.8l-14.8,14.8"/><path class="c" d="M547.6,1043.1l14.8,14.8m0-14.8l-14.8,14.8"/>
<path class="b" d="M402.6,1006.1l14.8,14.8m0-14.8l-14.8,14.8"/><path class="c" d="M402.6,1006.1l14.8,14.8m0-14.8l-14.8,14.8"/>
<path class="b" d="M358.6,1200.1l14.8,14.8m0-14.8l-14.8,14.8"/><path class="c" d="M358.6,1200.1l14.8,14.8m0-14.8l-14.8,14.8"/>
<path class="b" d="M419.6,1124.1l14.8,14.8m0-14.8l-14.8,14.8"/><path class="c" d="M419.6,1124.1l14.8,14.8m0-14.8l-14.8,14.8"/>
<path class="b" d="M405.6,1090.1l14.8,14.8m0-14.8l-14.8,14.8"/><path class="c" d="M405.6,1090.1l14.8,14.8m0-14.8l-14.8,14.8"/>
<path class="b" d="M520.6,1033.1l14.8,14.8m0-14.8l-14.8,14.8"/><path class="c" d="M520.6,1033.1l14.8,14.8m0-14.8l-14.8,14.8"/>
<path class="b" d="M338.6,973.1l14.8,14.8m0-14.8l-14.8,14.8"/><path class="c" d="M338.6,973.1l14.8,14.8m0-14.8l-14.8,14.8"/>
<path class="b" d="M391.6,1015.1l14.8,14.8m0-14.8l-14.8,14.8"/><path class="c" d="M391.6,1015.1l14.8,14.8m0-14.8l-14.8,14.8"/>
<path class="b" d="M385.6,1151.1l14.8,14.8m0-14.8l-14.8,14.8"/><path class="c" d="M385.6,1151.1l14.8,14.8m0-14.8l-14.8,14.8"/>
<path class="b" d="M507.6,1067.1l14.8,14.8m0-14.8l-14.8,14.8"/><path class="c" d="M507.6,1067.1l14.8,14.8m0-14.8l-14.8,14.8"/>
<path class="b" d="M492.6,1038.1l14.8,14.8m0-14.8l-14.8,14.8"/><path class="c" d="M492.6,1038.1l14.8,14.8m0-14.8l-14.8,14.8"/>
<path class="b" d="M459.6,1010.1l14.8,14.8m0-14.8l-14.8,14.8"/><path class="c" d="M459.6,1010.1l14.8,14.8m0-14.8l-14.8,14.8"/>
<path class="b" d="M640.6,1062.1l14.8,14.8m0-14.8l-14.8,14.8"/><path class="c" d="M640.6,1062.1l14.8,14.8m0-14.8l-14.8,14.8"/>
<path class="b" d="M395.6,1153.1l14.8,14.8m0-14.8l-14.8,14.8"/><path class="c" d="M395.6,1153.1l14.8,14.8m0-14.8l-14.8,14.8"/>
<path class="b" d="M543.6,1063.1l14.8,14.8m0-14.8l-14.8,14.8"/><path class="c" d="M543.6,1063.1l14.8,14.8m0-14.8l-14.8,14.8"/>
<path class="b" d="M514.6,1056.1l14.8,14.8m0-14.8l-14.8,14.8"/><path class="c" d="M514.6,1056.1l14.8,14.8m0-14.8l-14.8,14.8"/>
<path class="b" d="M550.6,1146.1l14.8,14.8m0-14.8l-14.8,14.8"/><path class="c" d="M550.6,1146.1l14.8,14.8m0-14.8l-14.8,14.8"/>
<path class="b" d="M423.6,940.1l14.8,14.8m0-14.8l-14.8,14.8"/><path class="c" d="M423.6,940.1l14.8,14.8m0-14.8l-14.8,14.8"/>
<path class="b" d="M391.6,1009.1l14.8,14.8m0-14.8l-14.8,14.8"/><path class="c" d="M391.6,1009.1l14.8,14.8m0-14.8l-14.8,14.8"/>
<path class="b" d="M458.6,975.1l14.8,14.8m0-14.8l-14.8,14.8"/><path class="c" d="M458.6,975.1l14.8,14.8m0-14.8l-14.8,14.8"/>
<path class="b" d="M430.6,1055.1l14.8,14.8m0-14.8l-14.8,14.8"/><path class="c" d="M430.6,1055.1l14.8,14.8m0-14.8l-14.8,14.8"/>
<path class="b" d="M397.6,1040.1l14.8,14.8m0-14.8l-14.8,14.8"/><path class="c" d="M397.6,1040.1l14.8,14.8m0-14.8l-14.8,14.8"/>
<path class="b" d="M562.6,1021.1l14.8,14.8m0-14.8l-14.8,14.8"/><path class="c" d="M562.6,1021.1l14.8,14.8m0-14.8l-14.8,14.8"/>
<path class="b" d="M511.6,1077.1l14.8,14.8m0-14.8l-14.8,14.8"/><path class="c" d="M511.6,1077.1l14.8,14.8m0-14.8l-14.8,14.8"/>
<path class="b" d="M544.6,995.1l14.8,14.8m0-14.8l-14.8,14.8"/><path class="c" d="M544.6,995.1l14.8,14.8m0-14.8l-14.8,14.8"/>
<path class="b" d="M496.6,1140.1l14.8,14.8m0-14.8l-14.8,14.8"/><path class="c" d="M496.6,1140.1l14.8,14.8m0-14.8l-14.8,14.8"/>
<path class="b" d="M294.6,943.1l14.8,14.8m0-14.8l-14.8,14.8"/><path class="c" d="M294.6,943.1l14.8,14.8m0-14.8l-14.8,14.8"/>
<path class="b" d="M449.6,974.1l14.8,14.8m0-14.8l-14.8,14.8"/><path class="c" d="M449.6,974.1l14.8,14.8m0-14.8l-14.8,14.8"/>
<path class="b" d="M378.6,1004.1l14.8,14.8m0-14.8l-14.8,14.8"/><path class="c" d="M378.6,1004.1l14.8,14.8m0-14.8l-14.8,14.8"/>
<path class="b" d="M364.6,900.1l14.8,14.8m0-14.8l-14.8,14.8"/><path class="c" d="M364.6,900.1l14.8,14.8m0-14.8l-14.8,14.8"/>
<path class="b" d="M553.6,998.1l14.8,14.8m0-14.8l-14.8,14.8"/><path class="c" d="M553.6,998.1l14.8,14.8m0-14.8l-14.8,14.8"/>
<path class="b" d="M447.6,1068.1l14.8,14.8m0-14.8l-14.8,14.8"/><path class="c" d="M447.6,1068.1l14.8,14.8m0-14.8l-14.8,14.8"/>
<path class="b" d="M404.6,1093.1l14.8,14.8m0-14.8l-14.8,14.8"/><path class="c" d="M404.6,1093.1l14.8,14.8m0-14.8l-14.8,14.8"/>
<path class="b" d="M521.6,1026.1l14.8,14.8m0-14.8l-14.8,14.8"/><path class="c" d="M521.6,1026.1l14.8,14.8m0-14.8l-14.8,14.8"/>
<path class="b" d="M387.6,1003.1l14.8,14.8m0-14.8l-14.8,14.8"/><path class="c" d="M387.6,1003.1l14.8,14.8m0-14.8l-14.8,14.8"/>
<path class="b" d="M516.6,1018.1l14.8,14.8m0-14.8l-14.8,14.8"/><path class="c" d="M516.6,1018.1l14.8,14.8m0-14.8l-14.8,14.8"/>
<path class="b" d="M499.6,1029.1l14.8,14.8m0-14.8l-14.8,14.8"/><path class="c" d="M499.6,1029.1l14.8,14.8m0-14.8l-14.8,14.8"/>
<path class="b" d="M622.6,1038.1l14.8,14.8m0-14.8l-14.8,14.8"/><path class="c" d="M622.6,1038.1l14.8,14.8m0-14.8l-14.8,14.8"/>
<path class="b" d="M407.6,1149.1l14.8,14.8m0-14.8l-14.8,14.8"/><path class="c" d="M407.6,1149.1l14.8,14.8m0-14.8l-14.8,14.8"/>
<path class="b" d="M381.6,1076.1l14.8,14.8m0-14.8l-14.8,14.8"/><path class="c" d="M381.6,1076.1l14.8,14.8m0-14.8l-14.8,14.8"/>
<path class="b" d="M417.6,1137.1l14.8,14.8m0-14.8l-14.8,14.8"/><path class="c" d="M417.6,1137.1l14.8,14.8m0-14.8l-14.8,14.8"/>
<path class="b" d="M476.6,1058.1l14.8,14.8m0-14.8l-14.8,14.8"/><path class="c" d="M476.6,1058.1l14.8,14.8m0-14.8l-14.8,14.8"/>
<path class="b" d="M422.6,1147.1l14.8,14.8m0-14.8l-14.8,14.8"/><path class="c" d="M422.6,1147.1l14.8,14.8m0-14.8l-14.8,14.8"/>
<path class="b" d="M411.6,1031.1l14.8,14.8m0-14.8l-14.8,14.8"/><path class="c" d="M411.6,1031.1l14.8,14.8m0-14.8l-14.8,14.8"/>
<path class="b" d="M541.6,1058.1l14.8,14.8m0-14.8l-14.8,14.8"/><path class="c" d="M541.6,1058.1l14.8,14.8m0-14.8l-14.8,14.8"/>
<path class="b" d="M592.6,1103.1l14.8,14.8m0-14.8l-14.8,14.8"/><path class="c" d="M592.6,1103.1l14.8,14.8m0-14.8l-14.8,14.8"/>
<path class="b" d="M568.6,997.1l14.8,14.8m0-14.8l-14.8,14.8"/><path class="c" d="M568.6,997.1l14.8,14.8m0-14.8l-14.8,14.8"/>
<path class="b" d="M576.6,1087.1l14.8,14.8m0-14.8l-14.8,14.8"/><path class="c" d="M576.6,1087.1l14.8,14.8m0-14.8l-14.8,14.8"/>
<path class="b" d="M376.6,904.1l14.8,14.8m0-14.8l-14.8,14.8"/><path class="c" d="M376.6,904.1l14.8,14.8m0-14.8l-14.8,14.8"/>
<path class="b" d="M396.6,1113.1l14.8,14.8m0-14.8l-14.8,14.8"/><path class="c" d="M396.6,1113.1l14.8,14.8m0-14.8l-14.8,14.8"/>
<path class="b" d="M682.6,1055.1l14.8,14.8m0-14.8l-14.8,14.8"/><path class="c" d="M682.6,1055.1l14.8,14.8m0-14.8l-14.8,14.8"/>
<path class="b" d="M599.6,1030.1l14.8,14.8m0-14.8l-14.8,14.8"/><path class="c" d="M599.6,1030.1l14.8,14.8m0-14.8l-14.8,14.8"/>
<path class="b" d="M655.6,1087.1l14.8,14.8m0-14.8l-14.8,14.8"/><path class="c" d="M655.6,1087.1l14.8,14.8m0-14.8l-14.8,14.8"/>
<path class="b" d="M422.6,1064.1l14.8,14.8m0-14.8l-14.8,14.8"/><path class="c" d="M422.6,1064.1l14.8,14.8m0-14.8l-14.8,14.8"/>
<path class="b" d="M467.6,1061.1l14.8,14.8m0-14.8l-14.8,14.8"/><path class="c" d="M467.6,1061.1l14.8,14.8m0-14.8l-14.8,14.8"/>
<path class="b" d="M421.6,1110.1l14.8,14.8m0-14.8l-14.8,14.8"/><path class="c" d="M421.6,1110.1l14.8,14.8m0-14.8l-14.8,14.8"/>
<path class="b" d="M493.6,1107.1l14.8,14.8m0-14.8l-14.8,14.8"/><path class="c" d="M493.6,1107.1l14.8,14.8m0-14.8l-14.8,14.8"/>
<path class="b" d="M530.6,1060.1l14.8,14.8m0-14.8l-14.8,14.8"/><path class="c" d="M530.6,1060.1l14.8,14.8m0-14.8l-14.8,14.8"/>
<path class="b" d="M405.6,950.1l14.8,14.8m0-14.8l-14.8,14.8"/><path class="c" d="M405.6,950.1l14.8,14.8m0-14.8l-14.8,14.8"/>
<path class="b" d="M543.6,1111.1l14.8,14.8m0-14.8l-14.8,14.8"/><path class="c" d="M543.6,1111.1l14.8,14.8m0-14.8l-14.8,14.8"/>
<path class="b" d="M445.6,1163.1l14.8,14.8m0-14.8l-14.8,14.8"/><path class="c" d="M445.6,1163.1l14.8,14.8m0-14.8l-14.8,14.8"/>
<path class="b" d="M549.6,1104.1l14.8,14.8m0-14.8l-14.8,14.8"/><path class="c" d="M549.6,1104.1l14.8,14.8m0-14.8l-14.8,14.8"/>
<path class="b" d="M634.6,1067.1l14.8,14.8m0-14.8l-14.8,14.8"/><path class="c" d="M634.6,1067.1l14.8,14.8m0-14.8l-14.8,14.8"/>
<path class="b" d="M450.6,1099.1l14.8,14.8m0-14.8l-14.8,14.8"/><path class="c" d="M450.6,1099.1l14.8,14.8m0-14.8l-14.8,14.8"/>
<path class="b" d="M385.6,1136.1l14.8,14.8m0-14.8l-14.8,14.8"/><path class="c" d="M385.6,1136.1l14.8,14.8m0-14.8l-14.8,14.8"/>
<path class="b" d="M522.6,1084.1l14.8,14.8m0-14.8l-14.8,14.8"/><path class="c" d="M522.6,1084.1l14.8,14.8m0-14.8l-14.8,14.8"/>
<path class="b" d="M358.6,1012.1l14.8,14.8m0-14.8l-14.8,14.8"/><path class="c" d="M358.6,1012.1l14.8,14.8m0-14.8l-14.8,14.8"/>
<path class="b" d="M448.6,1164.1l14.8,14.8m0-14.8l-14.8,14.8"/><path class="c" d="M448.6,1164.1l14.8,14.8m0-14.8l-14.8,14.8"/>
<path class="b" d="M421.6,1113.1l14.8,14.8m0-14.8l-14.8,14.8"/><path class="c" d="M421.6,1113.1l14.8,14.8m0-14.8l-14.8,14.8"/>
<path class="b" d="M547.6,1047.1l14.8,14.8m0-14.8l-14.8,14.8"/><path class="c" d="M547.6,1047.1l14.8,14.8m0-14.8l-14.8,14.8"/>
<path class="b" d="M367.6,993.1l14.8,14.8m0-14.8l-14.8,14.8"/><path class="c" d="M367.6,993.1l14.8,14.8m0-14.8l-14.8,14.8"/>
<path class="b" d="M359.6,1009.1l14.8,14.8m0-14.8l-14.8,14.8"/><path class="c" d="M359.6,1009.1l14.8,14.8m0-14.8l-14.8,14.8"/>
<path class="b" d="M483.6,1103.1l14.8,14.8m0-14.8l-14.8,14.8"/><path class="c" d="M483.6,1103.1l14.8,14.8m0-14.8l-14.8,14.8"/>
<path class="b" d="M439.6,1033.1l14.8,14.8m0-14.8l-14.8,14.8"/><path class="c" d="M439.6,1033.1l14.8,14.8m0-14.8l-14.8,14.8"/>
<path class="b" d="M473.6,989.1l14.8,14.8m0-14.8l-14.8,14.8"/><path class="c" d="M473.6,989.1l14.8,14.8m0-14.8l-14.8,14.8"/>
<path class="b" d="M627.6,1075.1l14.8,14.8m0-14.8l-14.8,14.8"/><path class="c" d="M627.6,1075.1l14.8,14.8m0-14.8l-14.8,14.8"/>
<path class="b" d="M447.6,1024.1l14.8,14.8m0-14.8l-14.8,14.8"/><path class="c" d="M447.6,1024.1l14.8,14.8m0-14.8l-14.8,14.8"/>
<path class="b" d="M443.6,1092.1l14.8,14.8m0-14.8l-14.8,14.8"/><path class="c" d="M443.6,1092.1l14.8,14.8m0-14.8l-14.8,14.8"/>
<path class="b" d="M687.6,1041.1l14.8,14.8m0-14.8l-14.8,14.8"/><path class="c" d="M687.6,1041.1l14.8,14.8m0-14.8l-14.8,14.8"/>
<path class="b" d="M402.6,1084.1l14.8,14.8m0-14.8l-14.8,14.8"/><path class="c" d="M402.6,1084.1l14.8,14.8m0-14.8l-14.8,14.8"/>
<path class="b" d="M418.6,1158.1l14.8,14.8m0-14.8l-14.8,14.8"/><path class="c" d="M418.6,1158.1l14.8,14.8m0-14.8l-14.8,14.8"/>
<path class="b" d="M627.6,1076.1l14.8,14.8m0-14.8l-14.8,14.8"/><path class="c" d="M627.6,1076.1l14.8,14.8m0-14.8l-14.8,14.8"/>
<path class="b" d="M566.6,1042.1l14.8,14.8m0-14.8l-14.8,14.8"/><path class="c" d="M566.6,1042.1l14.8,14.8m0-14.8l-14.8,14.8"/>
<path class="b" d="M382.6,992.1l14.8,14.8m0-14.8l-14.8,14.8"/><path class="c" d="M382.6,992.1l14.8,14.8m0-14.8l-14.8,14.8"/>
<path class="b" d="M431.6,989.1l14.8,14.8m0-14.8l-14.8,14.8"/><path class="c" d="M431.6,989.1l14.8,14.8m0-14.8l-14.8,14.8"/>
<path class="b" d="M449.6,1131.1l14.8,14.8m0-14.8l-14.8,14.8"/><path class="c" d="M449.6,1131.1l14.8,14.8m0-14.8l-14.8,14.8"/>
<path class="b" d="M484.6,1127.1l14.8,14.8m0-14.8l-14.8,14.8"/><path class="c" d="M484.6,1127.1l14.8,14.8m0-14.8l-14.8,14.8"/>
<path class="b" d="M373.6,1110.1l14.8,14.8m0-14.8l-14.8,14.8"/><path class="c" d="M373.6,1110.1l14.8,14.8m0-14.8l-14.8,14.8"/>
<path class="b" d="M586.6,1080.1l14.8,14.8m0-14.8l-14.8,14.8"/><path class="c" d="M586.6,1080.1l14.8,14.8m0-14.8l-14.8,14.8"/>
<path class="b" d="M631.6,1037.1l14.8,14.8m0-14.8l-14.8,14.8"/><path class="c" d="M631.6,1037.1l14.8,14.8m0-14.8l-14.8,14.8"/>
<path class="b" d="M476.6,967.1l14.8,14.8m0-14.8l-14.8,14.8"/><path class="c" d="M476.6,967.1l14.8,14.8m0-14.8l-14.8,14.8"/>
<path class="b" d="M362.6,1069.1l14.8,14.8m0-14.8l-14.8,14.8"/><path class="c" d="M362.6,1069.1l14.8,14.8m0-14.8l-14.8,14.8"/>
<path class="b" d="M582.6,1076.1l14.8,14.8m0-14.8l-14.8,14.8"/><path class="c" d="M582.6,1076.1l14.8,14.8m0-14.8l-14.8,14.8"/>
<path class="b" d="M361.6,1014.1l14.8,14.8m0-14.8l-14.8,14.8"/><path class="c" d="M361.6,1014.1l14.8,14.8m0-14.8l-14.8,14.8"/>
<path class="b" d="M368.6,1076.1l14.8,14.8m0-14.8l-14.8,14.8"/><path class="c" d="M368.6,1076.1l14.8,14.8m0-14.8l-14.8,14.8"/>
<path class="b" d="M487.6,971.1l14.8,14.8m0-14.8l-14.8,14.8"/><path class="c" d="M487.6,971.1l14.8,14.8m0-14.8l-14.8,14.8"/>
<path class="b" d="M411.6,1106.1l14.8,14.8m0-14.8l-14.8,14.8"/><path class="c" d="M411.6,1106.1l14.8,14.8m0-14.8l-14.8,14.8"/>
<path class="b" d="M421.6,1121.1l14.8,14.8m0-14.8l-14.8,14.8"/><path class="c" d="M421.6,1121.1l14.8,14.8m0-14.8l-14.8,14.8"/>
<path class="b" d="M571.6,999.1l14.8,14.8m0-14.8l-14.8,14.8"/><path class="c" d="M571.6,999.1l14.8,14.8m0-14.8l-14.8,14.8"/>
<path class="b" d="M436.6,1049.1l14.8,14.8m0-14.8l-14.8,14.8"/><path class="c" d="M436.6,1049.1l14.8,14.8m0-14.8l-14.8,14.8"/>
<path class="b" d="M574.6,1063.1l14.8,14.8m0-14.8l-14.8,14.8"/><path class="c" d="M574.6,1063.1l14.8,14.8m0-14.8l-14.8,14.8"/>
<path class="b" d="M553.6,1092.1l14.8,14.8m0-14.8l-14.8,14.8"/><path class="c" d="M553.6,1092.1l14.8,14.8m0-14.8l-14.8,14.8"/>
<path class="b" d="M429.6,955.1l14.8,14.8m0-14.8l-14.8,14.8"/><path class="c" d="M429.6,955.1l14.8,14.8m0-14.8l-14.8,14.8"/>
<path class="b" d="M360.6,1048.1l14.8,14.8m0-14.8l-14.8,14.8"/><path class="c" d="M360.6,1048.1l14.8,14.8m0-14.8l-14.8,14.8"/>
<path class="b" d="M547.6,986.1l14.8,14.8m0-14.8l-14.8,14.8"/><path class="c" d="M547.6,986.1l14.8,14.8m0-14.8l-14.8,14.8"/>
<path class="b" d="M383.6,990.1l14.8,14.8m0-14.8l-14.8,14.8"/><path class="c" d="M383.6,990.1l14.8,14.8m0-14.8l-14.8,14.8"/>
<path class="b" d="M441.6,1148.1l14.8,14.8m0-14.8l-14.8,14.8"/><path class="c" d="M441.6,1148.1l14.8,14.8m0-14.8l-14.8,14.8"/>
<path class="b" d="M367.6,992.1l14.8,14.8m0-14.8l-14.8,14.8"/><path class="c" d="M367.6,992.1l14.8,14.8m0-14.8l-14.8,14.8"/>
<path class="b" d="M431.6,1024.1l14.8,14.8m0-14.8l-14.8,14.8"/><path class="c" d="M431.6,1024.1l14.8,14.8m0-14.8l-14.8,14.8"/>
<path class="b" d="M360.6,895.1l14.8,14.8m0-14.8l-14.8,14.8"/><path class="c" d="M360.6,895.1l14.8,14.8m0-14.8l-14.8,14.8"/>
<path class="b" d="M454.6,993.1l14.8,14.8m0-14.8l-14.8,14.8"/><path class="c" d="M454.6,993.1l14.8,14.8m0-14.8l-14.8,14.8"/>
<path class="b" d="M636.6,1045.1l14.8,14.8m0-14.8l-14.8,14.8"/><path class="c" d="M636.6,1045.1l14.8,14.8m0-14.8l-14.8,14.8"/>
<path class="b" d="M500.6,1092.1l14.8,14.8m0-14.8l-14.8,14.8"/><path class="c" d="M500.6,1092.1l14.8,14.8m0-14.8l-14.8,14.8"/>
<path class="b" d="M442.6,1011.1l14.8,14.8m0-14.8l-14.8,14.8"/><path class="c" d="M442.6,1011.1l14.8,14.8m0-14.8l-14.8,14.8"/>
<path class="b" d="M559.6,993.1l14.8,14.8m0-14.8l-14.8,14.8"/><path class="c" d="M559.6,993.1l14.8,14.8m0-14.8l-14.8,14.8"/>
<path class="b" d="M366.6,1026.1l14.8,14.8m0-14.8l-14.8,14.8"/><path class="c" d="M366.6,1026.1l14.8,14.8m0-14.8l-14.8,14.8"/>
<path class="b" d="M415.6,1081.1l14.8,14.8m0-14.8l-14.8,14.8"/><path class="c" d="M415.6,1081.1l14.8,14.8m0-14.8l-14.8,14.8"/>
<path class="b" d="M423.6,972.1l14.8,14.8m0-14.8l-14.8,14.8"/><path class="c" d="M423.6,972.1l14.8,14.8m0-14.8l-14.8,14.8"/>
<path class="b" d="M449.6,1033.1l14.8,14.8m0-14.8l-14.8,14.8"/><path class="c" d="M449.6,1033.1l14.8,14.8m0-14.8l-14.8,14.8"/>
<path class="b" d="M570.6,1085.1l14.8,14.8m0-14.8l-14.8,14.8"/><path class="c" d="M570.6,1085.1l14.8,14.8m0-14.8l-14.8,14.8"/>
<path class="b" d="M467.6,958.1l14.8,14.8m0-14.8l-14.8,14.8"/><path class="c" d="M467.6,958.1l14.8,14.8m0-14.8l-14.8,14.8"/>
<path class="b" d="M558.6,1057.1l14.8,14.8m0-14.8l-14.8,14.8"/><path class="c" d="M558.6,1057.1l14.8,14.8m0-14.8l-14.8,14.8"/>
<path class="b" d="M623.6,1047.1l14.8,14.8m0-14.8l-14.8,14.8"/><path class="c" d="M623.6,1047.1l14.8,14.8m0-14.8l-14.8,14.8"/>
<path class="b" d="M438.6,1150.1l14.8,14.8m0-14.8l-14.8,14.8"/><path class="c" d="M438.6,1150.1l14.8,14.8m0-14.8l-14.8,14.8"/>
<path class="b" d="M391.6,1164.1l14.8,14.8m0-14.8l-14.8,14.8"/><path class="c" d="M391.6,1164.1l14.8,14.8m0-14.8l-14.8,14.8"/>
<path class="b" d="M495.6,1152.1l14.8,14.8m0-14.8l-14.8,14.8"/><path class="c" d="M495.6,1152.1l14.8,14.8m0-14.8l-14.8,14.8"/>
<path class="b" d="M322.6,1060.1l14.8,14.8m0-14.8l-14.8,14.8"/><path class="c" d="M322.6,1060.1l14.8,14.8m0-14.8l-14.8,14.8"/>
<path class="b" d="M378.6,924.1l14.8,14.8m0-14.8l-14.8,14.8"/><path class="c" d="M378.6,924.1l14.8,14.8m0-14.8l-14.8,14.8"/>
<path class="b" d="M537.6,1081.1l14.8,14.8m0-14.8l-14.8,14.8"/><path class="c" d="M537.6,1081.1l14.8,14.8m0-14.8l-14.8,14.8"/>
<path class="b" d="M532.6,1019.1l14.8,14.8m0-14.8l-14.8,14.8"/><path class="c" d="M532.6,1019.1l14.8,14.8m0-14.8l-14.8,14.8"/>
<path class="b" d="M523.6,1069.1l14.8,14.8m0-14.8l-14.8,14.8"/><path class="c" d="M523.6,1069.1l14.8,14.8m0-14.8l-14.8,14.8"/>
<path class="b" d="M494.6,1146.1l14.8,14.8m0-14.8l-14.8,14.8"/><path class="c" d="M494.6,1146.1l14.8,14.8m0-14.8l-14.8,14.8"/>
<path class="b" d="M537.6,1085.1l14.8,14.8m0-14.8l-14.8,14.8"/><path class="c" d="M537.6,1085.1l14.8,14.8m0-14.8l-14.8,14.8"/>
<path class="b" d="M402.6,988.1l14.8,14.8m0-14.8l-14.8,14.8"/><path class="c" d="M402.6,988.1l14.8,14.8m0-14.8l-14.8,14.8"/>
<path class="b" d="M597.6,1029.1l14.8,14.8m0-14.8l-14.8,14.8"/><path class="c" d="M597.6,1029.1l14.8,14.8m0-14.8l-14.8,14.8"/>
<path class="b" d="M408.6,921.1l14.8,14.8m0-14.8l-14.8,14.8"/><path class="c" d="M408.6,921.1l14.8,14.8m0-14.8l-14.8,14.8"/>
<path class="b" d="M384.6,981.1l14.8,14.8m0-14.8l-14.8,14.8"/><path class="c" d="M384.6,981.1l14.8,14.8m0-14.8l-14.8,14.8"/>
<path class="b" d="M389.6,994.1l14.8,14.8m0-14.8l-14.8,14.8"/><path class="c" d="M389.6,994.1l14.8,14.8m0-14.8l-14.8,14.8"/>
<path class="b" d="M407.6,961.1l14.8,14.8m0-14.8l-14.8,14.8"/><path class="c" d="M407.6,961.1l14.8,14.8m0-14.8l-14.8,14.8"/>
<path class="b" d="M344.6,1045.1l14.8,14.8m0-14.8l-14.8,14.8"/><path class="c" d="M344.6,1045.1l14.8,14.8m0-14.8l-14.8,14.8"/>
<path class="b" d="M500.6,1073.1l14.8,14.8m0-14.8l-14.8,14.8"/><path class="c" d="M500.6,1073.1l14.8,14.8m0-14.8l-14.8,14.8"/>
<path class="b" d="M503.6,1149.1l14.8,14.8m0-14.8l-14.8,14.8"/><path class="c" d="M503.6,1149.1l14.8,14.8m0-14.8l-14.8,14.8"/>
<path class="b" d="M685.6,1026.1l14.8,14.8m0-14.8l-14.8,14.8"/><path class="c" d="M685.6,1026.1l14.8,14.8m0-14.8l-14.8,14.8"/>
<path class="b" d="M440.6,1015.1l14.8,14.8m0-14.8l-14.8,14.8"/><path class="c" d="M440.6,1015.1l14.8,14.8m0-14.8l-14.8,14.8"/>
<path class="b" d="M566.6,993.1l14.8,14.8m0-14.8l-14.8,14.8"/><path class="c" d="M566.6,993.1l14.8,14.8m0-14.8l-14.8,14.8"/>
<path class="b" d="M386.6,1004.1l14.8,14.8m0-14.8l-14.8,14.8"/><path class="c" d="M386.6,1004.1l14.8,14.8m0-14.8l-14.8,14.8"/>
<path class="b" d="M300.6,789.1l14.8,14.8m0-14.8l-14.8,14.8"/><path class="c" d="M300.6,789.1l14.8,14.8m0-14.8l-14.8,14.8"/>
<path class="b" d="M416.6,1048.1l14.8,14.8m0-14.8l-14.8,14.8"/><path class="c" d="M416.6,1048.1l14.8,14.8m0-14.8l-14.8,14.8"/>
<path class="b" d="M448.6,914.1l14.8,14.8m0-14.8l-14.8,14.8"/><path class="c" d="M448.6,914.1l14.8,14.8m0-14.8l-14.8,14.8"/>
<path class="b" d="M429.6,1152.1l14.8,14.8m0-14.8l-14.8,14.8"/><path class="c" d="M429.6,1152.1l14.8,14.8m0-14.8l-14.8,14.8"/>
<path class="b" d="M669.6,1042.1l14.8,14.8m0-14.8l-14.8,14.8"/><path class="c" d="M669.6,1042.1l14.8,14.8m0-14.8l-14.8,14.8"/>
<path class="b" d="M539.6,988.1l14.8,14.8m0-14.8l-14.8,14.8"/><path class="c" d="M539.6,988.1l14.8,14.8m0-14.8l-14.8,14.8"/>
<path class="b" d="M454.6,979.1l14.8,14.8m0-14.8l-14.8,14.8"/><path class="c" d="M454.6,979.1l14.8,14.8m0-14.8l-14.8,14.8"/>
<path class="b" d="M587.6,1049.1l14.8,14.8m0-14.8l-14.8,14.8"/><path class="c" d="M587.6,1049.1l14.8,14.8m0-14.8l-14.8,14.8"/>
<path class="b" d="M464.6,1104.1l14.8,14.8m0-14.8l-14.8,14.8"/><path class="c" d="M464.6,1104.1l14.8,14.8m0-14.8l-14.8,14.8"/>
<path class="b" d="M411.6,1030.1l14.8,14.8m0-14.8l-14.8,14.8"/><path class="c" d="M411.6,1030.1l14.8,14.8m0-14.8l-14.8,14.8"/>
<path class="b" d="M369.6,968.1l14.8,14.8m0-14.8l-14.8,14.8"/><path class="c" d="M369.6,968.1l14.8,14.8m0-14.8l-14.8,14.8"/>
<path class="b" d="M531.6,1078.1l14.8,14.8m0-14.8l-14.8,14.8"/><path class="c" d="M531.6,1078.1l14.8,14.8m0-14.8l-14.8,14.8"/>
<path class="b" d="M506.6,1110.1l14.8,14.8m0-14.8l-14.8,14.8"/><path class="c" d="M506.6,1110.1l14.8,14.8m0-14.8l-14.8,14.8"/>
<path class="b" d="M507.6,1108.1l14.8,14.8m0-14.8l-14.8,14.8"/><path class="c" d="M507.6,1108.1l14.8,14.8m0-14.8l-14.8,14.8"/>
<path class="b" d="M396.6,1012.1l14.8,14.8m0-14.8l-14.8,14.8"/><path class="c" d="M396.6,1012.1l14.8,14.8m0-14.8l-14.8,14.8"/>
<path class="b" d="M428.6,1074.1l14.8,14.8m0-14.8l-14.8,14.8"/><path class="c" d="M428.6,1074.1l14.8,14.8m0-14.8l-14.8,14.8"/>
<path class="b" d="M595.6,1088.1l14.8,14.8m0-14.8l-14.8,14.8"/><path class="c" d="M595.6,1088.1l14.8,14.8m0-14.8l-14.8,14.8"/>
<path class="b" d="M616.6,1083.1l14.8,14.8m0-14.8l-14.8,14.8"/><path class="c" d="M616.6,1083.1l14.8,14.8m0-14.8l-14.8,14.8"/>
<path class="b" d="M532.6,993.1l14.8,14.8m0-14.8l-14.8,14.8"/><path class="c" d="M532.6,993.1l14.8,14.8m0-14.8l-14.8,14.8"/>
<path class="b" d="M467.6,1077.1l14.8,14.8m0-14.8l-14.8,14.8"/><path class="c" d="M467.6,1077.1l14.8,14.8m0-14.8l-14.8,14.8"/>
<path class="b" d="M519.6,1008.1l14.8,14.8m0-14.8l-14.8,14.8"/><path class="c" d="M519.6,1008.1l14.8,14.8m0-14.8l-14.8,14.8"/>
<path class="b" d="M654.6,1087.1l14.8,14.8m0-14.8l-14.8,14.8"/><path class="c" d="M654.6,1087.1l14.8,14.8m0-14.8l-14.8,14.8"/>
<path class="b" d="M423.6,1051.1l14.8,14.8m0-14.8l-14.8,14.8"/><path class="c" d="M423.6,1051.1l14.8,14.8m0-14.8l-14.8,14.8"/>
<path class="b" d="M518.6,1037.1l14.8,14.8m0-14.8l-14.8,14.8"/><path class="c" d="M518.6,1037.1l14.8,14.8m0-14.8l-14.8,14.8"/>
<path class="b" d="M649.6,984.1l14.8,14.8m0-14.8l-14.8,14.8"/><path class="c" d="M649.6,984.1l14.8,14.8m0-14.8l-14.8,14.8"/>
<path class="b" d="M603.6,1033.1l14.8,14.8m0-14.8l-14.8,14.8"/><path class="c" d="M603.6,1033.1l14.8,14.8m0-14.8l-14.8,14.8"/>
<path class="b" d="M596.6,1054.1l14.8,14.8m0-14.8l-14.8,14.8"/><path class="c" d="M596.6,1054.1l14.8,14.8m0-14.8l-14.8,14.8"/>
<path class="b" d="M290.6,1007.1l14.8,14.8m0-14.8l-14.8,14.8"/><path class="c" d="M290.6,1007.1l14.8,14.8m0-14.8l-14.8,14.8"/>
<path class="b" d="M427.6,1125.1l14.8,14.8m0-14.8l-14.8,14.8"/><path class="c" d="M427.6,1125.1l14.8,14.8m0-14.8l-14.8,14.8"/>
<path class="b" d="M513.6,1058.1l14.8,14.8m0-14.8l-14.8,14.8"/><path class="c" d="M513.6,1058.1l14.8,14.8m0-14.8l-14.8,14.8"/>
<path class="b" d="M589.6,1036.1l14.8,14.8m0-14.8l-14.8,14.8"/><path class="c" d="M589.6,1036.1l14.8,14.8m0-14.8l-14.8,14.8"/>
<path class="b" d="M468.6,1159.1l14.8,14.8m0-14.8l-14.8,14.8"/><path class="c" d="M468.6,1159.1l14.8,14.8m0-14.8l-14.8,14.8"/>
<path class="b" d="M532.6,992.1l14.8,14.8m0-14.8l-14.8,14.8"/><path class="c" d="M532.6,992.1l14.8,14.8m0-14.8l-14.8,14.8"/>
<path class="b" d="M360.6,1136.1l14.8,14.8m0-14.8l-14.8,14.8"/><path class="c" d="M360.6,1136.1l14.8,14.8m0-14.8l-14.8,14.8"/>
<path class="b" d="M492.6,1135.1l14.8,14.8m0-14.8l-14.8,14.8"/><path class="c" d="M492.6,1135.1l14.8,14.8m0-14.8l-14.8,14.8"/>
<path class="b" d="M372.6,1036.1l14.8,14.8m0-14.8l-14.8,14.8"/><path class="c" d="M372.6,1036.1l14.8,14.8m0-14.8l-14.8,14.8"/>
<path class="b" d="M402.6,976.1l14.8,14.8m0-14.8l-14.8,14.8"/><path class="c" d="M402.6,976.1l14.8,14.8m0-14.8l-14.8,14.8"/>
<path class="b" d="M396.6,1173.1l14.8,14.8m0-14.8l-14.8,14.8"/><path class="c" d="M396.6,1173.1l14.8,14.8m0-14.8l-14.8,14.8"/>
<path class="b" d="M512.6,1082.1l14.8,14.8m0-14.8l-14.8,14.8"/><path class="c" d="M512.6,1082.1l14.8,14.8m0-14.8l-14.8,14.8"/>
<path class="b" d="M506.6,1118.1l14.8,14.8m0-14.8l-14.8,14.8"/><path class="c" d="M506.6,1118.1l14.8,14.8m0-14.8l-14.8,14.8"/>
<path class="b" d="M371.6,978.1l14.8,14.8m0-14.8l-14.8,14.8"/><path class="c" d="M371.6,978.1l14.8,14.8m0-14.8l-14.8,14.8"/>
<path class="b" d="M509.6,1057.1l14.8,14.8m0-14.8l-14.8,14.8"/><path class="c" d="M509.6,1057.1l14.8,14.8m0-14.8l-14.8,14.8"/>
<path class="b" d="M415.6,1116.1l14.8,14.8m0-14.8l-14.8,14.8"/><path class="c" d="M415.6,1116.1l14.8,14.8m0-14.8l-14.8,14.8"/>
<path class="b" d="M441.6,1115.1l14.8,14.8m0-14.8l-14.8,14.8"/><path class="c" d="M441.6,1115.1l14.8,14.8m0-14.8l-14.8,14.8"/>
<path class="b" d="M526.6,1036.1l14.8,14.8m0-14.8l-14.8,14.8"/><path class="c" d="M526.6,1036.1l14.8,14.8m0-14.8l-14.8,14.8"/>
<path class="b" d="M551.6,1046.1l14.8,14.8m0-14.8l-14.8,14.8"/><path class="c" d="M551.6,1046.1l14.8,14.8m0-14.8l-14.8,14.8"/>
<path class="b" d="M515.6,1051.1l14.8,14.8m0-14.8l-14.8,14.8"/><path class="c" d="M515.6,1051.1l14.8,14.8m0-14.8l-14.8,14.8"/>
<path class="b" d="M420.6,1086.1l14.8,14.8m0-14.8l-14.8,14.8"/><path class="c" d="M420.6,1086.1l14.8,14.8m0-14.8l-14.8,14.8"/>
<path class="b" d="M511.6,1140.1l14.8,14.8m0-14.8l-14.8,14.8"/><path class="c" d="M511.6,1140.1l14.8,14.8m0-14.8l-14.8,14.8"/>
<path class="b" d="M437.6,1046.1l14.8,14.8m0-14.8l-14.8,14.8"/><path class="c" d="M437.6,1046.1l14.8,14.8m0-14.8l-14.8,14.8"/>
<path class="b" d="M447.6,1153.1l14.8,14.8m0-14.8l-14.8,14.8"/><path class="c" d="M447.6,1153.1l14.8,14.8m0-14.8l-14.8,14.8"/>
<path class="b" d="M376.6,1089.1l14.8,14.8m0-14.8l-14.8,14.8"/><path class="c" d="M376.6,1089.1l14.8,14.8m0-14.8l-14.8,14.8"/>
<path class="b" d="M457.6,1002.1l14.8,14.8m0-14.8l-14.8,14.8"/><path class="c" d="M457.6,1002.1l14.8,14.8m0-14.8l-14.8,14.8"/>
<path class="b" d="M385.6,1064.1l14.8,14.8m0-14.8l-14.8,14.8"/><path class="c" d="M385.6,1064.1l14.8,14.8m0-14.8l-14.8,14.8"/>
<path class="b" d="M456.6,995.1l14.8,14.8m0-14.8l-14.8,14.8"/><path class="c" d="M456.6,995.1l14.8,14.8m0-14.8l-14.8,14.8"/>
<path class="b" d="M565.6,982.1l14.8,14.8m0-14.8l-14.8,14.8"/><path class="c" d="M565.6,982.1l14.8,14.8m0-14.8l-14.8,14.8"/>
<path class="b" d="M368.6,992.1l14.8,14.8m0-14.8l-14.8,14.8"/><path class="c" d="M368.6,992.1l14.8,14.8m0-14.8l-14.8,14.8"/>
<path class="b" d="M379.6,1032.1l14.8,14.8m0-14.8l-14.8,14.8"/><path class="c" d="M379.6,1032.1l14.8,14.8m0-14.8l-14.8,14.8"/>
<path class="b" d="M606.6,1079.1l14.8,14.8m0-14.8l-14.8,14.8"/><path class="c" d="M606.6,1079.1l14.8,14.8m0-14.8l-14.8,14.8"/>
<path class="b" d="M455.6,988.1l14.8,14.8m0-14.8l-14.8,14.8"/><path class="c" d="M455.6,988.1l14.8,14.8m0-14.8l-14.8,14.8"/>
<path class="b" d="M508.6,1128.1l14.8,14.8m0-14.8l-14.8,14.8"/><path class="c" d="M508.6,1128.1l14.8,14.8m0-14.8l-14.8,14.8"/>
<path class="b" d="M580.6,1116.1l14.8,14.8m0-14.8l-14.8,14.8"/><path class="c" d="M580.6,1116.1l14.8,14.8m0-14.8l-14.8,14.8"/>
<path class="b" d="M480.6,1016.1l14.8,14.8m0-14.8l-14.8,14.8"/><path class="c" d="M480.6,1016.1l14.8,14.8m0-14.8l-14.8,14.8"/>
<path class="b" d="M358.6,980.1l14.8,14.8m0-14.8l-14.8,14.8"/><path class="c" d="M358.6,980.1l14.8,14.8m0-14.8l-14.8,14.8"/>
<path class="b" d="M488.6,1017.1l14.8,14.8m0-14.8l-14.8,14.8"/><path class="c" d="M488.6,1017.1l14.8,14.8m0-14.8l-14.8,14.8"/>
<path class="b" d="M316.6,961.1l14.8,14.8m0-14.8l-14.8,14.8"/><path class="c" d="M316.6,961.1l14.8,14.8m0-14.8l-14.8,14.8"/>
<path class="b" d="M568.6,1065.1l14.8,14.8m0-14.8l-14.8,14.8"/><path class="c" d="M568.6,1065.1l14.8,14.8m0-14.8l-14.8,14.8"/>
<path class="b" d="M399.6,947.1l14.8,14.8m0-14.8l-14.8,14.8"/><path class="c" d="M399.6,947.1l14.8,14.8m0-14.8l-14.8,14.8"/>
<path class="b" d="M647.6,1013.1l14.8,14.8m0-14.8l-14.8,14.8"/><path class="c" d="M647.6,1013.1l14.8,14.8m0-14.8l-14.8,14.8"/>
<path class="b" d="M558.6,1101.1l14.8,14.8m0-14.8l-14.8,14.8"/><path class="c" d="M558.6,1101.1l14.8,14.8m0-14.8l-14.8,14.8"/>
<path class="b" d="M710.6,1049.1l14.8,14.8m0-14.8l-14.8,14.8"/><path class="c" d="M710.6,1049.1l14.8,14.8m0-14.8l-14.8,14.8"/>
<path class="b" d="M573.6,973.1l14.8,14.8m0-14.8l-14.8,14.8"/><path class="c" d="M573.6,973.1l14.8,14.8m0-14.8l-14.8,14.8"/>
<path class="b" d="M525.6,1115.1l14.8,14.8m0-14.8l-14.8,14.8"/><path class="c" d="M525.6,1115.1l14.8,14.8m0-14.8l-14.8,14.8"/>
<path class="b" d="M474.6,1036.1l14.8,14.8m0-14.8l-14.8,14.8"/><path class="c" d="M474.6,1036.1l14.8,14.8m0-14.8l-14.8,14.8"/>
<path class="b" d="M500.6,975.1l14.8,14.8m0-14.8l-14.8,14.8"/><path class="c" d="M500.6,975.1l14.8,14.8m0-14.8l-14.8,14.8"/>
<path class="b" d="M531.6,996.1l14.8,14.8m0-14.8l-14.8,14.8"/><path class="c" d="M531.6,996.1l14.8,14.8m0-14.8l-14.8,14.8"/>
<path class="b" d="M373.6,1010.1l14.8,14.8m0-14.8l-14.8,14.8"/><path class="c" d="M373.6,1010.1l14.8,14.8m0-14.8l-14.8,14.8"/>
<path class="b" d="M526.6,1137.1l14.8,14.8m0-14.8l-14.8,14.8"/><path class="c" d="M526.6,1137.1l14.8,14.8m0-14.8l-14.8,14.8"/>
<path class="b" d="M621.6,1016.1l14.8,14.8m0-14.8l-14.8,14.8"/><path class="c" d="M621.6,1016.1l14.8,14.8m0-14.8l-14.8,14.8"/>
<path class="b" d="M465.6,1099.1l14.8,14.8m0-14.8l-14.8,14.8"/><path class="c" d="M465.6,1099.1l14.8,14.8m0-14.8l-14.8,14.8"/>
<path class="b" d="M558.6,1078.1l14.8,14.8m0-14.8l-14.8,14.8"/><path class="c" d="M558.6,1078.1l14.8,14.8m0-14.8l-14.8,14.8"/>
<path class="b" d="M473.6,1033.1l14.8,14.8m0-14.8l-14.8,14.8"/><path class="c" d="M473.6,1033.1l14.8,14.8m0-14.8l-14.8,14.8"/>
<path class="b" d="M476.6,978.1l14.8,14.8m0-14.8l-14.8,14.8"/><path class="c" d="M476.6,978.1l14.8,14.8m0-14.8l-14.8,14.8"/>
<path class="b" d="M461.6,1112.1l14.8,14.8m0-14.8l-14.8,14.8"/><path class="c" d="M461.6,1112.1l14.8,14.8m0-14.8l-14.8,14.8"/>
<path class="b" d="M372.6,898.1l14.8,14.8m0-14.8l-14.8,14.8"/><path class="c" d="M372.6,898.1l14.8,14.8m0-14.8l-14.8,14.8"/>
<path class="b" d="M525.6,1109.1l14.8,14.8m0-14.8l-14.8,14.8"/><path class="c" d="M525.6,1109.1l14.8,14.8m0-14.8l-14.8,14.8"/>
<path class="b" d="M406.6,1061.1l14.8,14.8m0-14.8l-14.8,14.8"/><path class="c" d="M406.6,1061.1l14.8,14.8m0-14.8l-14.8,14.8"/>
<path class="b" d="M537.6,1010.1l14.8,14.8m0-14.8l-14.8,14.8"/><path class="c" d="M537.6,1010.1l14.8,14.8m0-14.8l-14.8,14.8"/>
<path class="b" d="M403.6,1128.1l14.8,14.8m0-14.8l-14.8,14.8"/><path class="c" d="M403.6,1128.1l14.8,14.8m0-14.8l-14.8,14.8"/>
<path class="b" d="M471.6,1153.1l14.8,14.8m0-14.8l-14.8,14.8"/><path class="c" d="M471.6,1153.1l14.8,14.8m0-14.8l-14.8,14.8"/>
<path class="b" d="M461.6,1107.1l14.8,14.8m0-14.8l-14.8,14.8"/><path class="c" d="M461.6,1107.1l14.8,14.8m0-14.8l-14.8,14.8"/>
<path class="b" d="M444.6,1095.1l14.8,14.8m0-14.8l-14.8,14.8"/><path class="c" d="M444.6,1095.1l14.8,14.8m0-14.8l-14.8,14.8"/>
<path class="b" d="M656.6,1042.1l14.8,14.8m0-14.8l-14.8,14.8"/><path class="c" d="M656.6,1042.1l14.8,14.8m0-14.8l-14.8,14.8"/>
<path class="b" d="M518.6,995.1l14.8,14.8m0-14.8l-14.8,14.8"/><path class="c" d="M518.6,995.1l14.8,14.8m0-14.8l-14.8,14.8"/>
<path class="b" d="M402.6,1009.1l14.8,14.8m0-14.8l-14.8,14.8"/><path class="c" d="M402.6,1009.1l14.8,14.8m0-14.8l-14.8,14.8"/>
<path class="b" d="M412.6,937.1l14.8,14.8m0-14.8l-14.8,14.8"/><path class="c" d="M412.6,937.1l14.8,14.8m0-14.8l-14.8,14.8"/>
<path class="b" d="M444.6,1018.1l14.8,14.8m0-14.8l-14.8,14.8"/><path class="c" d="M444.6,1018.1l14.8,14.8m0-14.8l-14.8,14.8"/>
<path class="b" d="M581.6,1022.1l14.8,14.8m0-14.8l-14.8,14.8"/><path class="c" d="M581.6,1022.1l14.8,14.8m0-14.8l-14.8,14.8"/>
<path class="b" d="M614.6,1054.1l14.8,14.8m0-14.8l-14.8,14.8"/><path class="c" d="M614.6,1054.1l14.8,14.8m0-14.8l-14.8,14.8"/>
<path class="b" d="M585.6,998.1l14.8,14.8m0-14.8l-14.8,14.8"/><path class="c" d="M585.6,998.1l14.8,14.8m0-14.8l-14.8,14.8"/>
<path class="b" d="M520.6,991.1l14.8,14.8m0-14.8l-14.8,14.8"/><path class="c" d="M520.6,991.1l14.8,14.8m0-14.8l-14.8,14.8"/>
<path class="b" d="M619.6,1063.1l14.8,14.8m0-14.8l-14.8,14.8"/><path class="c" d="M619.6,1063.1l14.8,14.8m0-14.8l-14.8,14.8"/>
<path class="b" d="M354.6,1069.1l14.8,14.8m0-14.8l-14.8,14.8"/><path class="c" d="M354.6,1069.1l14.8,14.8m0-14.8l-14.8,14.8"/>
<path class="b" d="M427.6,982.1l14.8,14.8m0-14.8l-14.8,14.8"/><path class="c" d="M427.6,982.1l14.8,14.8m0-14.8l-14.8,14.8"/>
<path class="b" d="M472.6,1051.1l14.8,14.8m0-14.8l-14.8,14.8"/><path class="c" d="M472.6,1051.1l14.8,14.8m0-14.8l-14.8,14.8"/>
<path class="b" d="M416.6,1058.1l14.8,14.8m0-14.8l-14.8,14.8"/><path class="c" d="M416.6,1058.1l14.8,14.8m0-14.8l-14.8,14.8"/>
<path class="b" d="M425.6,948.1l14.8,14.8m0-14.8l-14.8,14.8"/><path class="c" d="M425.6,948.1l14.8,14.8m0-14.8l-14.8,14.8"/>
<path class="b" d="M521.6,1143.1l14.8,14.8m0-14.8l-14.8,14.8"/><path class="c" d="M521.6,1143.1l14.8,14.8m0-14.8l-14.8,14.8"/>
<path class="b" d="M288.6,958.1l14.8,14.8m0-14.8l-14.8,14.8"/><path class="c" d="M288.6,958.1l14.8,14.8m0-14.8l-14.8,14.8"/>
<path class="b" d="M402.6,914.1l14.8,14.8m0-14.8l-14.8,14.8"/><path class="c" d="M402.6,914.1l14.8,14.8m0-14.8l-14.8,14.8"/>
<path class="b" d="M520.6,1052.1l14.8,14.8m0-14.8l-14.8,14.8"/><path class="c" d="M520.6,1052.1l14.8,14.8m0-14.8l-14.8,14.8"/>
<path class="b" d="M501.6,1050.1l14.8,14.8m0-14.8l-14.8,14.8"/><path class="c" d="M501.6,1050.1l14.8,14.8m0-14.8l-14.8,14.8"/>
<path class="b" d="M445.6,1123.1l14.8,14.8m0-14.8l-14.8,14.8"/><path class="c" d="M445.6,1123.1l14.8,14.8m0-14.8l-14.8,14.8"/>
<path class="b" d="M412.6,1094.1l14.8,14.8m0-14.8l-14.8,14.8"/><path class="c" d="M412.6,1094.1l14.8,14.8m0-14.8l-14.8,14.8"/>
<path class="b" d="M494.6,1132.1l14.8,14.8m0-14.8l-14.8,14.8"/><path class="c" d="M494.6,1132.1l14.8,14.8m0-14.8l-14.8,14.8"/>
<path class="b" d="M370.6,981.1l14.8,14.8m0-14.8l-14.8,14.8"/><path class="c" d="M370.6,981.1l14.8,14.8m0-14.8l-14.8,14.8"/>
<path class="b" d="M418.6,953.1l14.8,14.8m0-14.8l-14.8,14.8"/><path class="c" d="M418.6,953.1l14.8,14.8m0-14.8l-14.8,14.8"/>
<path class="b" d="M429.6,960.1l14.8,14.8m0-14.8l-14.8,14.8"/><path class="c" d="M429.6,960.1l14.8,14.8m0-14.8l-14.8,14.8"/>
<path class="b" d="M546.6,1025.1l14.8,14.8m0-14.8l-14.8,14.8"/><path class="c" d="M546.6,1025.1l14.8,14.8m0-14.8l-14.8,14.8"/>
<path class="b" d="M417.6,1056.1l14.8,14.8m0-14.8l-14.8,14.8"/><path class="c" d="M417.6,1056.1l14.8,14.8m0-14.8l-14.8,14.8"/>
<path class="b" d="M518.6,1152.1l14.8,14.8m0-14.8l-14.8,14.8"/><path class="c" d="M518.6,1152.1l14.8,14.8m0-14.8l-14.8,14.8"/>
<path class="b" d="M419.6,1124.1l14.8,14.8m0-14.8l-14.8,14.8"/><path class="c" d="M419.6,1124.1l14.8,14.8m0-14.8l-14.8,14.8"/>
<path class="b" d="M417.6,1005.1l14.8,14.8m0-14.8l-14.8,14.8"/><path class="c" d="M417.6,1005.1l14.8,14.8m0-14.8l-14.8,14.8"/>
<path class="b" d="M607.6,1057.1l14.8,14.8m0-14.8l-14.8,14.8"/><path class="c" d="M607.6,1057.1l14.8,14.8m0-14.8l-14.8,14.8"/>
<path class="b" d="M420.6,999.1l14.8,14.8m0-14.8l-14.8,14.8"/><path class="c" d="M420.6,999.1l14.8,14.8m0-14.8l-14.8,14.8"/>
<path class="b" d="M603.6,1088.1l14.8,14.8m0-14.8l-14.8,14.8"/><path class="c" d="M603.6,1088.1l14.8,14.8m0-14.8l-14.8,14.8"/>
<path class="b" d="M322.6,1057.1l14.8,14.8m0-14.8l-14.8,14.8"/><path class="c" d="M322.6,1057.1l14.8,14.8m0-14.8l-14.8,14.8"/>
<path class="b" d="M451.6,1128.1l14.8,14.8m0-14.8l-14.8,14.8"/><path class="c" d="M451.6,1128.1l14.8,14.8m0-14.8l-14.8,14.8"/>
<path class="b" d="M486.6,1104.1l14.8,14.8m0-14.8l-14.8,14.8"/><path class="c" d="M486.6,1104.1l14.8,14.8m0-14.8l-14.8,14.8"/>
<path class="b" d="M560.6,1116.1l14.8,14.8m0-14.8l-14.8,14.8"/><path class="c" d="M560.6,1116.1l14.8,14.8m0-14.8l-14.8,14.8"/>
<path class="b" d="M257.6,1239.1l14.8,14.8m0-14.8l-14.8,14.8"/><path class="c" d="M257.6,1239.1l14.8,14.8m0-14.8l-14.8,14.8"/>
<path class="b" d="M498.6,1076.1l14.8,14.8m0-14.8l-14.8,14.8"/><path class="c" d="M498.6,1076.1l14.8,14.8m0-14.8l-14.8,14.8"/>
<path class="b" d="M421.6,1063.1l14.8,14.8m0-14.8l-14.8,14.8"/><path class="c" d="M421.6,1063.1l14.8,14.8m0-14.8l-14.8,14.8"/>
<path class="b" d="M398.6,1052.1l14.8,14.8m0-14.8l-14.8,14.8"/><path class="c" d="M398.6,1052.1l14.8,14.8m0-14.8l-14.8,14.8"/>
<path class="b" d="M611.6,1052.1l14.8,14.8m0-14.8l-14.8,14.8"/><path class="c" d="M611.6,1052.1l14.8,14.8m0-14.8l-14.8,14.8"/>
<path class="b" d="M492.6,1066.1l14.8,14.8m0-14.8l-14.8,14.8"/><path class="c" d="M492.6,1066.1l14.8,14.8m0-14.8l-14.8,14.8"/>
<path class="b" d="M455.6,1035.1l14.8,14.8m0-14.8l-14.8,14.8"/><path class="c" d="M455.6,1035.1l14.8,14.8m0-14.8l-14.8,14.8"/>
<path class="b" d="M548.6,1027.1l14.8,14.8m0-14.8l-14.8,14.8"/><path class="c" d="M548.6,1027.1l14.8,14.8m0-14.8l-14.8,14.8"/>
<path class="b" d="M541.6,1031.1l14.8,14.8m0-14.8l-14.8,14.8"/><path class="c" d="M541.6,1031.1l14.8,14.8m0-14.8l-14.8,14.8"/>
<path class="b" d="M409.6,992.1l14.8,14.8m0-14.8l-14.8,14.8"/><path class="c" d="M409.6,992.1l14.8,14.8m0-14.8l-14.8,14.8"/>
<path class="b" d="M561.6,1033.1l14.8,14.8m0-14.8l-14.8,14.8"/><path class="c" d="M561.6,1033.1l14.8,14.8m0-14.8l-14.8,14.8"/>
<path class="b" d="M458.6,1154.1l14.8,14.8m0-14.8l-14.8,14.8"/><path class="c" d="M458.6,1154.1l14.8,14.8m0-14.8l-14.8,14.8"/>
<path class="b" d="M530.6,1023.1l14.8,14.8m0-14.8l-14.8,14.8"/><path class="c" d="M530.6,1023.1l14.8,14.8m0-14.8l-14.8,14.8"/>
<path class="b" d="M350.6,1117.1l14.8,14.8m0-14.8l-14.8,14.8"/><path class="c" d="M350.6,1117.1l14.8,14.8m0-14.8l-14.8,14.8"/>
<path class="b" d="M575.6,1070.1l14.8,14.8m0-14.8l-14.8,14.8"/><path class="c" d="M575.6,1070.1l14.8,14.8m0-14.8l-14.8,14.8"/>
<path class="b" d="M421.6,1031.1l14.8,14.8m0-14.8l-14.8,14.8"/><path class="c" d="M421.6,1031.1l14.8,14.8m0-14.8l-14.8,14.8"/>
<path class="b" d="M479.6,1029.1l14.8,14.8m0-14.8l-14.8,14.8"/><path class="c" d="M479.6,1029.1l14.8,14.8m0-14.8l-14.8,14.8"/>
<path class="b" d="M739.6,1038.1l14.8,14.8m0-14.8l-14.8,14.8"/><path class="c" d="M739.6,1038.1l14.8,14.8m0-14.8l-14.8,14.8"/>
<path class="b" d="M635.6,1082.1l14.8,14.8m0-14.8l-14.8,14.8"/><path class="c" d="M635.6,1082.1l14.8,14.8m0-14.8l-14.8,14.8"/>
<path class="b" d="M461.6,1146.1l14.8,14.8m0-14.8l-14.8,14.8"/><path class="c" d="M461.6,1146.1l14.8,14.8m0-14.8l-14.8,14.8"/>
<path class="b" d="M373.6,1059.1l14.8,14.8m0-14.8l-14.8,14.8"/><path class="c" d="M373.6,1059.1l14.8,14.8m0-14.8l-14.8,14.8"/>
<path class="b" d="M337.6,1018.1l14.8,14.8m0-14.8l-14.8,14.8"/><path class="c" d="M337.6,1018.1l14.8,14.8m0-14.8l-14.8,14.8"/>
<path class="b" d="M598.6,1022.1l14.8,14.8m0-14.8l-14.8,14.8"/><path class="c" d="M598.6,1022.1l14.8,14.8m0-14.8l-14.8,14.8"/>
<path class="b" d="M455.6,1009.1l14.8,14.8m0-14.8l-14.8,14.8"/><path class="c" d="M455.6,1009.1l14.8,14.8m0-14.8l-14.8,14.8"/>
<path class="b" d="M484.6,1106.1l14.8,14.8m0-14.8l-14.8,14.8"/><path class="c" d="M484.6,1106.1l14.8,14.8m0-14.8l-14.8,14.8"/>
<path class="b" d="M414.6,980.1l14.8,14.8m0-14.8l-14.8,14.8"/><path class="c" d="M414.6,980.1l14.8,14.8m0-14.8l-14.8,14.8"/>
<path class="b" d="M399.6,998.1l14.8,14.8m0-14.8l-14.8,14.8"/><path class="c" d="M399.6,998.1l14.8,14.8m0-14.8l-14.8,14.8"/>
<path class="b" d="M424.6,1144.1l14.8,14.8m0-14.8l-14.8,14.8"/><path class="c" d="M424.6,1144.1l14.8,14.8m0-14.8l-14.8,14.8"/>
<path class="b" d="M541.6,974.1l14.8,14.8m0-14.8l-14.8,14.8"/><path class="c" d="M541.6,974.1l14.8,14.8m0-14.8l-14.8,14.8"/>
<path class="b" d="M399.6,1031.1l14.8,14.8m0-14.8l-14.8,14.8"/><path class="c" d="M399.6,1031.1l14.8,14.8m0-14.8l-14.8,14.8"/>
<path class="b" d="M485.6,967.1l14.8,14.8m0-14.8l-14.8,14.8"/><path class="c" d="M485.6,967.1l14.8,14.8m0-14.8l-14.8,14.8"/>
<path class="b" d="M405.6,1049.1l14.8,14.8m0-14.8l-14.8,14.8"/><path class="c" d="M405.6,1049.1l14.8,14.8m0-14.8l-14.8,14.8"/>
<path class="b" d="M463.6,1034.1l14.8,14.8m0-14.8l-14.8,14.8"/><path class="c" d="M463.6,1034.1l14.8,14.8m0-14.8l-14.8,14.8"/>
<path class="b" d="M493.6,1080.1l14.8,14.8m0-14.8l-14.8,14.8"/><path class="c" d="M493.6,1080.1l14.8,14.8m0-14.8l-14.8,14.8"/>
<path class="b" d="M569.6,1082.1l14.8,14.8m0-14.8l-14.8,14.8"/><path class="c" d="M569.6,1082.1l14.8,14.8m0-14.8l-14.8,14.8"/>
<path class="b" d="M591.6,1021.1l14.8,14.8m0-14.8l-14.8,14.8"/><path class="c" d="M591.6,1021.1l14.8,14.8m0-14.8l-14.8,14.8"/>
<path class="b" d="M400.6,1117.1l14.8,14.8m0-14.8l-14.8,14.8"/><path class="c" d="M400.6,1117.1l14.8,14.8m0-14.8l-14.8,14.8"/>
<path class="b" d="M547.6,980.1l14.8,14.8m0-14.8l-14.8,14.8"/><path class="c" d="M547.6,980.1l14.8,14.8m0-14.8l-14.8,14.8"/>
<path class="b" d="M711.6,1071.1l14.8,14.8m0-14.8l-14.8,14.8"/><path class="c" d="M711.6,1071.1l14.8,14.8m0-14.8l-14.8,14.8"/>
<path class="b" d="M440.6,1074.1l14.8,14.8m0-14.8l-14.8,14.8"/><path class="c" d="M440.6,1074.1l14.8,14.8m0-14.8l-14.8,14.8"/>
<path class="b" d="M480.6,1064.1l14.8,14.8m0-14.8l-14.8,14.8"/><path class="c" d="M480.6,1064.1l14.8,14.8m0-14.8l-14.8,14.8"/>
<path class="b" d="M450.6,995.1l14.8,14.8m0-14.8l-14.8,14.8"/><path class="c" d="M450.6,995.1l14.8,14.8m0-14.8l-14.8,14.8"/>
<path class="b" d="M366.6,996.1l14.8,14.8m0-14.8l-14.8,14.8"/><path class="c" d="M366.6,996.1l14.8,14.8m0-14.8l-14.8,14.8"/>
<path class="b" d="M520.6,1083.1l14.8,14.8m0-14.8l-14.8,14.8"/><path class="c" d="M520.6,1083.1l14.8,14.8m0-14.8l-14.8,14.8"/>
<path class="b" d="M359.6,914.1l14.8,14.8m0-14.8l-14.8,14.8"/><path class="c" d="M359.6,914.1l14.8,14.8m0-14.8l-14.8,14.8"/>
<path class="b" d="M433.6,950.1l14.8,14.8m0-14.8l-14.8,14.8"/><path class="c" d="M433.6,950.1l14.8,14.8m0-14.8l-14.8,14.8"/>
<path class="b" d="M408.6,1102.1l14.8,14.8m0-14.8l-14.8,14.8"/><path class="c" d="M408.6,1102.1l14.8,14.8m0-14.8l-14.8,14.8"/>
<path class="b" d="M424.6,1123.1l14.8,14.8m0-14.8l-14.8,14.8"/><path class="c" d="M424.6,1123.1l14.8,14.8m0-14.8l-14.8,14.8"/>
<path class="b" d="M363.6,1077.1l14.8,14.8m0-14.8l-14.8,14.8"/><path class="c" d="M363.6,1077.1l14.8,14.8m0-14.8l-14.8,14.8"/>
<path class="b" d="M441.6,1074.1l14.8,14.8m0-14.8l-14.8,14.8"/><path class="c" d="M441.6,1074.1l14.8,14.8m0-14.8l-14.8,14.8"/>
<path class="b" d="M378.6,1014.1l14.8,14.8m0-14.8l-14.8,14.8"/><path class="c" d="M378.6,1014.1l14.8,14.8m0-14.8l-14.8,14.8"/>
<path class="b" d="M462.6,981.1l14.8,14.8m0-14.8l-14.8,14.8"/><path class="c" d="M462.6,981.1l14.8,14.8m0-14.8l-14.8,14.8"/>
<path class="b" d="M518.6,1120.1l14.8,14.8m0-14.8l-14.8,14.8"/><path class="c" d="M518.6,1120.1l14.8,14.8m0-14.8l-14.8,14.8"/>
<path class="b" d="M432.6,1065.1l14.8,14.8m0-14.8l-14.8,14.8"/><path class="c" d="M432.6,1065.1l14.8,14.8m0-14.8l-14.8,14.8"/>
<path class="b" d="M501.6,1132.1l14.8,14.8m0-14.8l-14.8,14.8"/><path class="c" d="M501.6,1132.1l14.8,14.8m0-14.8l-14.8,14.8"/>
<path class="b" d="M381.6,981.1l14.8,14.8m0-14.8l-14.8,14.8"/><path class="c" d="M381.6,981.1l14.8,14.8m0-14.8l-14.8,14.8"/>
<path class="b" d="M605.6,1045.1l14.8,14.8m0-14.8l-14.8,14.8"/><path class="c" d="M605.6,1045.1l14.8,14.8m0-14.8l-14.8,14.8"/>
<path class="b" d="M436.6,990.1l14.8,14.8m0-14.8l-14.8,14.8"/><path class="c" d="M436.6,990.1l14.8,14.8m0-14.8l-14.8,14.8"/>
<path class="b" d="M316.6,996.1l14.8,14.8m0-14.8l-14.8,14.8"/><path class="c" d="M316.6,996.1l14.8,14.8m0-14.8l-14.8,14.8"/>
<path class="b" d="M557.6,1010.1l14.8,14.8m0-14.8l-14.8,14.8"/><path class="c" d="M557.6,1010.1l14.8,14.8m0-14.8l-14.8,14.8"/>
<path class="b" d="M446.6,1094.1l14.8,14.8m0-14.8l-14.8,14.8"/><path class="c" d="M446.6,1094.1l14.8,14.8m0-14.8l-14.8,14.8"/>
<path class="b" d="M565.6,1071.1l14.8,14.8m0-14.8l-14.8,14.8"/><path class="c" d="M565.6,1071.1l14.8,14.8m0-14.8l-14.8,14.8"/>
<path class="b" d="M474.6,1013.1l14.8,14.8m0-14.8l-14.8,14.8"/><path class="c" d="M474.6,1013.1l14.8,14.8m0-14.8l-14.8,14.8"/>
<path class="b" d="M386.6,959.1l14.8,14.8m0-14.8l-14.8,14.8"/><path class="c" d="M386.6,959.1l14.8,14.8m0-14.8l-14.8,14.8"/>
<path class="b" d="M396.6,980.1l14.8,14.8m0-14.8l-14.8,14.8"/><path class="c" d="M396.6,980.1l14.8,14.8m0-14.8l-14.8,14.8"/>
<path class="b" d="M410.6,1140.1l14.8,14.8m0-14.8l-14.8,14.8"/><path class="c" d="M410.6,1140.1l14.8,14.8m0-14.8l-14.8,14.8"/>
<path class="b" d="M469.6,1097.1l14.8,14.8m0-14.8l-14.8,14.8"/><path class="c" d="M469.6,1097.1l14.8,14.8m0-14.8l-14.8,14.8"/>
<path class="b" d="M486.6,1137.1l14.8,14.8m0-14.8l-14.8,14.8"/><path class="c" d="M486.6,1137.1l14.8,14.8m0-14.8l-14.8,14.8"/>
<path class="b" d="M585.6,1093.1l14.8,14.8m0-14.8l-14.8,14.8"/><path class="c" d="M585.6,1093.1l14.8,14.8m0-14.8l-14.8,14.8"/>
<path class="b" d="M524.6,1082.1l14.8,14.8m0-14.8l-14.8,14.8"/><path class="c" d="M524.6,1082.1l14.8,14.8m0-14.8l-14.8,14.8"/>
<path class="b" d="M434.6,1064.1l14.8,14.8m0-14.8l-14.8,14.8"/><path class="c" d="M434.6,1064.1l14.8,14.8m0-14.8l-14.8,14.8"/>
<path class="b" d="M456.6,955.1l14.8,14.8m0-14.8l-14.8,14.8"/><path class="c" d="M456.6,955.1l14.8,14.8m0-14.8l-14.8,14.8"/>
<path class="b" d="M509.6,1050.1l14.8,14.8m0-14.8l-14.8,14.8"/><path class="c" d="M509.6,1050.1l14.8,14.8m0-14.8l-14.8,14.8"/>
<path class="b" d="M398.6,1005.1l14.8,14.8m0-14.8l-14.8,14.8"/><path class="c" d="M398.6,1005.1l14.8,14.8m0-14.8l-14.8,14.8"/>
<path class="b" d="M391.6,1041.1l14.8,14.8m0-14.8l-14.8,14.8"/><path class="c" d="M391.6,1041.1l14.8,14.8m0-14.8l-14.8,14.8"/>
<path class="b" d="M486.6,1114.1l14.8,14.8m0-14.8l-14.8,14.8"/><path class="c" d="M486.6,1114.1l14.8,14.8m0-14.8l-14.8,14.8"/>
<path class="b" d="M521.6,1097.1l14.8,14.8m0-14.8l-14.8,14.8"/><path class="c" d="M521.6,1097.1l14.8,14.8m0-14.8l-14.8,14.8"/>
<path class="b" d="M590.6,1072.1l14.8,14.8m0-14.8l-14.8,14.8"/><path class="c" d="M590.6,1072.1l14.8,14.8m0-14.8l-14.8,14.8"/>
<path class="b" d="M559.6,1017.1l14.8,14.8m0-14.8l-14.8,14.8"/><path class="c" d="M559.6,1017.1l14.8,14.8m0-14.8l-14.8,14.8"/>
<path class="b" d="M401.6,1090.1l14.8,14.8m0-14.8l-14.8,14.8"/><path class="c" d="M401.6,1090.1l14.8,14.8m0-14.8l-14.8,14.8"/>
<path class="b" d="M585.6,1038.1l14.8,14.8m0-14.8l-14.8,14.8"/><path class="c" d="M585.6,1038.1l14.8,14.8m0-14.8l-14.8,14.8"/>
<path class="b" d="M441.6,1016.1l14.8,14.8m0-14.8l-14.8,14.8"/><path class="c" d="M441.6,1016.1l14.8,14.8m0-14.8l-14.8,14.8"/>
<path class="b" d="M663.6,1068.1l14.8,14.8m0-14.8l-14.8,14.8"/><path class="c" d="M663.6,1068.1l14.8,14.8m0-14.8l-14.8,14.8"/>
<path class="b" d="M508.6,1142.1l14.8,14.8m0-14.8l-14.8,14.8"/><path class="c" d="M508.6,1142.1l14.8,14.8m0-14.8l-14.8,14.8"/>
<path class="b" d="M150.6,703.1l14.8,14.8m0-14.8l-14.8,14.8"/><path class="c" d="M150.6,703.1l14.8,14.8m0-14.8l-14.8,14.8"/>
<path class="b" d="M596.6,1081.1l14.8,14.8m0-14.8l-14.8,14.8"/><path class="c" d="M596.6,1081.1l14.8,14.8m0-14.8l-14.8,14.8"/>
<path class="b" d="M394.6,1212.1l14.8,14.8m0-14.8l-14.8,14.8"/><path class="c" d="M394.6,1212.1l14.8,14.8m0-14.8l-14.8,14.8"/>
<path class="b" d="M528.6,1032.1l14.8,14.8m0-14.8l-14.8,14.8"/><path class="c" d="M528.6,1032.1l14.8,14.8m0-14.8l-14.8,14.8"/>
<path class="b" d="M569.6,1053.1l14.8,14.8m0-14.8l-14.8,14.8"/><path class="c" d="M569.6,1053.1l14.8,14.8m0-14.8l-14.8,14.8"/>
<path class="b" d="M434.6,1032.1l14.8,14.8m0-14.8l-14.8,14.8"/><path class="c" d="M434.6,1032.1l14.8,14.8m0-14.8l-14.8,14.8"/>
<path class="b" d="M434.6,1125.1l14.8,14.8m0-14.8l-14.8,14.8"/><path class="c" d="M434.6,1125.1l14.8,14.8m0-14.8l-14.8,14.8"/>
<path class="b" d="M393.6,983.1l14.8,14.8m0-14.8l-14.8,14.8"/><path class="c" d="M393.6,983.1l14.8,14.8m0-14.8l-14.8,14.8"/>
<path class="b" d="M506.6,1146.1l14.8,14.8m0-14.8l-14.8,14.8"/><path class="c" d="M506.6,1146.1l14.8,14.8m0-14.8l-14.8,14.8"/>
<path class="b" d="M474.6,966.1l14.8,14.8m0-14.8l-14.8,14.8"/><path class="c" d="M474.6,966.1l14.8,14.8m0-14.8l-14.8,14.8"/>
<path class="b" d="M450.6,1014.1l14.8,14.8m0-14.8l-14.8,14.8"/><path class="c" d="M450.6,1014.1l14.8,14.8m0-14.8l-14.8,14.8"/>
<path class="b" d="M402.6,993.1l14.8,14.8m0-14.8l-14.8,14.8"/><path class="c" d="M402.6,993.1l14.8,14.8m0-14.8l-14.8,14.8"/>
<path class="b" d="M567.6,1050.1l14.8,14.8m0-14.8l-14.8,14.8"/><path class="c" d="M567.6,1050.1l14.8,14.8m0-14.8l-14.8,14.8"/>
<path class="b" d="M507.6,1138.1l14.8,14.8m0-14.8l-14.8,14.8"/><path class="c" d="M507.6,1138.1l14.8,14.8m0-14.8l-14.8,14.8"/>
<path class="b" d="M450.6,1154.1l14.8,14.8m0-14.8l-14.8,14.8"/><path class="c" d="M450.6,1154.1l14.8,14.8m0-14.8l-14.8,14.8"/>
<path class="b" d="M535.6,1120.1l14.8,14.8m0-14.8l-14.8,14.8"/><path class="c" d="M535.6,1120.1l14.8,14.8m0-14.8l-14.8,14.8"/>
<path class="b" d="M407.6,1179.1l14.8,14.8m0-14.8l-14.8,14.8"/><path class="c" d="M407.6,1179.1l14.8,14.8m0-14.8l-14.8,14.8"/>
<path class="b" d="M624.6,1067.1l14.8,14.8m0-14.8l-14.8,14.8"/><path class="c" d="M624.6,1067.1l14.8,14.8m0-14.8l-14.8,14.8"/>
<path class="b" d="M683.6,1044.1l14.8,14.8m0-14.8l-14.8,14.8"/><path class="c" d="M683.6,1044.1l14.8,14.8m0-14.8l-14.8,14.8"/>
<path class="b" d="M409.6,1137.1l14.8,14.8m0-14.8l-14.8,14.8"/><path class="c" d="M409.6,1137.1l14.8,14.8m0-14.8l-14.8,14.8"/>
<path class="b" d="M385.6,1112.1l14.8,14.8m0-14.8l-14.8,14.8"/><path class="c" d="M385.6,1112.1l14.8,14.8m0-14.8l-14.8,14.8"/>
<path class="b" d="M189.6,773.1l14.8,14.8m0-14.8l-14.8,14.8"/><path class="c" d="M189.6,773.1l14.8,14.8m0-14.8l-14.8,14.8"/>
<path class="b" d="M682.6,1056.1l14.8,14.8m0-14.8l-14.8,14.8"/><path class="c" d="M682.6,1056.1l14.8,14.8m0-14.8l-14.8,14.8"/>
<path class="b" d="M443.6,968.1l14.8,14.8m0-14.8l-14.8,14.8"/><path class="c" d="M443.6,968.1l14.8,14.8m0-14.8l-14.8,14.8"/>
<path class="b" d="M459.6,1059.1l14.8,14.8m0-14.8l-14.8,14.8"/><path class="c" d="M459.6,1059.1l14.8,14.8m0-14.8l-14.8,14.8"/>
<path class="b" d="M445.6,1104.1l14.8,14.8m0-14.8l-14.8,14.8"/><path class="c" d="M445.6,1104.1l14.8,14.8m0-14.8l-14.8,14.8"/>
<path class="b" d="M443.6,1066.1l14.8,14.8m0-14.8l-14.8,14.8"/><path class="c" d="M443.6,1066.1l14.8,14.8m0-14.8l-14.8,14.8"/>
<path class="b" d="M494.6,1041.1l14.8,14.8m0-14.8l-14.8,14.8"/><path class="c" d="M494.6,1041.1l14.8,14.8m0-14.8l-14.8,14.8"/>
<path class="b" d="M417.6,950.1l14.8,14.8m0-14.8l-14.8,14.8"/><path class="c" d="M417.6,950.1l14.8,14.8m0-14.8l-14.8,14.8"/>
<path class="b" d="M561.6,1023.1l14.8,14.8m0-14.8l-14.8,14.8"/><path class="c" d="M561.6,1023.1l14.8,14.8m0-14.8l-14.8,14.8"/>
<path class="b" d="M403.6,1060.1l14.8,14.8m0-14.8l-14.8,14.8"/><path class="c" d="M403.6,1060.1l14.8,14.8m0-14.8l-14.8,14.8"/>
<path class="b" d="M469.6,1035.1l14.8,14.8m0-14.8l-14.8,14.8"/><path class="c" d="M469.6,1035.1l14.8,14.8m0-14.8l-14.8,14.8"/>
<path class="b" d="M612.6,1050.1l14.8,14.8m0-14.8l-14.8,14.8"/><path class="c" d="M612.6,1050.1l14.8,14.8m0-14.8l-14.8,14.8"/>
<path class="b" d="M575.6,1018.1l14.8,14.8m0-14.8l-14.8,14.8"/><path class="c" d="M575.6,1018.1l14.8,14.8m0-14.8l-14.8,14.8"/>
<path class="b" d="M459.6,1164.1l14.8,14.8m0-14.8l-14.8,14.8"/><path class="c" d="M459.6,1164.1l14.8,14.8m0-14.8l-14.8,14.8"/>
<path class="b" d="M422.6,1059.1l14.8,14.8m0-14.8l-14.8,14.8"/><path class="c" d="M422.6,1059.1l14.8,14.8m0-14.8l-14.8,14.8"/>
<path class="b" d="M375.6,1132.1l14.8,14.8m0-14.8l-14.8,14.8"/><path class="c" d="M375.6,1132.1l14.8,14.8m0-14.8l-14.8,14.8"/>
<path class="b" d="M393.6,1111.1l14.8,14.8m0-14.8l-14.8,14.8"/><path class="c" d="M393.6,1111.1l14.8,14.8m0-14.8l-14.8,14.8"/>
<path class="b" d="M465.6,974.1l14.8,14.8m0-14.8l-14.8,14.8"/><path class="c" d="M465.6,974.1l14.8,14.8m0-14.8l-14.8,14.8"/>
<path class="b" d="M379.6,1148.1l14.8,14.8m0-14.8l-14.8,14.8"/><path class="c" d="M379.6,1148.1l14.8,14.8m0-14.8l-14.8,14.8"/>
<path class="b" d="M356.6,1045.1l14.8,14.8m0-14.8l-14.8,14.8"/><path class="c" d="M356.6,1045.1l14.8,14.8m0-14.8l-14.8,14.8"/>
<path class="b" d="M369.6,1034.1l14.8,14.8m0-14.8l-14.8,14.8"/><path class="c" d="M369.6,1034.1l14.8,14.8m0-14.8l-14.8,14.8"/>
<path class="b" d="M507.6,1069.1l14.8,14.8m0-14.8l-14.8,14.8"/><path class="c" d="M507.6,1069.1l14.8,14.8m0-14.8l-14.8,14.8"/>
<path class="b" d="M180.6,827.1l14.8,14.8m0-14.8l-14.8,14.8"/><path class="c" d="M180.6,827.1l14.8,14.8m0-14.8l-14.8,14.8"/>
<path class="b" d="M595.6,1046.1l14.8,14.8m0-14.8l-14.8,14.8"/><path class="c" d="M595.6,1046.1l14.8,14.8m0-14.8l-14.8,14.8"/>
<path class="b" d="M445.6,1022.1l14.8,14.8m0-14.8l-14.8,14.8"/><path class="c" d="M445.6,1022.1l14.8,14.8m0-14.8l-14.8,14.8"/>
<path class="b" d="M487.6,1013.1l14.8,14.8m0-14.8l-14.8,14.8"/><path class="c" d="M487.6,1013.1l14.8,14.8m0-14.8l-14.8,14.8"/>
<path class="b" d="M448.6,959.1l14.8,14.8m0-14.8l-14.8,14.8"/><path class="c" d="M448.6,959.1l14.8,14.8m0-14.8l-14.8,14.8"/>
<path class="b" d="M384.6,957.1l14.8,14.8m0-14.8l-14.8,14.8"/><path class="c" d="M384.6,957.1l14.8,14.8m0-14.8l-14.8,14.8"/>
<path class="b" d="M554.6,1072.1l14.8,14.8m0-14.8l-14.8,14.8"/><path class="c" d="M554.6,1072.1l14.8,14.8m0-14.8l-14.8,14.8"/>
<path class="b" d="M551.6,1021.1l14.8,14.8m0-14.8l-14.8,14.8"/><path class="c" d="M551.6,1021.1l14.8,14.8m0-14.8l-14.8,14.8"/>
<path class="b" d="M501.6,1097.1l14.8,14.8m0-14.8l-14.8,14.8"/><path class="c" d="M501.6,1097.1l14.8,14.8m0-14.8l-14.8,14.8"/>
<path class="b" d="M466.6,1051.1l14.8,14.8m0-14.8l-14.8,14.8"/><path class="c" d="M466.6,1051.1l14.8,14.8m0-14.8l-14.8,14.8"/>
<path class="b" d="M474.6,1134.1l14.8,14.8m0-14.8l-14.8,14.8"/><path class="c" d="M474.6,1134.1l14.8,14.8m0-14.8l-14.8,14.8"/>
<path class="b" d="M481.6,1109.1l14.8,14.8m0-14.8l-14.8,14.8"/><path class="c" d="M481.6,1109.1l14.8,14.8m0-14.8l-14.8,14.8"/>
<path class="b" d="M677.6,1041.1l14.8,14.8m0-14.8l-14.8,14.8"/><path class="c" d="M677.6,1041.1l14.8,14.8m0-14.8l-14.8,14.8"/>
<path class="b" d="M512.6,996.1l14.8,14.8m0-14.8l-14.8,14.8"/><path class="c" d="M512.6,996.1l14.8,14.8m0-14.8l-14.8,14.8"/>
<path class="b" d="M396.6,1080.1l14.8,14.8m0-14.8l-14.8,14.8"/><path class="c" d="M396.6,1080.1l14.8,14.8m0-14.8l-14.8,14.8"/>
<path class="b" d="M428.6,1099.1l14.8,14.8m0-14.8l-14.8,14.8"/><path class="c" d="M428.6,1099.1l14.8,14.8m0-14.8l-14.8,14.8"/>
<path class="b" d="M385.6,1272.1l14.8,14.8m0-14.8l-14.8,14.8"/><path class="c" d="M385.6,1272.1l14.8,14.8m0-14.8l-14.8,14.8"/>
<path class="b" d="M438.6,984.1l14.8,14.8m0-14.8l-14.8,14.8"/><path class="c" d="M438.6,984.1l14.8,14.8m0-14.8l-14.8,14.8"/>
<path class="b" d="M572.6,1028.1l14.8,14.8m0-14.8l-14.8,14.8"/><path class="c" d="M572.6,1028.1l14.8,14.8m0-14.8l-14.8,14.8"/>
<path class="b" d="M428.6,1152.1l14.8,14.8m0-14.8l-14.8,14.8"/><path class="c" d="M428.6,1152.1l14.8,14.8m0-14.8l-14.8,14.8"/>
<path class="b" d="M524.6,1054.1l14.8,14.8m0-14.8l-14.8,14.8"/><path class="c" d="M524.6,1054.1l14.8,14.8m0-14.8l-14.8,14.8"/>
<path class="b" d="M403.6,1071.1l14.8,14.8m0-14.8l-14.8,14.8"/><path class="c" d="M403.6,1071.1l14.8,14.8m0-14.8l-14.8,14.8"/>
<path class="b" d="M284.6,927.1l14.8,14.8m0-14.8l-14.8,14.8"/><path class="c" d="M284.6,927.1l14.8,14.8m0-14.8l-14.8,14.8"/>
<path class="b" d="M411.6,1172.1l14.8,14.8m0-14.8l-14.8,14.8"/><path class="c" d="M411.6,1172.1l14.8,14.8m0-14.8l-14.8,14.8"/>
<path class="b" d="M387.6,1169.1l14.8,14.8m0-14.8l-14.8,14.8"/><path class="c" d="M387.6,1169.1l14.8,14.8m0-14.8l-14.8,14.8"/>
<path class="b" d="M520.6,1096.1l14.8,14.8m0-14.8l-14.8,14.8"/><path class="c" d="M520.6,1096.1l14.8,14.8m0-14.8l-14.8,14.8"/>
<path class="b" d="M455.6,953.1l14.8,14.8m0-14.8l-14.8,14.8"/><path class="c" d="M455.6,953.1l14.8,14.8m0-14.8l-14.8,14.8"/>
<path class="b" d="M372.6,972.1l14.8,14.8m0-14.8l-14.8,14.8"/><path class="c" d="M372.6,972.1l14.8,14.8m0-14.8l-14.8,14.8"/>
<path class="b" d="M413.6,1173.1l14.8,14.8m0-14.8l-14.8,14.8"/><path class="c" d="M413.6,1173.1l14.8,14.8m0-14.8l-14.8,14.8"/>
<path class="b" d="M416.6,1016.1l14.8,14.8m0-14.8l-14.8,14.8"/><path class="c" d="M416.6,1016.1l14.8,14.8m0-14.8l-14.8,14.8"/>
<path class="b" d="M472.6,1040.1l14.8,14.8m0-14.8l-14.8,14.8"/><path class="c" d="M472.6,1040.1l14.8,14.8m0-14.8l-14.8,14.8"/>
<path class="b" d="M400.6,1044.1l14.8,14.8m0-14.8l-14.8,14.8"/><path class="c" d="M400.6,1044.1l14.8,14.8m0-14.8l-14.8,14.8"/>
<path class="b" d="M356.6,1027.1l14.8,14.8m0-14.8l-14.8,14.8"/><path class="c" d="M356.6,1027.1l14.8,14.8m0-14.8l-14.8,14.8"/>
<path class="b" d="M400.6,1052.1l14.8,14.8m0-14.8l-14.8,14.8"/><path class="c" d="M400.6,1052.1l14.8,14.8m0-14.8l-14.8,14.8"/>
<path class="b" d="M451.6,972.1l14.8,14.8m0-14.8l-14.8,14.8"/><path class="c" d="M451.6,972.1l14.8,14.8m0-14.8l-14.8,14.8"/>
<path class="b" d="M529.6,1033.1l14.8,14.8m0-14.8l-14.8,14.8"/><path class="c" d="M529.6,1033.1l14.8,14.8m0-14.8l-14.8,14.8"/>
<path class="b" d="M640.6,1043.1l14.8,14.8m0-14.8l-14.8,14.8"/><path class="c" d="M640.6,1043.1l14.8,14.8m0-14.8l-14.8,14.8"/>
<path class="b" d="M488.6,1148.1l14.8,14.8m0-14.8l-14.8,14.8"/><path class="c" d="M488.6,1148.1l14.8,14.8m0-14.8l-14.8,14.8"/>
<path class="b" d="M479.6,1076.1l14.8,14.8m0-14.8l-14.8,14.8"/><path class="c" d="M479.6,1076.1l14.8,14.8m0-14.8l-14.8,14.8"/>
<path class="b" d="M412.6,967.1l14.8,14.8m0-14.8l-14.8,14.8"/><path class="c" d="M412.6,967.1l14.8,14.8m0-14.8l-14.8,14.8"/>
<path class="b" d="M416.6,1088.1l14.8,14.8m0-14.8l-14.8,14.8"/><path class="c" d="M416.6,1088.1l14.8,14.8m0-14.8l-14.8,14.8"/>
<path class="b" d="M636.6,1051.1l14.8,14.8m0-14.8l-14.8,14.8"/><path class="c" d="M636.6,1051.1l14.8,14.8m0-14.8l-14.8,14.8"/>
<path class="b" d="M497.6,994.1l14.8,14.8m0-14.8l-14.8,14.8"/><path class="c" d="M497.6,994.1l14.8,14.8m0-14.8l-14.8,14.8"/>
<path class="b" d="M456.6,959.1l14.8,14.8m0-14.8l-14.8,14.8"/><path class="c" d="M456.6,959.1l14.8,14.8m0-14.8l-14.8,14.8"/>
<path class="b" d="M659.6,1036.1l14.8,14.8m0-14.8l-14.8,14.8"/><path class="c" d="M659.6,1036.1l14.8,14.8m0-14.8l-14.8,14.8"/>
<path class="b" d="M429.6,1217.1l14.8,14.8m0-14.8l-14.8,14.8"/><path class="c" d="M429.6,1217.1l14.8,14.8m0-14.8l-14.8,14.8"/>
<path class="b" d="M382.6,1012.1l14.8,14.8m0-14.8l-14.8,14.8"/><path class="c" d="M382.6,1012.1l14.8,14.8m0-14.8l-14.8,14.8"/>
<path class="b" d="M310.6,1044.1l14.8,14.8m0-14.8l-14.8,14.8"/><path class="c" d="M310.6,1044.1l14.8,14.8m0-14.8l-14.8,14.8"/>
<path class="b" d="M455.6,1010.1l14.8,14.8m0-14.8l-14.8,14.8"/><path class="c" d="M455.6,1010.1l14.8,14.8m0-14.8l-14.8,14.8"/>
<path class="b" d="M441.6,1108.1l14.8,14.8m0-14.8l-14.8,14.8"/><path class="c" d="M441.6,1108.1l14.8,14.8m0-14.8l-14.8,14.8"/>
<path class="b" d="M445.6,957.1l14.8,14.8m0-14.8l-14.8,14.8"/><path class="c" d="M445.6,957.1l14.8,14.8m0-14.8l-14.8,14.8"/>
<path class="b" d="M421.6,937.1l14.8,14.8m0-14.8l-14.8,14.8"/><path class="c" d="M421.6,937.1l14.8,14.8m0-14.8l-14.8,14.8"/>
<path class="b" d="M492.6,972.1l14.8,14.8m0-14.8l-14.8,14.8"/><path class="c" d="M492.6,972.1l14.8,14.8m0-14.8l-14.8,14.8"/>
<path class="b" d="M512.6,968.1l14.8,14.8m0-14.8l-14.8,14.8"/><path class="c" d="M512.6,968.1l14.8,14.8m0-14.8l-14.8,14.8"/>
<path class="b" d="M484.6,1059.1l14.8,14.8m0-14.8l-14.8,14.8"/><path class="c" d="M484.6,1059.1l14.8,14.8m0-14.8l-14.8,14.8"/>
<path class="b" d="M513.6,1029.1l14.8,14.8m0-14.8l-14.8,14.8"/><path class="c" d="M513.6,1029.1l14.8,14.8m0-14.8l-14.8,14.8"/>
<path class="b" d="M630.6,1058.1l14.8,14.8m0-14.8l-14.8,14.8"/><path class="c" d="M630.6,1058.1l14.8,14.8m0-14.8l-14.8,14.8"/>
<path class="b" d="M497.6,1174.1l14.8,14.8m0-14.8l-14.8,14.8"/><path class="c" d="M497.6,1174.1l14.8,14.8m0-14.8l-14.8,14.8"/>
<path class="b" d="M434.6,1134.1l14.8,14.8m0-14.8l-14.8,14.8"/><path class="c" d="M434.6,1134.1l14.8,14.8m0-14.8l-14.8,14.8"/>
<path class="b" d="M381.6,963.1l14.8,14.8m0-14.8l-14.8,14.8"/><path class="c" d="M381.6,963.1l14.8,14.8m0-14.8l-14.8,14.8"/>
<path class="b" d="M442.6,1033.1l14.8,14.8m0-14.8l-14.8,14.8"/><path class="c" d="M442.6,1033.1l14.8,14.8m0-14.8l-14.8,14.8"/>
<path class="b" d="M472.6,1058.1l14.8,14.8m0-14.8l-14.8,14.8"/><path class="c" d="M472.6,1058.1l14.8,14.8m0-14.8l-14.8,14.8"/>
<path class="b" d="M398.6,1013.1l14.8,14.8m0-14.8l-14.8,14.8"/><path class="c" d="M398.6,1013.1l14.8,14.8m0-14.8l-14.8,14.8"/>
<path class="b" d="M414.6,951.1l14.8,14.8m0-14.8l-14.8,14.8"/><path class="c" d="M414.6,951.1l14.8,14.8m0-14.8l-14.8,14.8"/>
<path class="b" d="M421.6,1155.1l14.8,14.8m0-14.8l-14.8,14.8"/><path class="c" d="M421.6,1155.1l14.8,14.8m0-14.8l-14.8,14.8"/>
<path class="b" d="M468.6,1139.1l14.8,14.8m0-14.8l-14.8,14.8"/><path class="c" d="M468.6,1139.1l14.8,14.8m0-14.8l-14.8,14.8"/>
<path class="b" d="M579.6,1082.1l14.8,14.8m0-14.8l-14.8,14.8"/><path class="c" d="M579.6,1082.1l14.8,14.8m0-14.8l-14.8,14.8"/>
<path class="b" d="M380.6,1063.1l14.8,14.8m0-14.8l-14.8,14.8"/><path class="c" d="M380.6,1063.1l14.8,14.8m0-14.8l-14.8,14.8"/>
<path class="b" d="M586.6,1086.1l14.8,14.8m0-14.8l-14.8,14.8"/><path class="c" d="M586.6,1086.1l14.8,14.8m0-14.8l-14.8,14.8"/>
<path class="b" d="M711.6,1071.1l14.8,14.8m0-14.8l-14.8,14.8"/><path class="c" d="M711.6,1071.1l14.8,14.8m0-14.8l-14.8,14.8"/>
<path class="b" d="M397.6,970.1l14.8,14.8m0-14.8l-14.8,14.8"/><path class="c" d="M397.6,970.1l14.8,14.8m0-14.8l-14.8,14.8"/>
<path class="b" d="M504.6,1054.1l14.8,14.8m0-14.8l-14.8,14.8"/><path class="c" d="M504.6,1054.1l14.8,14.8m0-14.8l-14.8,14.8"/>
<path class="b" d="M495.6,1196.1l14.8,14.8m0-14.8l-14.8,14.8"/><path class="c" d="M495.6,1196.1l14.8,14.8m0-14.8l-14.8,14.8"/>
<path class="b" d="M401.6,1155.1l14.8,14.8m0-14.8l-14.8,14.8"/><path class="c" d="M401.6,1155.1l14.8,14.8m0-14.8l-14.8,14.8"/>
<path class="b" d="M598.6,1011.1l14.8,14.8m0-14.8l-14.8,14.8"/><path class="c" d="M598.6,1011.1l14.8,14.8m0-14.8l-14.8,14.8"/>
<path class="b" d="M378.6,1039.1l14.8,14.8m0-14.8l-14.8,14.8"/><path class="c" d="M378.6,1039.1l14.8,14.8m0-14.8l-14.8,14.8"/>
<path class="b" d="M484.6,1156.1l14.8,14.8m0-14.8l-14.8,14.8"/><path class="c" d="M484.6,1156.1l14.8,14.8m0-14.8l-14.8,14.8"/>
<path class="b" d="M579.6,1011.1l14.8,14.8m0-14.8l-14.8,14.8"/><path class="c" d="M579.6,1011.1l14.8,14.8m0-14.8l-14.8,14.8"/>
<path class="b" d="M426.6,1021.1l14.8,14.8m0-14.8l-14.8,14.8"/><path class="c" d="M426.6,1021.1l14.8,14.8m0-14.8l-14.8,14.8"/>
<path class="b" d="M403.6,1078.1l14.8,14.8m0-14.8l-14.8,14.8"/><path class="c" d="M403.6,1078.1l14.8,14.8m0-14.8l-14.8,14.8"/>
<path class="b" d="M421.6,1171.1l14.8,14.8m0-14.8l-14.8,14.8"/><path class="c" d="M421.6,1171.1l14.8,14.8m0-14.8l-14.8,14.8"/>
<path class="b" d="M642.6,1052.1l14.8,14.8m0-14.8l-14.8,14.8"/><path class="c" d="M642.6,1052.1l14.8,14.8m0-14.8l-14.8,14.8"/>
<path class="b" d="M434.6,1005.1l14.8,14.8m0-14.8l-14.8,14.8"/><path class="c" d="M434.6,1005.1l14.8,14.8m0-14.8l-14.8,14.8"/>
<path class="b" d="M504.6,1068.1l14.8,14.8m0-14.8l-14.8,14.8"/><path class="c" d="M504.6,1068.1l14.8,14.8m0-14.8l-14.8,14.8"/>
<path class="b" d="M456.6,1132.1l14.8,14.8m0-14.8l-14.8,14.8"/><path class="c" d="M456.6,1132.1l14.8,14.8m0-14.8l-14.8,14.8"/>
<path class="b" d="M546.6,1018.1l14.8,14.8m0-14.8l-14.8,14.8"/><path class="c" d="M546.6,1018.1l14.8,14.8m0-14.8l-14.8,14.8"/>
<path class="b" d="M453.6,1027.1l14.8,14.8m0-14.8l-14.8,14.8"/><path class="c" d="M453.6,1027.1l14.8,14.8m0-14.8l-14.8,14.8"/>
<path class="b" d="M559.6,1060.1l14.8,14.8m0-14.8l-14.8,14.8"/><path class="c" d="M559.6,1060.1l14.8,14.8m0-14.8l-14.8,14.8"/>
<path class="b" d="M405.6,1008.1l14.8,14.8m0-14.8l-14.8,14.8"/><path class="c" d="M405.6,1008.1l14.8,14.8m0-14.8l-14.8,14.8"/>
<path class="b" d="M420.6,970.1l14.8,14.8m0-14.8l-14.8,14.8"/><path class="c" d="M420.6,970.1l14.8,14.8m0-14.8l-14.8,14.8"/>
<path class="b" d="M377.6,1145.1l14.8,14.8m0-14.8l-14.8,14.8"/><path class="c" d="M377.6,1145.1l14.8,14.8m0-14.8l-14.8,14.8"/>
<path class="b" d="M469.6,1150.1l14.8,14.8m0-14.8l-14.8,14.8"/><path class="c" d="M469.6,1150.1l14.8,14.8m0-14.8l-14.8,14.8"/>
<path class="b" d="M466.6,949.1l14.8,14.8m0-14.8l-14.8,14.8"/><path class="c" d="M466.6,949.1l14.8,14.8m0-14.8l-14.8,14.8"/>
<path class="b" d="M545.6,987.1l14.8,14.8m0-14.8l-14.8,14.8"/><path class="c" d="M545.6,987.1l14.8,14.8m0-14.8l-14.8,14.8"/>
<path class="b" d="M633.6,1035.1l14.8,14.8m0-14.8l-14.8,14.8"/><path class="c" d="M633.6,1035.1l14.8,14.8m0-14.8l-14.8,14.8"/>
<path class="b" d="M491.6,1061.1l14.8,14.8m0-14.8l-14.8,14.8"/><path class="c" d="M491.6,1061.1l14.8,14.8m0-14.8l-14.8,14.8"/>
<path class="b" d="M581.6,999.1l14.8,14.8m0-14.8l-14.8,14.8"/><path class="c" d="M581.6,999.1l14.8,14.8m0-14.8l-14.8,14.8"/>
<path class="b" d="M406.6,964.1l14.8,14.8m0-14.8l-14.8,14.8"/><path class="c" d="M406.6,964.1l14.8,14.8m0-14.8l-14.8,14.8"/>
<path class="b" d="M535.6,1005.1l14.8,14.8m0-14.8l-14.8,14.8"/><path class="c" d="M535.6,1005.1l14.8,14.8m0-14.8l-14.8,14.8"/>
<path class="b" d="M504.6,1076.1l14.8,14.8m0-14.8l-14.8,14.8"/><path class="c" d="M504.6,1076.1l14.8,14.8m0-14.8l-14.8,14.8"/>
<path class="b" d="M607.6,1057.1l14.8,14.8m0-14.8l-14.8,14.8"/><path class="c" d="M607.6,1057.1l14.8,14.8m0-14.8l-14.8,14.8"/>
<path class="b" d="M360.6,995.1l14.8,14.8m0-14.8l-14.8,14.8"/><path class="c" d="M360.6,995.1l14.8,14.8m0-14.8l-14.8,14.8"/>
<path class="b" d="M370.6,907.1l14.8,14.8m0-14.8l-14.8,14.8"/><path class="c" d="M370.6,907.1l14.8,14.8m0-14.8l-14.8,14.8"/>
<path class="b" d="M437.6,1098.1l14.8,14.8m0-14.8l-14.8,14.8"/><path class="c" d="M437.6,1098.1l14.8,14.8m0-14.8l-14.8,14.8"/>
<path class="b" d="M530.6,1081.1l14.8,14.8m0-14.8l-14.8,14.8"/><path class="c" d="M530.6,1081.1l14.8,14.8m0-14.8l-14.8,14.8"/>
<path class="b" d="M400.6,946.1l14.8,14.8m0-14.8l-14.8,14.8"/><path class="c" d="M400.6,946.1l14.8,14.8m0-14.8l-14.8,14.8"/>
<path class="b" d="M522.6,1050.1l14.8,14.8m0-14.8l-14.8,14.8"/><path class="c" d="M522.6,1050.1l14.8,14.8m0-14.8l-14.8,14.8"/>
<path class="b" d="M678.6,1097.1l14.8,14.8m0-14.8l-14.8,14.8"/><path class="c" d="M678.6,1097.1l14.8,14.8m0-14.8l-14.8,14.8"/>
<path class="b" d="M550.6,1024.1l14.8,14.8m0-14.8l-14.8,14.8"/><path class="c" d="M550.6,1024.1l14.8,14.8m0-14.8l-14.8,14.8"/>
<path class="b" d="M451.6,988.1l14.8,14.8m0-14.8l-14.8,14.8"/><path class="c" d="M451.6,988.1l14.8,14.8m0-14.8l-14.8,14.8"/>
<path class="b" d="M374.6,998.1l14.8,14.8m0-14.8l-14.8,14.8"/><path class="c" d="M374.6,998.1l14.8,14.8m0-14.8l-14.8,14.8"/>
<path class="b" d="M366.6,1209.1l14.8,14.8m0-14.8l-14.8,14.8"/><path class="c" d="M366.6,1209.1l14.8,14.8m0-14.8l-14.8,14.8"/>
<path class="b" d="M442.6,1132.1l14.8,14.8m0-14.8l-14.8,14.8"/><path class="c" d="M442.6,1132.1l14.8,14.8m0-14.8l-14.8,14.8"/>
<path class="b" d="M483.6,1020.1l14.8,14.8m0-14.8l-14.8,14.8"/><path class="c" d="M483.6,1020.1l14.8,14.8m0-14.8l-14.8,14.8"/>
<path class="b" d="M444.6,1003.1l14.8,14.8m0-14.8l-14.8,14.8"/><path class="c" d="M444.6,1003.1l14.8,14.8m0-14.8l-14.8,14.8"/>
<path class="b" d="M477.6,1135.1l14.8,14.8m0-14.8l-14.8,14.8"/><path class="c" d="M477.6,1135.1l14.8,14.8m0-14.8l-14.8,14.8"/>
<path class="b" d="M657.6,1042.1l14.8,14.8m0-14.8l-14.8,14.8"/><path class="c" d="M657.6,1042.1l14.8,14.8m0-14.8l-14.8,14.8"/>
<path class="b" d="M445.6,1035.1l14.8,14.8m0-14.8l-14.8,14.8"/><path class="c" d="M445.6,1035.1l14.8,14.8m0-14.8l-14.8,14.8"/>
<path class="b" d="M474.6,1042.1l14.8,14.8m0-14.8l-14.8,14.8"/><path class="c" d="M474.6,1042.1l14.8,14.8m0-14.8l-14.8,14.8"/>
<path class="b" d="M478.6,1152.1l14.8,14.8m0-14.8l-14.8,14.8"/><path class="c" d="M478.6,1152.1l14.8,14.8m0-14.8l-14.8,14.8"/>
<path class="b" d="M513.6,1058.1l14.8,14.8m0-14.8l-14.8,14.8"/><path class="c" d="M513.6,1058.1l14.8,14.8m0-14.8l-14.8,14.8"/>
<path class="b" d="M597.6,1025.1l14.8,14.8m0-14.8l-14.8,14.8"/><path class="c" d="M597.6,1025.1l14.8,14.8m0-14.8l-14.8,14.8"/>
<path class="b" d="M499.6,1059.1l14.8,14.8m0-14.8l-14.8,14.8"/><path class="c" d="M499.6,1059.1l14.8,14.8m0-14.8l-14.8,14.8"/>
<path class="b" d="M455.6,1042.1l14.8,14.8m0-14.8l-14.8,14.8"/><path class="c" d="M455.6,1042.1l14.8,14.8m0-14.8l-14.8,14.8"/>
<path class="b" d="M483.6,1139.1l14.8,14.8m0-14.8l-14.8,14.8"/><path class="c" d="M483.6,1139.1l14.8,14.8m0-14.8l-14.8,14.8"/>
<path class="b" d="M456.6,974.1l14.8,14.8m0-14.8l-14.8,14.8"/><path class="c" d="M456.6,974.1l14.8,14.8m0-14.8l-14.8,14.8"/>
<path class="b" d="M472.6,1109.1l14.8,14.8m0-14.8l-14.8,14.8"/><path class="c" d="M472.6,1109.1l14.8,14.8m0-14.8l-14.8,14.8"/>
<path class="b" d="M711.6,1051.1l14.8,14.8m0-14.8l-14.8,14.8"/><path class="c" d="M711.6,1051.1l14.8,14.8m0-14.8l-14.8,14.8"/>
<path class="b" d="M602.6,1078.1l14.8,14.8m0-14.8l-14.8,14.8"/><path class="c" d="M602.6,1078.1l14.8,14.8m0-14.8l-14.8,14.8"/>
<path class="b" d="M274.6,1081.1l14.8,14.8m0-14.8l-14.8,14.8"/><path class="c" d="M274.6,1081.1l14.8,14.8m0-14.8l-14.8,14.8"/>
<path class="b" d="M432.6,1096.1l14.8,14.8m0-14.8l-14.8,14.8"/><path class="c" d="M432.6,1096.1l14.8,14.8m0-14.8l-14.8,14.8"/>
<path class="b" d="M502.6,1066.1l14.8,14.8m0-14.8l-14.8,14.8"/><path class="c" d="M502.6,1066.1l14.8,14.8m0-14.8l-14.8,14.8"/>
<path class="b" d="M382.6,1084.1l14.8,14.8m0-14.8l-14.8,14.8"/><path class="c" d="M382.6,1084.1l14.8,14.8m0-14.8l-14.8,14.8"/>
<path class="b" d="M401.6,1096.1l14.8,14.8m0-14.8l-14.8,14.8"/><path class="c" d="M401.6,1096.1l14.8,14.8m0-14.8l-14.8,14.8"/>
<path class="b" d="M572.6,1004.1l14.8,14.8m0-14.8l-14.8,14.8"/><path class="c" d="M572.6,1004.1l14.8,14.8m0-14.8l-14.8,14.8"/>
<path class="b" d="M367.6,994.1l14.8,14.8m0-14.8l-14.8,14.8"/><path class="c" d="M367.6,994.1l14.8,14.8m0-14.8l-14.8,14.8"/>
<path class="b" d="M510.6,969.1l14.8,14.8m0-14.8l-14.8,14.8"/><path class="c" d="M510.6,969.1l14.8,14.8m0-14.8l-14.8,14.8"/>
<path class="b" d="M533.6,989.1l14.8,14.8m0-14.8l-14.8,14.8"/><path class="c" d="M533.6,989.1l14.8,14.8m0-14.8l-14.8,14.8"/>
<path class="b" d="M413.6,954.1l14.8,14.8m0-14.8l-14.8,14.8"/><path class="c" d="M413.6,954.1l14.8,14.8m0-14.8l-14.8,14.8"/>
<path class="b" d="M624.6,1057.1l14.8,14.8m0-14.8l-14.8,14.8"/><path class="c" d="M624.6,1057.1l14.8,14.8m0-14.8l-14.8,14.8"/>
<path class="b" d="M445.6,953.1l14.8,14.8m0-14.8l-14.8,14.8"/><path class="c" d="M445.6,953.1l14.8,14.8m0-14.8l-14.8,14.8"/>
<path class="b" d="M423.6,931.1l14.8,14.8m0-14.8l-14.8,14.8"/><path class="c" d="M423.6,931.1l14.8,14.8m0-14.8l-14.8,14.8"/>
<path class="b" d="M575.6,1071.1l14.8,14.8m0-14.8l-14.8,14.8"/><path class="c" d="M575.6,1071.1l14.8,14.8m0-14.8l-14.8,14.8"/>
<path class="b" d="M465.6,966.1l14.8,14.8m0-14.8l-14.8,14.8"/><path class="c" d="M465.6,966.1l14.8,14.8m0-14.8l-14.8,14.8"/>
<path class="b" d="M410.6,1078.1l14.8,14.8m0-14.8l-14.8,14.8"/><path class="c" d="M410.6,1078.1l14.8,14.8m0-14.8l-14.8,14.8"/>
<path class="b" d="M440.6,996.1l14.8,14.8m0-14.8l-14.8,14.8"/><path class="c" d="M440.6,996.1l14.8,14.8m0-14.8l-14.8,14.8"/>
<path class="b" d="M525.6,1106.1l14.8,14.8m0-14.8l-14.8,14.8"/><path class="c" d="M525.6,1106.1l14.8,14.8m0-14.8l-14.8,14.8"/>
<path class="b" d="M483.6,1112.1l14.8,14.8m0-14.8l-14.8,14.8"/><path class="c" d="M483.6,1112.1l14.8,14.8m0-14.8l-14.8,14.8"/>
<path class="b" d="M454.6,1133.1l14.8,14.8m0-14.8l-14.8,14.8"/><path class="c" d="M454.6,1133.1l14.8,14.8m0-14.8l-14.8,14.8"/>
<path class="b" d="M430.6,978.1l14.8,14.8m0-14.8l-14.8,14.8"/><path class="c" d="M430.6,978.1l14.8,14.8m0-14.8l-14.8,14.8"/>
<path class="b" d="M404.6,1173.1l14.8,14.8m0-14.8l-14.8,14.8"/><path class="c" d="M404.6,1173.1l14.8,14.8m0-14.8l-14.8,14.8"/>
<path class="b" d="M416.6,1138.1l14.8,14.8m0-14.8l-14.8,14.8"/><path class="c" d="M416.6,1138.1l14.8,14.8m0-14.8l-14.8,14.8"/>
<path class="b" d="M528.6,1007.1l14.8,14.8m0-14.8l-14.8,14.8"/><path class="c" d="M528.6,1007.1l14.8,14.8m0-14.8l-14.8,14.8"/>
<path class="b" d="M465.6,1147.1l14.8,14.8m0-14.8l-14.8,14.8"/><path class="c" d="M465.6,1147.1l14.8,14.8m0-14.8l-14.8,14.8"/>
<path class="b" d="M536.6,975.1l14.8,14.8m0-14.8l-14.8,14.8"/><path class="c" d="M536.6,975.1l14.8,14.8m0-14.8l-14.8,14.8"/>
<path class="b" d="M504.6,1092.1l14.8,14.8m0-14.8l-14.8,14.8"/><path class="c" d="M504.6,1092.1l14.8,14.8m0-14.8l-14.8,14.8"/>
<path class="b" d="M369.6,982.1l14.8,14.8m0-14.8l-14.8,14.8"/><path class="c" d="M369.6,982.1l14.8,14.8m0-14.8l-14.8,14.8"/>
<path class="b" d="M485.6,1138.1l14.8,14.8m0-14.8l-14.8,14.8"/><path class="c" d="M485.6,1138.1l14.8,14.8m0-14.8l-14.8,14.8"/>
<path class="b" d="M372.6,1050.1l14.8,14.8m0-14.8l-14.8,14.8"/><path class="c" d="M372.6,1050.1l14.8,14.8m0-14.8l-14.8,14.8"/>
<path class="b" d="M414.6,981.1l14.8,14.8m0-14.8l-14.8,14.8"/><path class="c" d="M414.6,981.1l14.8,14.8m0-14.8l-14.8,14.8"/>
<path class="b" d="M310.6,1035.1l14.8,14.8m0-14.8l-14.8,14.8"/><path class="c" d="M310.6,1035.1l14.8,14.8m0-14.8l-14.8,14.8"/>
<path class="b" d="M417.6,1199.1l14.8,14.8m0-14.8l-14.8,14.8"/><path class="c" d="M417.6,1199.1l14.8,14.8m0-14.8l-14.8,14.8"/>
<path class="b" d="M521.6,1117.1l14.8,14.8m0-14.8l-14.8,14.8"/><path class="c" d="M521.6,1117.1l14.8,14.8m0-14.8l-14.8,14.8"/>
<path class="b" d="M449.6,1139.1l14.8,14.8m0-14.8l-14.8,14.8"/><path class="c" d="M449.6,1139.1l14.8,14.8m0-14.8l-14.8,14.8"/>
<path class="b" d="M493.6,998.1l14.8,14.8m0-14.8l-14.8,14.8"/><path class="c" d="M493.6,998.1l14.8,14.8m0-14.8l-14.8,14.8"/>
<path class="b" d="M611.6,1087.1l14.8,14.8m0-14.8l-14.8,14.8"/><path class="c" d="M611.6,1087.1l14.8,14.8m0-14.8l-14.8,14.8"/>
<path class="b" d="M535.6,996.1l14.8,14.8m0-14.8l-14.8,14.8"/><path class="c" d="M535.6,996.1l14.8,14.8m0-14.8l-14.8,14.8"/>
<path class="b" d="M392.6,962.1l14.8,14.8m0-14.8l-14.8,14.8"/><path class="c" d="M392.6,962.1l14.8,14.8m0-14.8l-14.8,14.8"/>
<path class="b" d="M486.6,1148.1l14.8,14.8m0-14.8l-14.8,14.8"/><path class="c" d="M486.6,1148.1l14.8,14.8m0-14.8l-14.8,14.8"/>
<path class="b" d="M502.6,1131.1l14.8,14.8m0-14.8l-14.8,14.8"/><path class="c" d="M502.6,1131.1l14.8,14.8m0-14.8l-14.8,14.8"/>
<path class="b" d="M618.6,1079.1l14.8,14.8m0-14.8l-14.8,14.8"/><path class="c" d="M618.6,1079.1l14.8,14.8m0-14.8l-14.8,14.8"/>
<path class="b" d="M401.6,1097.1l14.8,14.8m0-14.8l-14.8,14.8"/><path class="c" d="M401.6,1097.1l14.8,14.8m0-14.8l-14.8,14.8"/>
<path class="b" d="M356.6,1017.1l14.8,14.8m0-14.8l-14.8,14.8"/><path class="c" d="M356.6,1017.1l14.8,14.8m0-14.8l-14.8,14.8"/>
<path class="b" d="M395.6,1115.1l14.8,14.8m0-14.8l-14.8,14.8"/><path class="c" d="M395.6,1115.1l14.8,14.8m0-14.8l-14.8,14.8"/>
<path class="b" d="M417.6,1068.1l14.8,14.8m0-14.8l-14.8,14.8"/><path class="c" d="M417.6,1068.1l14.8,14.8m0-14.8l-14.8,14.8"/>
<path class="b" d="M519.6,1070.1l14.8,14.8m0-14.8l-14.8,14.8"/><path class="c" d="M519.6,1070.1l14.8,14.8m0-14.8l-14.8,14.8"/>
<path class="b" d="M432.6,1059.1l14.8,14.8m0-14.8l-14.8,14.8"/><path class="c" d="M432.6,1059.1l14.8,14.8m0-14.8l-14.8,14.8"/>
<path class="b" d="M517.6,969.1l14.8,14.8m0-14.8l-14.8,14.8"/><path class="c" d="M517.6,969.1l14.8,14.8m0-14.8l-14.8,14.8"/>
<path class="b" d="M513.6,1001.1l14.8,14.8m0-14.8l-14.8,14.8"/><path class="c" d="M513.6,1001.1l14.8,14.8m0-14.8l-14.8,14.8"/>
<path class="b" d="M397.6,1059.1l14.8,14.8m0-14.8l-14.8,14.8"/><path class="c" d="M397.6,1059.1l14.8,14.8m0-14.8l-14.8,14.8"/>
<path class="b" d="M403.6,1117.1l14.8,14.8m0-14.8l-14.8,14.8"/><path class="c" d="M403.6,1117.1l14.8,14.8m0-14.8l-14.8,14.8"/>
<path class="b" d="M345.6,987.1l14.8,14.8m0-14.8l-14.8,14.8"/><path class="c" d="M345.6,987.1l14.8,14.8m0-14.8l-14.8,14.8"/>
<path class="b" d="M432.6,964.1l14.8,14.8m0-14.8l-14.8,14.8"/><path class="c" d="M432.6,964.1l14.8,14.8m0-14.8l-14.8,14.8"/>
<path class="b" d="M460.6,1058.1l14.8,14.8m0-14.8l-14.8,14.8"/><path class="c" d="M460.6,1058.1l14.8,14.8m0-14.8l-14.8,14.8"/>
<path class="b" d="M405.6,936.1l14.8,14.8m0-14.8l-14.8,14.8"/><path class="c" d="M405.6,936.1l14.8,14.8m0-14.8l-14.8,14.8"/>
<path class="b" d="M386.6,963.1l14.8,14.8m0-14.8l-14.8,14.8"/><path class="c" d="M386.6,963.1l14.8,14.8m0-14.8l-14.8,14.8"/>
<path class="b" d="M509.6,1042.1l14.8,14.8m0-14.8l-14.8,14.8"/><path class="c" d="M509.6,1042.1l14.8,14.8m0-14.8l-14.8,14.8"/>
<path class="b" d="M388.6,969.1l14.8,14.8m0-14.8l-14.8,14.8"/><path class="c" d="M388.6,969.1l14.8,14.8m0-14.8l-14.8,14.8"/>
<path class="b" d="M425.6,1091.1l14.8,14.8m0-14.8l-14.8,14.8"/><path class="c" d="M425.6,1091.1l14.8,14.8m0-14.8l-14.8,14.8"/>
<path class="b" d="M529.6,996.1l14.8,14.8m0-14.8l-14.8,14.8"/><path class="c" d="M529.6,996.1l14.8,14.8m0-14.8l-14.8,14.8"/>
<path class="b" d="M390.6,1139.1l14.8,14.8m0-14.8l-14.8,14.8"/><path class="c" d="M390.6,1139.1l14.8,14.8m0-14.8l-14.8,14.8"/>
<path class="b" d="M396.6,951.1l14.8,14.8m0-14.8l-14.8,14.8"/><path class="c" d="M396.6,951.1l14.8,14.8m0-14.8l-14.8,14.8"/>
<path class="b" d="M452.6,981.1l14.8,14.8m0-14.8l-14.8,14.8"/><path class="c" d="M452.6,981.1l14.8,14.8m0-14.8l-14.8,14.8"/>
<path class="b" d="M431.6,1156.1l14.8,14.8m0-14.8l-14.8,14.8"/><path class="c" d="M431.6,1156.1l14.8,14.8m0-14.8l-14.8,14.8"/>
<path class="b" d="M393.6,1113.1l14.8,14.8m0-14.8l-14.8,14.8"/><path class="c" d="M393.6,1113.1l14.8,14.8m0-14.8l-14.8,14.8"/>
<path class="b" d="M446.6,1156.1l14.8,14.8m0-14.8l-14.8,14.8"/><path class="c" d="M446.6,1156.1l14.8,14.8m0-14.8l-14.8,14.8"/>
<path class="b" d="M501.6,1141.1l14.8,14.8m0-14.8l-14.8,14.8"/><path class="c" d="M501.6,1141.1l14.8,14.8m0-14.8l-14.8,14.8"/>
<path class="b" d="M585.6,1082.1l14.8,14.8m0-14.8l-14.8,14.8"/><path class="c" d="M585.6,1082.1l14.8,14.8m0-14.8l-14.8,14.8"/>
<path class="b" d="M389.6,1002.1l14.8,14.8m0-14.8l-14.8,14.8"/><path class="c" d="M389.6,1002.1l14.8,14.8m0-14.8l-14.8,14.8"/>
<path class="b" d="M553.6,1013.1l14.8,14.8m0-14.8l-14.8,14.8"/><path class="c" d="M553.6,1013.1l14.8,14.8m0-14.8l-14.8,14.8"/>
<path class="b" d="M405.6,987.1l14.8,14.8m0-14.8l-14.8,14.8"/><path class="c" d="M405.6,987.1l14.8,14.8m0-14.8l-14.8,14.8"/>
<path class="b" d="M448.6,1020.1l14.8,14.8m0-14.8l-14.8,14.8"/><path class="c" d="M448.6,1020.1l14.8,14.8m0-14.8l-14.8,14.8"/>
<path class="b" d="M500.6,1069.1l14.8,14.8m0-14.8l-14.8,14.8"/><path class="c" d="M500.6,1069.1l14.8,14.8m0-14.8l-14.8,14.8"/>
<path class="b" d="M447.6,996.1l14.8,14.8m0-14.8l-14.8,14.8"/><path class="c" d="M447.6,996.1l14.8,14.8m0-14.8l-14.8,14.8"/>
<path class="b" d="M434.6,1127.1l14.8,14.8m0-14.8l-14.8,14.8"/><path class="c" d="M434.6,1127.1l14.8,14.8m0-14.8l-14.8,14.8"/>
<path class="b" d="M435.6,991.1l14.8,14.8m0-14.8l-14.8,14.8"/><path class="c" d="M435.6,991.1l14.8,14.8m0-14.8l-14.8,14.8"/>
<path class="b" d="M389.6,991.1l14.8,14.8m0-14.8l-14.8,14.8"/><path class="c" d="M389.6,991.1l14.8,14.8m0-14.8l-14.8,14.8"/>
<path class="b" d="M521.6,1102.1l14.8,14.8m0-14.8l-14.8,14.8"/><path class="c" d="M521.6,1102.1l14.8,14.8m0-14.8l-14.8,14.8"/>
<path class="b" d="M398.6,1151.1l14.8,14.8m0-14.8l-14.8,14.8"/><path class="c" d="M398.6,1151.1l14.8,14.8m0-14.8l-14.8,14.8"/>
<path class="b" d="M412.6,1054.1l14.8,14.8m0-14.8l-14.8,14.8"/><path class="c" d="M412.6,1054.1l14.8,14.8m0-14.8l-14.8,14.8"/>
<path class="b" d="M425.6,1078.1l14.8,14.8m0-14.8l-14.8,14.8"/><path class="c" d="M425.6,1078.1l14.8,14.8m0-14.8l-14.8,14.8"/>
<path class="b" d="M616.6,1021.1l14.8,14.8m0-14.8l-14.8,14.8"/><path class="c" d="M616.6,1021.1l14.8,14.8m0-14.8l-14.8,14.8"/>
<path class="b" d="M456.6,989.1l14.8,14.8m0-14.8l-14.8,14.8"/><path class="c" d="M456.6,989.1l14.8,14.8m0-14.8l-14.8,14.8"/>
<path class="b" d="M537.6,1000.1l14.8,14.8m0-14.8l-14.8,14.8"/><path class="c" d="M537.6,1000.1l14.8,14.8m0-14.8l-14.8,14.8"/>
<path class="b" d="M423.6,1021.1l14.8,14.8m0-14.8l-14.8,14.8"/><path class="c" d="M423.6,1021.1l14.8,14.8m0-14.8l-14.8,14.8"/>
<path class="b" d="M425.6,1026.1l14.8,14.8m0-14.8l-14.8,14.8"/><path class="c" d="M425.6,1026.1l14.8,14.8m0-14.8l-14.8,14.8"/>
<path class="b" d="M405.6,1120.1l14.8,14.8m0-14.8l-14.8,14.8"/><path class="c" d="M405.6,1120.1l14.8,14.8m0-14.8l-14.8,14.8"/>
<path class="b" d="M421.6,1146.1l14.8,14.8m0-14.8l-14.8,14.8"/><path class="c" d="M421.6,1146.1l14.8,14.8m0-14.8l-14.8,14.8"/>
<path class="b" d="M378.6,923.1l14.8,14.8m0-14.8l-14.8,14.8"/><path class="c" d="M378.6,923.1l14.8,14.8m0-14.8l-14.8,14.8"/>
<path class="b" d="M446.6,961.1l14.8,14.8m0-14.8l-14.8,14.8"/><path class="c" d="M446.6,961.1l14.8,14.8m0-14.8l-14.8,14.8"/>
<path class="b" d="M310.6,1034.1l14.8,14.8m0-14.8l-14.8,14.8"/><path class="c" d="M310.6,1034.1l14.8,14.8m0-14.8l-14.8,14.8"/>
<path class="b" d="M454.6,1041.1l14.8,14.8m0-14.8l-14.8,14.8"/><path class="c" d="M454.6,1041.1l14.8,14.8m0-14.8l-14.8,14.8"/>
<path class="b" d="M451.6,1156.1l14.8,14.8m0-14.8l-14.8,14.8"/><path class="c" d="M451.6,1156.1l14.8,14.8m0-14.8l-14.8,14.8"/>
<path class="b" d="M391.6,1020.1l14.8,14.8m0-14.8l-14.8,14.8"/><path class="c" d="M391.6,1020.1l14.8,14.8m0-14.8l-14.8,14.8"/>
<path class="b" d="M413.6,939.1l14.8,14.8m0-14.8l-14.8,14.8"/><path class="c" d="M413.6,939.1l14.8,14.8m0-14.8l-14.8,14.8"/>
<path class="b" d="M555.6,1094.1l14.8,14.8m0-14.8l-14.8,14.8"/><path class="c" d="M555.6,1094.1l14.8,14.8m0-14.8l-14.8,14.8"/>
<path class="b" d="M403.6,1089.1l14.8,14.8m0-14.8l-14.8,14.8"/><path class="c" d="M403.6,1089.1l14.8,14.8m0-14.8l-14.8,14.8"/>
<path class="b" d="M442.6,994.1l14.8,14.8m0-14.8l-14.8,14.8"/><path class="c" d="M442.6,994.1l14.8,14.8m0-14.8l-14.8,14.8"/>
<path class="b" d="M470.6,1023.1l14.8,14.8m0-14.8l-14.8,14.8"/><path class="c" d="M470.6,1023.1l14.8,14.8m0-14.8l-14.8,14.8"/>
<path class="b" d="M386.6,1103.1l14.8,14.8m0-14.8l-14.8,14.8"/><path class="c" d="M386.6,1103.1l14.8,14.8m0-14.8l-14.8,14.8"/>
<path class="b" d="M529.6,1097.1l14.8,14.8m0-14.8l-14.8,14.8"/><path class="c" d="M529.6,1097.1l14.8,14.8m0-14.8l-14.8,14.8"/>
<path class="b" d="M346.6,988.1l14.8,14.8m0-14.8l-14.8,14.8"/><path class="c" d="M346.6,988.1l14.8,14.8m0-14.8l-14.8,14.8"/>
<path class="b" d="M505.6,1126.1l14.8,14.8m0-14.8l-14.8,14.8"/><path class="c" d="M505.6,1126.1l14.8,14.8m0-14.8l-14.8,14.8"/>
<path class="b" d="M530.6,1086.1l14.8,14.8m0-14.8l-14.8,14.8"/><path class="c" d="M530.6,1086.1l14.8,14.8m0-14.8l-14.8,14.8"/>
<path class="b" d="M575.6,1072.1l14.8,14.8m0-14.8l-14.8,14.8"/><path class="c" d="M575.6,1072.1l14.8,14.8m0-14.8l-14.8,14.8"/>
<path class="b" d="M489.6,1097.1l14.8,14.8m0-14.8l-14.8,14.8"/><path class="c" d="M489.6,1097.1l14.8,14.8m0-14.8l-14.8,14.8"/>
<path class="b" d="M546.6,1030.1l14.8,14.8m0-14.8l-14.8,14.8"/><path class="c" d="M546.6,1030.1l14.8,14.8m0-14.8l-14.8,14.8"/>
<path class="b" d="M519.6,1009.1l14.8,14.8m0-14.8l-14.8,14.8"/><path class="c" d="M519.6,1009.1l14.8,14.8m0-14.8l-14.8,14.8"/>
<path class="b" d="M508.6,1127.1l14.8,14.8m0-14.8l-14.8,14.8"/><path class="c" d="M508.6,1127.1l14.8,14.8m0-14.8l-14.8,14.8"/>
<path class="b" d="M415.6,1170.1l14.8,14.8m0-14.8l-14.8,14.8"/><path class="c" d="M415.6,1170.1l14.8,14.8m0-14.8l-14.8,14.8"/>
<path class="b" d="M314.6,1288.1l14.8,14.8m0-14.8l-14.8,14.8"/><path class="c" d="M314.6,1288.1l14.8,14.8m0-14.8l-14.8,14.8"/>
<path class="b" d="M602.6,1044.1l14.8,14.8m0-14.8l-14.8,14.8"/><path class="c" d="M602.6,1044.1l14.8,14.8m0-14.8l-14.8,14.8"/>
<path class="b" d="M424.6,1127.1l14.8,14.8m0-14.8l-14.8,14.8"/><path class="c" d="M424.6,1127.1l14.8,14.8m0-14.8l-14.8,14.8"/>
<path class="b" d="M411.6,1042.1l14.8,14.8m0-14.8l-14.8,14.8"/><path class="c" d="M411.6,1042.1l14.8,14.8m0-14.8l-14.8,14.8"/>
<path class="b" d="M603.6,1018.1l14.8,14.8m0-14.8l-14.8,14.8"/><path class="c" d="M603.6,1018.1l14.8,14.8m0-14.8l-14.8,14.8"/>
<path class="b" d="M371.6,1057.1l14.8,14.8m0-14.8l-14.8,14.8"/><path class="c" d="M371.6,1057.1l14.8,14.8m0-14.8l-14.8,14.8"/>
<path class="b" d="M393.6,1070.1l14.8,14.8m0-14.8l-14.8,14.8"/><path class="c" d="M393.6,1070.1l14.8,14.8m0-14.8l-14.8,14.8"/>
<path class="b" d="M456.6,968.1l14.8,14.8m0-14.8l-14.8,14.8"/><path class="c" d="M456.6,968.1l14.8,14.8m0-14.8l-14.8,14.8"/>
<path class="b" d="M470.6,1080.1l14.8,14.8m0-14.8l-14.8,14.8"/><path class="c" d="M470.6,1080.1l14.8,14.8m0-14.8l-14.8,14.8"/>
<path class="b" d="M629.6,1050.1l14.8,14.8m0-14.8l-14.8,14.8"/><path class="c" d="M629.6,1050.1l14.8,14.8m0-14.8l-14.8,14.8"/>
<path class="b" d="M739.6,1051.1l14.8,14.8m0-14.8l-14.8,14.8"/><path class="c" d="M739.6,1051.1l14.8,14.8m0-14.8l-14.8,14.8"/>
<path class="b" d="M467.6,1151.1l14.8,14.8m0-14.8l-14.8,14.8"/><path class="c" d="M467.6,1151.1l14.8,14.8m0-14.8l-14.8,14.8"/>
<path class="b" d="M425.6,1006.1l14.8,14.8m0-14.8l-14.8,14.8"/><path class="c" d="M425.6,1006.1l14.8,14.8m0-14.8l-14.8,14.8"/>
<path class="b" d="M592.6,1048.1l14.8,14.8m0-14.8l-14.8,14.8"/><path class="c" d="M592.6,1048.1l14.8,14.8m0-14.8l-14.8,14.8"/>
<path class="b" d="M367.6,989.1l14.8,14.8m0-14.8l-14.8,14.8"/><path class="c" d="M367.6,989.1l14.8,14.8m0-14.8l-14.8,14.8"/>
<path class="b" d="M350.6,1040.1l14.8,14.8m0-14.8l-14.8,14.8"/><path class="c" d="M350.6,1040.1l14.8,14.8m0-14.8l-14.8,14.8"/>
<path class="b" d="M382.6,980.1l14.8,14.8m0-14.8l-14.8,14.8"/><path class="c" d="M382.6,980.1l14.8,14.8m0-14.8l-14.8,14.8"/>
<path class="b" d="M465.6,998.1l14.8,14.8m0-14.8l-14.8,14.8"/><path class="c" d="M465.6,998.1l14.8,14.8m0-14.8l-14.8,14.8"/>
<path class="b" d="M476.6,1163.1l14.8,14.8m0-14.8l-14.8,14.8"/><path class="c" d="M476.6,1163.1l14.8,14.8m0-14.8l-14.8,14.8"/>
<path class="b" d="M473.6,1192.1l14.8,14.8m0-14.8l-14.8,14.8"/><path class="c" d="M473.6,1192.1l14.8,14.8m0-14.8l-14.8,14.8"/>
<path class="b" d="M379.6,997.1l14.8,14.8m0-14.8l-14.8,14.8"/><path class="c" d="M379.6,997.1l14.8,14.8m0-14.8l-14.8,14.8"/>
<path class="b" d="M359.6,1065.1l14.8,14.8m0-14.8l-14.8,14.8"/><path class="c" d="M359.6,1065.1l14.8,14.8m0-14.8l-14.8,14.8"/>
<path class="b" d="M657.6,1042.1l14.8,14.8m0-14.8l-14.8,14.8"/><path class="c" d="M657.6,1042.1l14.8,14.8m0-14.8l-14.8,14.8"/>
<path class="b" d="M416.6,958.1l14.8,14.8m0-14.8l-14.8,14.8"/><path class="c" d="M416.6,958.1l14.8,14.8m0-14.8l-14.8,14.8"/>
<path class="b" d="M351.6,1011.1l14.8,14.8m0-14.8l-14.8,14.8"/><path class="c" d="M351.6,1011.1l14.8,14.8m0-14.8l-14.8,14.8"/>
<path class="b" d="M426.6,1040.1l14.8,14.8m0-14.8l-14.8,14.8"/><path class="c" d="M426.6,1040.1l14.8,14.8m0-14.8l-14.8,14.8"/>
<path class="b" d="M521.6,972.1l14.8,14.8m0-14.8l-14.8,14.8"/><path class="c" d="M521.6,972.1l14.8,14.8m0-14.8l-14.8,14.8"/>
<path class="b" d="M476.6,961.1l14.8,14.8m0-14.8l-14.8,14.8"/><path class="c" d="M476.6,961.1l14.8,14.8m0-14.8l-14.8,14.8"/>
<path class="b" d="M446.6,1094.1l14.8,14.8m0-14.8l-14.8,14.8"/><path class="c" d="M446.6,1094.1l14.8,14.8m0-14.8l-14.8,14.8"/>
<path class="b" d="M367.6,1046.1l14.8,14.8m0-14.8l-14.8,14.8"/><path class="c" d="M367.6,1046.1l14.8,14.8m0-14.8l-14.8,14.8"/>
<path class="b" d="M475.6,1038.1l14.8,14.8m0-14.8l-14.8,14.8"/><path class="c" d="M475.6,1038.1l14.8,14.8m0-14.8l-14.8,14.8"/>
<path class="b" d="M534.6,1019.1l14.8,14.8m0-14.8l-14.8,14.8"/><path class="c" d="M534.6,1019.1l14.8,14.8m0-14.8l-14.8,14.8"/>
<path class="b" d="M526.6,1029.1l14.8,14.8m0-14.8l-14.8,14.8"/><path class="c" d="M526.6,1029.1l14.8,14.8m0-14.8l-14.8,14.8"/>
<path class="b" d="M364.6,989.1l14.8,14.8m0-14.8l-14.8,14.8"/><path class="c" d="M364.6,989.1l14.8,14.8m0-14.8l-14.8,14.8"/>
<path class="b" d="M435.6,1107.1l14.8,14.8m0-14.8l-14.8,14.8"/><path class="c" d="M435.6,1107.1l14.8,14.8m0-14.8l-14.8,14.8"/>
<path class="b" d="M387.6,1017.1l14.8,14.8m0-14.8l-14.8,14.8"/><path class="c" d="M387.6,1017.1l14.8,14.8m0-14.8l-14.8,14.8"/>
<path class="b" d="M617.6,1042.1l14.8,14.8m0-14.8l-14.8,14.8"/><path class="c" d="M617.6,1042.1l14.8,14.8m0-14.8l-14.8,14.8"/>
<path class="b" d="M471.6,1106.1l14.8,14.8m0-14.8l-14.8,14.8"/><path class="c" d="M471.6,1106.1l14.8,14.8m0-14.8l-14.8,14.8"/>
<path class="b" d="M454.6,966.1l14.8,14.8m0-14.8l-14.8,14.8"/><path class="c" d="M454.6,966.1l14.8,14.8m0-14.8l-14.8,14.8"/>
<path class="b" d="M310.6,1032.1l14.8,14.8m0-14.8l-14.8,14.8"/><path class="c" d="M310.6,1032.1l14.8,14.8m0-14.8l-14.8,14.8"/>
<path class="b" d="M525.6,1003.1l14.8,14.8m0-14.8l-14.8,14.8"/><path class="c" d="M525.6,1003.1l14.8,14.8m0-14.8l-14.8,14.8"/>
<path class="b" d="M387.6,997.1l14.8,14.8m0-14.8l-14.8,14.8"/><path class="c" d="M387.6,997.1l14.8,14.8m0-14.8l-14.8,14.8"/>
<path class="b" d="M417.6,1117.1l14.8,14.8m0-14.8l-14.8,14.8"/><path class="c" d="M417.6,1117.1l14.8,14.8m0-14.8l-14.8,14.8"/>
<path class="b" d="M626.6,1065.1l14.8,14.8m0-14.8l-14.8,14.8"/><path class="c" d="M626.6,1065.1l14.8,14.8m0-14.8l-14.8,14.8"/>
<path class="b" d="M420.6,1013.1l14.8,14.8m0-14.8l-14.8,14.8"/><path class="c" d="M420.6,1013.1l14.8,14.8m0-14.8l-14.8,14.8"/>
<path class="b" d="M255.6,910.1l14.8,14.8m0-14.8l-14.8,14.8"/><path class="c" d="M255.6,910.1l14.8,14.8m0-14.8l-14.8,14.8"/>
<path class="b" d="M342.6,1088.1l14.8,14.8m0-14.8l-14.8,14.8"/><path class="c" d="M342.6,1088.1l14.8,14.8m0-14.8l-14.8,14.8"/>
<path class="b" d="M352.6,1158.1l14.8,14.8m0-14.8l-14.8,14.8"/><path class="c" d="M352.6,1158.1l14.8,14.8m0-14.8l-14.8,14.8"/>
<path class="b" d="M370.6,898.1l14.8,14.8m0-14.8l-14.8,14.8"/><path class="c" d="M370.6,898.1l14.8,14.8m0-14.8l-14.8,14.8"/>
<path class="b" d="M376.6,1038.1l14.8,14.8m0-14.8l-14.8,14.8"/><path class="c" d="M376.6,1038.1l14.8,14.8m0-14.8l-14.8,14.8"/>
<path class="b" d="M465.6,1121.1l14.8,14.8m0-14.8l-14.8,14.8"/><path class="c" d="M465.6,1121.1l14.8,14.8m0-14.8l-14.8,14.8"/>
<path class="b" d="M678.6,1100.1l14.8,14.8m0-14.8l-14.8,14.8"/><path class="c" d="M678.6,1100.1l14.8,14.8m0-14.8l-14.8,14.8"/>
<path class="b" d="M444.6,956.1l14.8,14.8m0-14.8l-14.8,14.8"/><path class="c" d="M444.6,956.1l14.8,14.8m0-14.8l-14.8,14.8"/>
<path class="b" d="M690.6,1032.1l14.8,14.8m0-14.8l-14.8,14.8"/><path class="c" d="M690.6,1032.1l14.8,14.8m0-14.8l-14.8,14.8"/>
<path class="b" d="M389.6,1149.1l14.8,14.8m0-14.8l-14.8,14.8"/><path class="c" d="M389.6,1149.1l14.8,14.8m0-14.8l-14.8,14.8"/>
<path class="b" d="M386.6,1116.1l14.8,14.8m0-14.8l-14.8,14.8"/><path class="c" d="M386.6,1116.1l14.8,14.8m0-14.8l-14.8,14.8"/>
<path class="b" d="M452.6,1007.1l14.8,14.8m0-14.8l-14.8,14.8"/><path class="c" d="M452.6,1007.1l14.8,14.8m0-14.8l-14.8,14.8"/>
<path class="b" d="M381.6,934.1l14.8,14.8m0-14.8l-14.8,14.8"/><path class="c" d="M381.6,934.1l14.8,14.8m0-14.8l-14.8,14.8"/>
<path class="b" d="M434.6,1128.1l14.8,14.8m0-14.8l-14.8,14.8"/><path class="c" d="M434.6,1128.1l14.8,14.8m0-14.8l-14.8,14.8"/>
<path class="b" d="M356.6,1011.1l14.8,14.8m0-14.8l-14.8,14.8"/><path class="c" d="M356.6,1011.1l14.8,14.8m0-14.8l-14.8,14.8"/>
<path class="b" d="M581.6,1040.1l14.8,14.8m0-14.8l-14.8,14.8"/><path class="c" d="M581.6,1040.1l14.8,14.8m0-14.8l-14.8,14.8"/>
<path class="b" d="M495.6,1006.1l14.8,14.8m0-14.8l-14.8,14.8"/><path class="c" d="M495.6,1006.1l14.8,14.8m0-14.8l-14.8,14.8"/>
<path class="b" d="M739.6,1040.1l14.8,14.8m0-14.8l-14.8,14.8"/><path class="c" d="M739.6,1040.1l14.8,14.8m0-14.8l-14.8,14.8"/>
<path class="b" d="M350.6,1230.1l14.8,14.8m0-14.8l-14.8,14.8"/><path class="c" d="M350.6,1230.1l14.8,14.8m0-14.8l-14.8,14.8"/>
<path class="b" d="M666.6,1051.1l14.8,14.8m0-14.8l-14.8,14.8"/><path class="c" d="M666.6,1051.1l14.8,14.8m0-14.8l-14.8,14.8"/>
<path class="b" d="M574.6,1088.1l14.8,14.8m0-14.8l-14.8,14.8"/><path class="c" d="M574.6,1088.1l14.8,14.8m0-14.8l-14.8,14.8"/>
<path class="b" d="M412.6,1082.1l14.8,14.8m0-14.8l-14.8,14.8"/><path class="c" d="M412.6,1082.1l14.8,14.8m0-14.8l-14.8,14.8"/>
<path class="b" d="M418.6,1052.1l14.8,14.8m0-14.8l-14.8,14.8"/><path class="c" d="M418.6,1052.1l14.8,14.8m0-14.8l-14.8,14.8"/>
<path class="b" d="M489.6,970.1l14.8,14.8m0-14.8l-14.8,14.8"/><path class="c" d="M489.6,970.1l14.8,14.8m0-14.8l-14.8,14.8"/>
<path class="b" d="M653.6,1055.1l14.8,14.8m0-14.8l-14.8,14.8"/><path class="c" d="M653.6,1055.1l14.8,14.8m0-14.8l-14.8,14.8"/>
<path class="b" d="M377.6,977.1l14.8,14.8m0-14.8l-14.8,14.8"/><path class="c" d="M377.6,977.1l14.8,14.8m0-14.8l-14.8,14.8"/>
<path class="b" d="M427.6,1075.1l14.8,14.8m0-14.8l-14.8,14.8"/><path class="c" d="M427.6,1075.1l14.8,14.8m0-14.8l-14.8,14.8"/>
<path class="b" d="M422.6,1007.1l14.8,14.8m0-14.8l-14.8,14.8"/><path class="c" d="M422.6,1007.1l14.8,14.8m0-14.8l-14.8,14.8"/>
<path class="b" d="M423.6,1097.1l14.8,14.8m0-14.8l-14.8,14.8"/><path class="c" d="M423.6,1097.1l14.8,14.8m0-14.8l-14.8,14.8"/>
<path class="b" d="M655.6,1027.1l14.8,14.8m0-14.8l-14.8,14.8"/><path class="c" d="M655.6,1027.1l14.8,14.8m0-14.8l-14.8,14.8"/>
<path class="b" d="M620.6,1068.1l14.8,14.8m0-14.8l-14.8,14.8"/><path class="c" d="M620.6,1068.1l14.8,14.8m0-14.8l-14.8,14.8"/>
<path class="b" d="M425.6,1099.1l14.8,14.8m0-14.8l-14.8,14.8"/><path class="c" d="M425.6,1099.1l14.8,14.8m0-14.8l-14.8,14.8"/>
<path class="b" d="M518.6,971.1l14.8,14.8m0-14.8l-14.8,14.8"/><path class="c" d="M518.6,971.1l14.8,14.8m0-14.8l-14.8,14.8"/>
<path class="b" d="M377.6,1097.1l14.8,14.8m0-14.8l-14.8,14.8"/><path class="c" d="M377.6,1097.1l14.8,14.8m0-14.8l-14.8,14.8"/>
<path class="b" d="M411.6,941.1l14.8,14.8m0-14.8l-14.8,14.8"/><path class="c" d="M411.6,941.1l14.8,14.8m0-14.8l-14.8,14.8"/>
<path class="b" d="M557.6,1025.1l14.8,14.8m0-14.8l-14.8,14.8"/><path class="c" d="M557.6,1025.1l14.8,14.8m0-14.8l-14.8,14.8"/>
<path class="b" d="M485.6,1027.1l14.8,14.8m0-14.8l-14.8,14.8"/><path class="c" d="M485.6,1027.1l14.8,14.8m0-14.8l-14.8,14.8"/>
<path class="b" d="M366.6,1012.1l14.8,14.8m0-14.8l-14.8,14.8"/><path class="c" d="M366.6,1012.1l14.8,14.8m0-14.8l-14.8,14.8"/>
<path class="b" d="M467.6,1066.1l14.8,14.8m0-14.8l-14.8,14.8"/><path class="c" d="M467.6,1066.1l14.8,14.8m0-14.8l-14.8,14.8"/>
<path class="b" d="M611.6,1059.1l14.8,14.8m0-14.8l-14.8,14.8"/><path class="c" d="M611.6,1059.1l14.8,14.8m0-14.8l-14.8,14.8"/>
<path class="b" d="M506.6,1120.1l14.8,14.8m0-14.8l-14.8,14.8"/><path class="c" d="M506.6,1120.1l14.8,14.8m0-14.8l-14.8,14.8"/>
<path class="b" d="M611.6,1034.1l14.8,14.8m0-14.8l-14.8,14.8"/><path class="c" d="M611.6,1034.1l14.8,14.8m0-14.8l-14.8,14.8"/>
<path class="b" d="M461.6,1119.1l14.8,14.8m0-14.8l-14.8,14.8"/><path class="c" d="M461.6,1119.1l14.8,14.8m0-14.8l-14.8,14.8"/>
<path class="b" d="M413.6,932.1l14.8,14.8m0-14.8l-14.8,14.8"/><path class="c" d="M413.6,932.1l14.8,14.8m0-14.8l-14.8,14.8"/>
<path class="b" d="M496.6,1078.1l14.8,14.8m0-14.8l-14.8,14.8"/><path class="c" d="M496.6,1078.1l14.8,14.8m0-14.8l-14.8,14.8"/>
<path class="b" d="M575.6,1062.1l14.8,14.8m0-14.8l-14.8,14.8"/><path class="c" d="M575.6,1062.1l14.8,14.8m0-14.8l-14.8,14.8"/>
<path class="b" d="M465.6,1051.1l14.8,14.8m0-14.8l-14.8,14.8"/><path class="c" d="M465.6,1051.1l14.8,14.8m0-14.8l-14.8,14.8"/>
<path class="b" d="M457.6,1079.1l14.8,14.8m0-14.8l-14.8,14.8"/><path class="c" d="M457.6,1079.1l14.8,14.8m0-14.8l-14.8,14.8"/>
<path class="b" d="M528.6,1161.1l14.8,14.8m0-14.8l-14.8,14.8"/><path class="c" d="M528.6,1161.1l14.8,14.8m0-14.8l-14.8,14.8"/>
<path class="b" d="M414.6,993.1l14.8,14.8m0-14.8l-14.8,14.8"/><path class="c" d="M414.6,993.1l14.8,14.8m0-14.8l-14.8,14.8"/>
<path class="b" d="M561.6,992.1l14.8,14.8m0-14.8l-14.8,14.8"/><path class="c" d="M561.6,992.1l14.8,14.8m0-14.8l-14.8,14.8"/>
<path class="b" d="M363.6,1016.1l14.8,14.8m0-14.8l-14.8,14.8"/><path class="c" d="M363.6,1016.1l14.8,14.8m0-14.8l-14.8,14.8"/>
<path class="b" d="M441.6,1124.1l14.8,14.8m0-14.8l-14.8,14.8"/><path class="c" d="M441.6,1124.1l14.8,14.8m0-14.8l-14.8,14.8"/>
<path class="b" d="M432.6,1092.1l14.8,14.8m0-14.8l-14.8,14.8"/><path class="c" d="M432.6,1092.1l14.8,14.8m0-14.8l-14.8,14.8"/>
<path class="b" d="M394.6,1013.1l14.8,14.8m0-14.8l-14.8,14.8"/><path class="c" d="M394.6,1013.1l14.8,14.8m0-14.8l-14.8,14.8"/>
<path class="b" d="M467.6,969.1l14.8,14.8m0-14.8l-14.8,14.8"/><path class="c" d="M467.6,969.1l14.8,14.8m0-14.8l-14.8,14.8"/>
<path class="b" d="M635.6,1047.1l14.8,14.8m0-14.8l-14.8,14.8"/><path class="c" d="M635.6,1047.1l14.8,14.8m0-14.8l-14.8,14.8"/>
<path class="b" d="M434.6,1037.1l14.8,14.8m0-14.8l-14.8,14.8"/><path class="c" d="M434.6,1037.1l14.8,14.8m0-14.8l-14.8,14.8"/>
<path class="b" d="M457.6,1056.1l14.8,14.8m0-14.8l-14.8,14.8"/><path class="c" d="M457.6,1056.1l14.8,14.8m0-14.8l-14.8,14.8"/>
<path class="b" d="M517.6,1025.1l14.8,14.8m0-14.8l-14.8,14.8"/><path class="c" d="M517.6,1025.1l14.8,14.8m0-14.8l-14.8,14.8"/>
<path class="b" d="M552.6,1064.1l14.8,14.8m0-14.8l-14.8,14.8"/><path class="c" d="M552.6,1064.1l14.8,14.8m0-14.8l-14.8,14.8"/>
<path class="b" d="M619.6,1026.1l14.8,14.8m0-14.8l-14.8,14.8"/><path class="c" d="M619.6,1026.1l14.8,14.8m0-14.8l-14.8,14.8"/>
<path class="b" d="M393.6,1132.1l14.8,14.8m0-14.8l-14.8,14.8"/><path class="c" d="M393.6,1132.1l14.8,14.8m0-14.8l-14.8,14.8"/>
<path class="b" d="M451.6,1065.1l14.8,14.8m0-14.8l-14.8,14.8"/><path class="c" d="M451.6,1065.1l14.8,14.8m0-14.8l-14.8,14.8"/>
<path class="b" d="M466.6,1014.1l14.8,14.8m0-14.8l-14.8,14.8"/><path class="c" d="M466.6,1014.1l14.8,14.8m0-14.8l-14.8,14.8"/>
<path class="b" d="M226.6,1005.1l14.8,14.8m0-14.8l-14.8,14.8"/><path class="c" d="M226.6,1005.1l14.8,14.8m0-14.8l-14.8,14.8"/>
<path class="b" d="M391.6,986.1l14.8,14.8m0-14.8l-14.8,14.8"/><path class="c" d="M391.6,986.1l14.8,14.8m0-14.8l-14.8,14.8"/>
<path class="b" d="M584.6,1002.1l14.8,14.8m0-14.8l-14.8,14.8"/><path class="c" d="M584.6,1002.1l14.8,14.8m0-14.8l-14.8,14.8"/>
<path class="b" d="M562.6,1085.1l14.8,14.8m0-14.8l-14.8,14.8"/><path class="c" d="M562.6,1085.1l14.8,14.8m0-14.8l-14.8,14.8"/>
<path class="b" d="M370.6,1078.1l14.8,14.8m0-14.8l-14.8,14.8"/><path class="c" d="M370.6,1078.1l14.8,14.8m0-14.8l-14.8,14.8"/>
<path class="b" d="M620.6,1069.1l14.8,14.8m0-14.8l-14.8,14.8"/><path class="c" d="M620.6,1069.1l14.8,14.8m0-14.8l-14.8,14.8"/>
<path class="b" d="M550.6,1047.1l14.8,14.8m0-14.8l-14.8,14.8"/><path class="c" d="M550.6,1047.1l14.8,14.8m0-14.8l-14.8,14.8"/>
<path class="b" d="M477.6,1158.1l14.8,14.8m0-14.8l-14.8,14.8"/><path class="c" d="M477.6,1158.1l14.8,14.8m0-14.8l-14.8,14.8"/>
<path class="b" d="M489.6,996.1l14.8,14.8m0-14.8l-14.8,14.8"/><path class="c" d="M489.6,996.1l14.8,14.8m0-14.8l-14.8,14.8"/>
<path class="b" d="M379.6,943.1l14.8,14.8m0-14.8l-14.8,14.8"/><path class="c" d="M379.6,943.1l14.8,14.8m0-14.8l-14.8,14.8"/>
<path class="b" d="M526.6,1108.1l14.8,14.8m0-14.8l-14.8,14.8"/><path class="c" d="M526.6,1108.1l14.8,14.8m0-14.8l-14.8,14.8"/>
<path class="b" d="M553.6,1076.1l14.8,14.8m0-14.8l-14.8,14.8"/><path class="c" d="M553.6,1076.1l14.8,14.8m0-14.8l-14.8,14.8"/>
<path class="b" d="M456.6,1073.1l14.8,14.8m0-14.8l-14.8,14.8"/><path class="c" d="M456.6,1073.1l14.8,14.8m0-14.8l-14.8,14.8"/>
<path class="b" d="M421.6,949.1l14.8,14.8m0-14.8l-14.8,14.8"/><path class="c" d="M421.6,949.1l14.8,14.8m0-14.8l-14.8,14.8"/>
<path class="b" d="M464.6,1020.1l14.8,14.8m0-14.8l-14.8,14.8"/><path class="c" d="M464.6,1020.1l14.8,14.8m0-14.8l-14.8,14.8"/>
<path class="b" d="M479.6,1058.1l14.8,14.8m0-14.8l-14.8,14.8"/><path class="c" d="M479.6,1058.1l14.8,14.8m0-14.8l-14.8,14.8"/>
<path class="b" d="M382.6,1109.1l14.8,14.8m0-14.8l-14.8,14.8"/><path class="c" d="M382.6,1109.1l14.8,14.8m0-14.8l-14.8,14.8"/>
<path class="b" d="M523.6,997.1l14.8,14.8m0-14.8l-14.8,14.8"/><path class="c" d="M523.6,997.1l14.8,14.8m0-14.8l-14.8,14.8"/>
<path class="b" d="M607.6,1076.1l14.8,14.8m0-14.8l-14.8,14.8"/><path class="c" d="M607.6,1076.1l14.8,14.8m0-14.8l-14.8,14.8"/>
<rect x="149.4" y="673.05" width="770.5" height="772.35" fill="none" stroke="#000" stroke-width="1.5"/>
<line x1="141.2" y1="673.00" x2="149.5" y2="673.00" stroke="#000" stroke-width="1.5"/>
<text transform="translate(125.90,682.90) scale(1,1.08)" text-anchor="end" font-size="29.6" font-family='"Liberation Sans", sans-serif'>1.00</text>
<line x1="141.2" y1="769.50" x2="149.5" y2="769.50" stroke="#000" stroke-width="1.5"/>
<text transform="translate(125.90,779.40) scale(1,1.08)" text-anchor="end" font-size="29.6" font-family='"Liberation Sans", sans-serif'>0.75</text>
<line x1="141.2" y1="866.00" x2="149.5" y2="866.00" stroke="#000" stroke-width="1.5"/>
<text transform="translate(125.90,875.90) scale(1,1.08)" text-anchor="end" font-size="29.6" font-family='"Liberation Sans", sans-serif'>0.50</text>
<line x1="141.2" y1="962.50" x2="149.5" y2="962.50" stroke="#000" stroke-width="1.5"/>
<text transform="translate(125.90,972.40) scale(1,1.08)" text-anchor="end" font-size="29.6" font-family='"Liberation Sans", sans-serif'>0.25</text>
<line x1="141.2" y1="1059.00" x2="149.5" y2="1059.00" stroke="#000" stroke-width="1.5"/>
<text transform="translate(125.90,1068.90) scale(1,1.08)" text-anchor="end" font-size="29.6" font-family='"Liberation Sans", sans-serif'>0.00</text>
<line x1="141.2" y1="1155.50" x2="149.5" y2="1155.50" stroke="#000" stroke-width="1.5"/>
<text transform="translate(125.90,1165.40) scale(1,1.08)" text-anchor="end" font-size="29.6" font-family='"Liberation Sans", sans-serif'>-0.25</text>
<line x1="141.2" y1="1252.00" x2="149.5" y2="1252.00" stroke="#000" stroke-width="1.5"/>
<text transform="translate(125.90,1261.90) scale(1,1.08)" text-anchor="end" font-size="29.6" font-family='"Liberation Sans", sans-serif'>-0.50</text>
<line x1="141.2" y1="1348.50" x2="149.5" y2="1348.50" stroke="#000" stroke-width="1.5"/>
<text transform="translate(125.90,1358.40) scale(1,1.08)" text-anchor="end" font-size="29.6" font-family='"Liberation Sans", sans-serif'>-0.75</text>
<line x1="141.2" y1="1445.00" x2="149.5" y2="1445.00" stroke="#000" stroke-width="1.5"/>
<text transform="translate(125.90,1454.90) scale(1,1.08)" text-anchor="end" font-size="29.6" font-family='"Liberation Sans", sans-serif'>-1.00</text>
<line x1="149.50" y1="1445.0" x2="149.50" y2="1453.3" stroke="#000" stroke-width="1.5"/>
<text transform="translate(149.50,1494.70) scale(1,1.08)" text-anchor="middle" font-size="29.6" font-family='"Liberation Sans", sans-serif'>0.00</text>
<line x1="342.12" y1="1445.0" x2="342.12" y2="1453.3" stroke="#000" stroke-width="1.5"/>
<text transform="translate(342.12,1494.70) scale(1,1.08)" text-anchor="middle" font-size="29.6" font-family='"Liberation Sans", sans-serif'>0.25</text>
<line x1="534.75" y1="1445.0" x2="534.75" y2="1453.3" stroke="#000" stroke-width="1.5"/>
<text transform="translate(534.75,1494.70) scale(1,1.08)" text-anchor="middle" font-size="29.6" font-family='"Liberation Sans", sans-serif'>0.50</text>
<line x1="727.38" y1="1445.0" x2="727.38" y2="1453.3" stroke="#000" stroke-width="1.5"/>
<text transform="translate(727.38,1494.70) scale(1,1.08)" text-anchor="middle" font-size="29.6" font-family='"Liberation Sans", sans-serif'>0.75</text>
<line x1="920.00" y1="1445.0" x2="920.00" y2="1453.3" stroke="#000" stroke-width="1.5"/>
<text transform="translate(920.00,1494.70) scale(1,1.08)" text-anchor="middle" font-size="29.6" font-family='"Liberation Sans", sans-serif'>1.00</text>
<text transform="translate(18.50,682.10) scale(1,1.04)" text-anchor="start" font-size="33" font-weight="bold" font-family='"Liberation Sans", sans-serif'>B</text>
<text transform="translate(535.00,1551.20) scale(1,1.05)" text-anchor="middle" font-size="34.2" font-family='"Liberation Sans", sans-serif'>Mean scaled hydropathy</text>
<text transform="translate(32.80,1058.20) rotate(-90) scale(1,1.05)" text-anchor="middle" font-size="34.2" font-family='"Liberation Sans", sans-serif'>Mean net charge</text>
<g stroke="#F20000" stroke-width="5.2" fill="none" stroke-linecap="round" stroke-linejoin="miter">
<line x1="149.50" y1="673.45" x2="920.00" y2="1059.30"/>
<line x1="234.79" y1="1445.00" x2="920.00" y2="1059.00"/>
<polyline points="589.6,894.3 468.0,1059.0 597.5,1238.6"/>
<line x1="611.5" y1="904.7" x2="611.5" y2="1231" stroke-dasharray="13.2 10.8"/>
</g>
</svg></body></html>
